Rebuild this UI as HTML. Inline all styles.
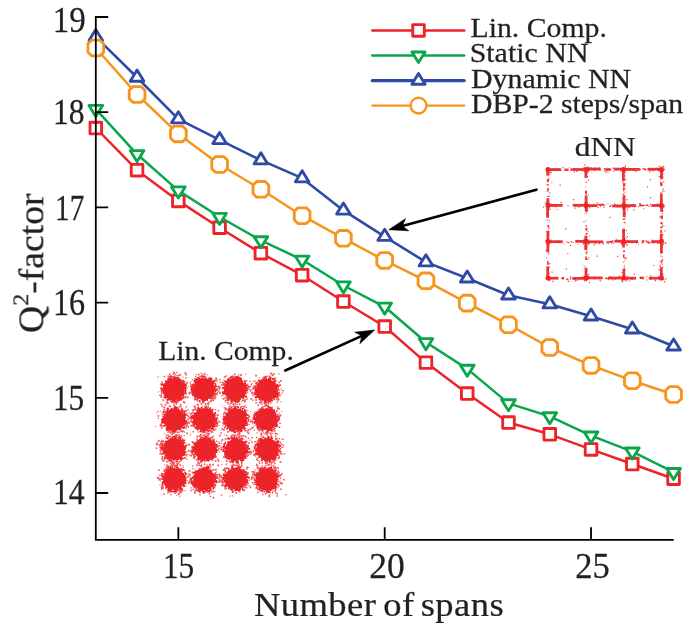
<!DOCTYPE html>
<html><head><meta charset="utf-8"><style>
html,body{margin:0;padding:0;background:#fff;}
svg{display:block;}
</style></head><body>
<svg width="685" height="627" viewBox="0 0 685 627">

<rect width="685" height="627" fill="#fff"/>
<g fill="#ec2328"><circle cx="173.8" cy="389.1" r="10.8"/><circle cx="204.1" cy="389.2" r="10.8"/><circle cx="235.1" cy="389.3" r="10.8"/><circle cx="266.7" cy="390.1" r="10.8"/><circle cx="174.5" cy="419.5" r="10.8"/><circle cx="204.4" cy="419.1" r="10.8"/><circle cx="236.1" cy="419.5" r="10.8"/><circle cx="266.6" cy="419.3" r="10.8"/><circle cx="174.1" cy="449.1" r="10.8"/><circle cx="204.8" cy="449.0" r="10.8"/><circle cx="236.1" cy="449.7" r="10.8"/><circle cx="267.5" cy="449.2" r="10.8"/><circle cx="174.0" cy="478.9" r="10.8"/><circle cx="204.1" cy="479.5" r="10.8"/><circle cx="235.5" cy="478.8" r="10.8"/><circle cx="266.5" cy="479.5" r="10.8"/><path d="M165.0,397.8h1.1v1.1h-1.1zM163.6,393.0h1.7v1.7h-1.7zM174.6,398.1h1.7v1.7h-1.7zM185.3,392.4h1.1v1.1h-1.1zM179.9,380.0h1.4v1.4h-1.4zM161.1,383.5h1.7v1.7h-1.7zM163.9,383.2h1.7v1.7h-1.7zM161.1,383.2h1.7v1.7h-1.7zM168.1,377.6h1.4v1.4h-1.4zM169.2,376.2h1.1v1.1h-1.1zM167.3,397.1h1.4v1.4h-1.4zM185.5,387.0h1.1v1.1h-1.1zM182.9,384.0h1.4v1.4h-1.4zM167.3,378.2h1.7v1.7h-1.7zM169.2,377.8h1.7v1.7h-1.7zM176.5,377.9h1.1v1.1h-1.1zM169.1,398.0h1.7v1.7h-1.7zM163.6,396.4h1.7v1.7h-1.7zM183.7,384.2h1.4v1.4h-1.4zM174.4,378.4h1.1v1.1h-1.1zM165.0,394.4h1.4v1.4h-1.4zM182.5,379.9h1.4v1.4h-1.4zM170.9,400.8h1.4v1.4h-1.4zM174.8,401.0h1.1v1.1h-1.1zM174.6,400.3h1.1v1.1h-1.1zM171.2,398.6h1.1v1.1h-1.1zM165.5,396.2h1.7v1.7h-1.7zM177.3,398.9h1.1v1.1h-1.1zM182.7,395.6h1.7v1.7h-1.7zM182.5,395.4h1.4v1.4h-1.4zM165.0,396.0h1.7v1.7h-1.7zM167.2,396.8h1.4v1.4h-1.4zM184.7,386.7h1.4v1.4h-1.4zM183.1,394.4h1.1v1.1h-1.1zM169.5,379.2h1.7v1.7h-1.7zM184.8,384.5h1.7v1.7h-1.7zM173.7,376.8h1.4v1.4h-1.4zM174.9,378.4h1.4v1.4h-1.4zM173.9,375.6h1.1v1.1h-1.1zM171.8,376.2h1.1v1.1h-1.1zM184.4,383.7h1.4v1.4h-1.4zM165.2,397.7h1.1v1.1h-1.1zM161.2,389.5h1.7v1.7h-1.7zM161.4,389.7h1.7v1.7h-1.7zM182.3,397.0h1.4v1.4h-1.4zM164.3,394.9h1.1v1.1h-1.1zM179.0,396.6h1.4v1.4h-1.4zM180.7,398.4h1.7v1.7h-1.7zM176.5,377.3h1.7v1.7h-1.7zM176.1,400.6h1.4v1.4h-1.4zM179.4,395.2h1.7v1.7h-1.7zM183.7,381.1h1.4v1.4h-1.4zM182.2,380.0h1.1v1.1h-1.1zM163.9,392.2h1.1v1.1h-1.1zM174.8,379.1h1.1v1.1h-1.1zM163.1,386.4h1.4v1.4h-1.4zM182.5,395.0h1.4v1.4h-1.4zM163.7,391.7h1.7v1.7h-1.7zM160.8,390.3h1.1v1.1h-1.1zM180.5,381.1h1.4v1.4h-1.4zM163.3,392.3h1.1v1.1h-1.1zM169.6,399.0h1.1v1.1h-1.1zM179.8,398.3h1.7v1.7h-1.7zM180.1,396.6h1.4v1.4h-1.4zM183.6,385.2h1.4v1.4h-1.4zM160.4,387.1h1.4v1.4h-1.4zM166.3,396.0h1.4v1.4h-1.4zM163.6,392.3h1.1v1.1h-1.1zM184.5,385.7h1.1v1.1h-1.1zM176.0,377.5h1.1v1.1h-1.1zM177.5,397.9h1.1v1.1h-1.1zM182.7,382.8h1.7v1.7h-1.7zM168.0,398.1h1.4v1.4h-1.4zM182.7,393.2h1.1v1.1h-1.1zM177.1,377.1h1.1v1.1h-1.1zM180.3,395.4h1.1v1.1h-1.1zM162.2,384.6h1.4v1.4h-1.4zM177.5,398.0h1.4v1.4h-1.4zM162.4,392.0h1.7v1.7h-1.7zM167.6,396.6h1.1v1.1h-1.1zM161.5,388.1h1.1v1.1h-1.1zM173.3,398.0h1.4v1.4h-1.4zM162.4,388.7h1.4v1.4h-1.4zM181.6,393.4h1.4v1.4h-1.4zM173.7,400.9h1.4v1.4h-1.4zM177.6,398.8h1.4v1.4h-1.4zM182.8,386.5h1.7v1.7h-1.7zM182.1,393.6h1.4v1.4h-1.4zM176.5,399.3h1.7v1.7h-1.7zM185.1,390.1h1.4v1.4h-1.4zM170.2,375.7h1.7v1.7h-1.7zM180.6,398.7h1.7v1.7h-1.7zM161.3,383.7h1.7v1.7h-1.7zM172.1,399.7h1.4v1.4h-1.4zM172.8,376.6h1.7v1.7h-1.7zM183.1,393.4h1.4v1.4h-1.4zM167.5,380.6h1.4v1.4h-1.4zM164.7,396.0h1.4v1.4h-1.4zM165.7,380.2h1.1v1.1h-1.1zM179.3,396.6h1.4v1.4h-1.4zM180.3,396.4h1.4v1.4h-1.4zM171.4,401.0h1.7v1.7h-1.7zM170.5,378.6h1.4v1.4h-1.4zM161.1,391.1h1.1v1.1h-1.1zM163.1,390.8h1.7v1.7h-1.7zM181.5,393.7h1.7v1.7h-1.7zM177.6,378.4h1.7v1.7h-1.7zM180.6,394.8h1.4v1.4h-1.4zM185.0,390.4h1.1v1.1h-1.1zM168.6,398.5h1.4v1.4h-1.4zM173.1,377.0h1.4v1.4h-1.4zM183.5,392.9h1.4v1.4h-1.4zM174.0,376.5h1.4v1.4h-1.4zM183.6,384.1h1.7v1.7h-1.7zM179.0,399.2h1.4v1.4h-1.4zM169.6,399.0h1.7v1.7h-1.7zM173.9,399.4h1.4v1.4h-1.4zM164.0,395.7h1.1v1.1h-1.1zM177.6,376.9h1.7v1.7h-1.7zM182.1,382.3h1.4v1.4h-1.4zM178.1,398.3h1.7v1.7h-1.7zM173.8,398.4h1.4v1.4h-1.4zM180.8,380.2h1.4v1.4h-1.4zM163.2,386.9h1.4v1.4h-1.4zM164.6,384.1h1.4v1.4h-1.4zM160.4,388.0h1.7v1.7h-1.7zM182.7,381.1h1.4v1.4h-1.4zM163.3,391.9h1.4v1.4h-1.4zM184.3,390.6h1.7v1.7h-1.7zM176.8,377.3h1.7v1.7h-1.7zM184.4,386.5h1.1v1.1h-1.1zM175.3,376.4h1.1v1.1h-1.1zM174.6,400.5h1.1v1.1h-1.1zM172.8,398.2h1.7v1.7h-1.7zM174.2,377.8h1.1v1.1h-1.1zM163.4,396.9h1.1v1.1h-1.1zM184.7,388.3h1.7v1.7h-1.7zM174.3,399.6h1.1v1.1h-1.1zM185.2,392.9h1.1v1.1h-1.1zM167.8,378.2h1.4v1.4h-1.4zM166.3,395.6h1.4v1.4h-1.4zM166.7,398.8h1.4v1.4h-1.4zM170.4,397.6h1.7v1.7h-1.7zM163.6,388.8h1.1v1.1h-1.1zM174.9,398.5h1.4v1.4h-1.4zM164.9,380.4h1.7v1.7h-1.7zM167.9,379.7h1.7v1.7h-1.7zM163.7,396.1h1.1v1.1h-1.1zM170.3,377.2h1.1v1.1h-1.1zM181.9,381.8h1.4v1.4h-1.4zM163.6,386.9h1.4v1.4h-1.4zM165.5,396.1h1.4v1.4h-1.4zM182.3,395.9h1.1v1.1h-1.1zM161.1,390.4h1.4v1.4h-1.4zM163.8,391.6h1.4v1.4h-1.4zM164.5,393.6h1.7v1.7h-1.7zM184.5,391.5h1.1v1.1h-1.1zM176.6,397.8h1.1v1.1h-1.1zM166.5,398.8h1.4v1.4h-1.4zM172.7,378.0h1.7v1.7h-1.7zM171.7,398.1h1.1v1.1h-1.1zM174.3,400.5h1.4v1.4h-1.4zM181.5,397.6h1.4v1.4h-1.4zM178.0,378.8h1.1v1.1h-1.1zM162.9,387.6h1.4v1.4h-1.4zM179.9,399.2h1.4v1.4h-1.4zM184.6,387.5h1.4v1.4h-1.4zM183.3,387.6h1.4v1.4h-1.4zM181.2,397.4h1.4v1.4h-1.4zM179.5,378.8h1.7v1.7h-1.7zM172.4,376.8h1.1v1.1h-1.1zM177.4,398.2h1.1v1.1h-1.1zM167.5,399.1h1.4v1.4h-1.4zM173.2,400.0h1.7v1.7h-1.7zM184.1,387.9h1.1v1.1h-1.1zM170.0,400.1h1.1v1.1h-1.1zM165.0,382.4h1.7v1.7h-1.7zM178.3,399.3h1.7v1.7h-1.7zM175.1,377.8h1.1v1.1h-1.1zM175.6,400.6h1.4v1.4h-1.4zM184.2,391.5h1.4v1.4h-1.4zM177.1,379.1h1.4v1.4h-1.4zM162.9,385.3h1.1v1.1h-1.1zM178.2,397.0h1.7v1.7h-1.7zM183.3,387.5h1.7v1.7h-1.7zM162.4,383.7h1.4v1.4h-1.4zM183.2,389.5h1.4v1.4h-1.4zM183.9,384.3h1.4v1.4h-1.4zM179.3,398.5h1.1v1.1h-1.1zM180.2,397.3h1.4v1.4h-1.4zM161.9,388.2h1.1v1.1h-1.1zM179.2,398.1h1.1v1.1h-1.1zM179.2,378.8h1.1v1.1h-1.1zM184.1,382.9h1.4v1.4h-1.4zM170.7,378.9h1.7v1.7h-1.7zM212.2,397.0h1.1v1.1h-1.1zM208.2,378.1h1.1v1.1h-1.1zM194.2,381.8h1.7v1.7h-1.7zM199.3,399.8h1.1v1.1h-1.1zM213.0,387.6h1.4v1.4h-1.4zM204.2,378.8h1.4v1.4h-1.4zM214.8,393.6h1.4v1.4h-1.4zM213.4,395.0h1.4v1.4h-1.4zM210.0,395.5h1.7v1.7h-1.7zM201.7,378.7h1.1v1.1h-1.1zM215.0,385.0h1.1v1.1h-1.1zM212.0,392.2h1.7v1.7h-1.7zM213.5,387.3h1.4v1.4h-1.4zM207.7,378.3h1.1v1.1h-1.1zM208.2,379.8h1.7v1.7h-1.7zM193.3,388.3h1.4v1.4h-1.4zM202.4,399.1h1.7v1.7h-1.7zM194.5,394.4h1.7v1.7h-1.7zM197.9,376.8h1.4v1.4h-1.4zM193.7,386.4h1.7v1.7h-1.7zM216.1,385.7h1.4v1.4h-1.4zM193.9,395.9h1.4v1.4h-1.4zM195.3,398.5h1.1v1.1h-1.1zM207.6,397.0h1.7v1.7h-1.7zM198.7,399.8h1.7v1.7h-1.7zM195.3,381.2h1.4v1.4h-1.4zM197.1,396.0h1.1v1.1h-1.1zM213.5,390.0h1.1v1.1h-1.1zM195.0,383.3h1.1v1.1h-1.1zM209.7,377.3h1.1v1.1h-1.1zM210.2,397.7h1.1v1.1h-1.1zM209.6,396.4h1.7v1.7h-1.7zM213.3,380.3h1.7v1.7h-1.7zM215.2,388.6h1.1v1.1h-1.1zM213.9,392.6h1.1v1.1h-1.1zM193.5,385.3h1.1v1.1h-1.1zM192.7,387.8h1.7v1.7h-1.7zM193.5,379.9h1.7v1.7h-1.7zM210.9,382.2h1.4v1.4h-1.4zM213.7,388.9h1.4v1.4h-1.4zM202.4,400.7h1.7v1.7h-1.7zM199.5,377.4h1.4v1.4h-1.4zM215.0,386.4h1.4v1.4h-1.4zM212.4,382.1h1.7v1.7h-1.7zM208.6,396.5h1.4v1.4h-1.4zM194.4,396.7h1.7v1.7h-1.7zM210.7,379.4h1.4v1.4h-1.4zM215.1,390.6h1.1v1.1h-1.1zM209.8,380.4h1.4v1.4h-1.4zM212.7,385.5h1.7v1.7h-1.7zM206.8,399.8h1.1v1.1h-1.1zM195.8,378.4h1.4v1.4h-1.4zM192.1,394.6h1.1v1.1h-1.1zM204.1,378.2h1.4v1.4h-1.4zM194.2,381.6h1.4v1.4h-1.4zM193.4,394.6h1.4v1.4h-1.4zM211.5,394.2h1.4v1.4h-1.4zM210.9,380.0h1.1v1.1h-1.1zM201.1,398.1h1.4v1.4h-1.4zM214.3,387.1h1.1v1.1h-1.1zM195.9,398.9h1.7v1.7h-1.7zM214.9,384.2h1.4v1.4h-1.4zM191.2,389.0h1.7v1.7h-1.7zM212.8,394.8h1.4v1.4h-1.4zM196.2,395.0h1.7v1.7h-1.7zM203.6,375.7h1.7v1.7h-1.7zM197.5,396.8h1.4v1.4h-1.4zM192.6,384.7h1.4v1.4h-1.4zM192.7,392.8h1.4v1.4h-1.4zM212.2,381.0h1.1v1.1h-1.1zM202.0,399.8h1.7v1.7h-1.7zM191.4,386.9h1.1v1.1h-1.1zM214.5,385.4h1.1v1.1h-1.1zM198.1,380.2h1.1v1.1h-1.1zM211.3,394.9h1.1v1.1h-1.1zM215.1,389.4h1.4v1.4h-1.4zM191.9,388.3h1.7v1.7h-1.7zM202.7,377.2h1.1v1.1h-1.1zM211.6,383.1h1.4v1.4h-1.4zM210.5,377.9h1.7v1.7h-1.7zM211.6,380.5h1.7v1.7h-1.7zM196.0,379.3h1.4v1.4h-1.4zM202.5,400.9h1.7v1.7h-1.7zM210.3,379.0h1.4v1.4h-1.4zM198.4,378.4h1.1v1.1h-1.1zM201.5,378.9h1.1v1.1h-1.1zM191.4,385.2h1.7v1.7h-1.7zM214.9,389.6h1.4v1.4h-1.4zM190.7,387.5h1.1v1.1h-1.1zM203.2,400.8h1.4v1.4h-1.4zM215.3,389.5h1.4v1.4h-1.4zM202.6,376.0h1.7v1.7h-1.7zM204.9,378.7h1.7v1.7h-1.7zM208.4,377.5h1.1v1.1h-1.1zM195.2,378.7h1.4v1.4h-1.4zM210.8,395.8h1.4v1.4h-1.4zM210.9,378.3h1.4v1.4h-1.4zM198.1,377.3h1.4v1.4h-1.4zM192.5,389.3h1.7v1.7h-1.7zM197.3,378.9h1.4v1.4h-1.4zM212.2,393.6h1.7v1.7h-1.7zM197.3,379.1h1.1v1.1h-1.1zM210.3,398.2h1.4v1.4h-1.4zM190.5,385.8h1.7v1.7h-1.7zM209.6,395.9h1.4v1.4h-1.4zM192.2,389.7h1.1v1.1h-1.1zM195.5,382.7h1.7v1.7h-1.7zM209.4,379.2h1.4v1.4h-1.4zM192.0,391.0h1.4v1.4h-1.4zM212.8,386.3h1.1v1.1h-1.1zM215.4,390.1h1.1v1.1h-1.1zM214.7,383.3h1.4v1.4h-1.4zM201.1,377.4h1.7v1.7h-1.7zM196.4,398.9h1.7v1.7h-1.7zM213.3,382.4h1.4v1.4h-1.4zM209.2,377.5h1.4v1.4h-1.4zM192.4,388.9h1.4v1.4h-1.4zM213.1,386.8h1.7v1.7h-1.7zM212.8,397.1h1.1v1.1h-1.1zM196.6,380.7h1.1v1.1h-1.1zM191.4,384.2h1.4v1.4h-1.4zM215.2,389.1h1.1v1.1h-1.1zM191.4,390.2h1.7v1.7h-1.7zM194.5,397.6h1.1v1.1h-1.1zM200.1,379.3h1.7v1.7h-1.7zM195.3,379.4h1.7v1.7h-1.7zM212.9,395.5h1.1v1.1h-1.1zM215.0,383.3h1.1v1.1h-1.1zM207.9,379.4h1.4v1.4h-1.4zM194.9,393.0h1.4v1.4h-1.4zM192.6,383.6h1.7v1.7h-1.7zM192.1,394.4h1.7v1.7h-1.7zM194.4,395.9h1.7v1.7h-1.7zM197.5,379.2h1.1v1.1h-1.1zM197.1,380.3h1.1v1.1h-1.1zM195.1,379.9h1.4v1.4h-1.4zM213.4,386.5h1.1v1.1h-1.1zM211.2,395.9h1.4v1.4h-1.4zM202.6,378.8h1.1v1.1h-1.1zM213.7,394.4h1.7v1.7h-1.7zM190.5,388.5h1.7v1.7h-1.7zM201.3,377.6h1.1v1.1h-1.1zM209.7,377.4h1.7v1.7h-1.7zM192.3,392.7h1.7v1.7h-1.7zM215.3,386.1h1.1v1.1h-1.1zM193.2,394.3h1.4v1.4h-1.4zM208.3,379.3h1.4v1.4h-1.4zM209.9,397.5h1.4v1.4h-1.4zM213.4,387.1h1.1v1.1h-1.1zM212.1,381.8h1.4v1.4h-1.4zM216.2,388.6h1.4v1.4h-1.4zM204.6,375.9h1.1v1.1h-1.1zM212.1,393.5h1.7v1.7h-1.7zM201.3,375.9h1.1v1.1h-1.1zM215.2,392.9h1.4v1.4h-1.4zM203.5,378.4h1.4v1.4h-1.4zM213.1,394.4h1.4v1.4h-1.4zM212.5,381.3h1.7v1.7h-1.7zM190.7,388.1h1.1v1.1h-1.1zM200.4,378.9h1.4v1.4h-1.4zM196.3,396.9h1.7v1.7h-1.7zM192.4,389.1h1.1v1.1h-1.1zM192.2,387.2h1.1v1.1h-1.1zM206.3,398.7h1.7v1.7h-1.7zM205.5,377.3h1.4v1.4h-1.4zM193.5,391.7h1.7v1.7h-1.7zM195.1,396.7h1.1v1.1h-1.1zM204.8,400.0h1.1v1.1h-1.1zM197.2,377.2h1.4v1.4h-1.4zM204.3,399.2h1.7v1.7h-1.7zM214.6,391.2h1.4v1.4h-1.4zM192.6,387.4h1.7v1.7h-1.7zM209.9,396.8h1.1v1.1h-1.1zM198.5,378.5h1.4v1.4h-1.4zM211.1,396.1h1.4v1.4h-1.4zM213.1,382.8h1.1v1.1h-1.1zM196.1,381.7h1.4v1.4h-1.4zM211.3,398.0h1.4v1.4h-1.4zM197.9,397.6h1.1v1.1h-1.1zM205.4,398.9h1.1v1.1h-1.1zM193.5,391.8h1.1v1.1h-1.1zM203.8,399.7h1.1v1.1h-1.1zM209.7,378.6h1.4v1.4h-1.4zM192.7,391.5h1.4v1.4h-1.4zM214.2,387.2h1.1v1.1h-1.1zM193.3,384.5h1.4v1.4h-1.4zM204.1,398.1h1.4v1.4h-1.4zM212.6,381.7h1.1v1.1h-1.1zM197.5,398.1h1.1v1.1h-1.1zM200.9,399.2h1.4v1.4h-1.4zM192.1,387.0h1.1v1.1h-1.1zM194.0,380.4h1.7v1.7h-1.7zM213.5,389.0h1.7v1.7h-1.7zM193.6,394.6h1.7v1.7h-1.7zM192.2,389.1h1.1v1.1h-1.1zM198.7,380.3h1.1v1.1h-1.1zM208.8,379.0h1.4v1.4h-1.4zM210.0,380.3h1.4v1.4h-1.4zM191.3,392.6h1.7v1.7h-1.7zM236.6,376.6h1.4v1.4h-1.4zM242.7,398.0h1.1v1.1h-1.1zM243.5,395.5h1.4v1.4h-1.4zM245.2,385.7h1.1v1.1h-1.1zM244.2,389.6h1.7v1.7h-1.7zM223.7,391.3h1.1v1.1h-1.1zM221.9,391.3h1.7v1.7h-1.7zM226.5,394.2h1.1v1.1h-1.1zM236.1,399.5h1.1v1.1h-1.1zM244.4,386.9h1.1v1.1h-1.1zM228.4,398.7h1.1v1.1h-1.1zM222.8,383.6h1.4v1.4h-1.4zM227.2,398.1h1.4v1.4h-1.4zM247.1,389.7h1.1v1.1h-1.1zM222.5,388.4h1.1v1.1h-1.1zM225.0,393.7h1.4v1.4h-1.4zM227.5,380.1h1.4v1.4h-1.4zM234.2,400.5h1.7v1.7h-1.7zM241.6,394.9h1.4v1.4h-1.4zM241.7,395.5h1.7v1.7h-1.7zM241.8,398.5h1.1v1.1h-1.1zM231.8,378.3h1.4v1.4h-1.4zM239.8,377.4h1.1v1.1h-1.1zM236.4,400.6h1.7v1.7h-1.7zM245.3,383.2h1.1v1.1h-1.1zM235.1,400.2h1.7v1.7h-1.7zM236.7,398.7h1.1v1.1h-1.1zM222.8,387.4h1.4v1.4h-1.4zM235.3,375.9h1.7v1.7h-1.7zM241.3,396.9h1.1v1.1h-1.1zM222.0,387.1h1.7v1.7h-1.7zM230.9,377.1h1.4v1.4h-1.4zM232.2,399.4h1.7v1.7h-1.7zM223.1,391.5h1.7v1.7h-1.7zM227.3,397.6h1.7v1.7h-1.7zM237.0,377.7h1.4v1.4h-1.4zM230.8,399.0h1.7v1.7h-1.7zM224.4,383.1h1.1v1.1h-1.1zM234.0,398.6h1.4v1.4h-1.4zM225.9,380.6h1.4v1.4h-1.4zM224.3,387.4h1.7v1.7h-1.7zM229.8,379.5h1.4v1.4h-1.4zM229.2,378.4h1.7v1.7h-1.7zM227.0,378.8h1.7v1.7h-1.7zM238.6,398.9h1.4v1.4h-1.4zM247.3,388.3h1.4v1.4h-1.4zM234.3,377.9h1.1v1.1h-1.1zM240.0,377.4h1.7v1.7h-1.7zM244.2,380.3h1.4v1.4h-1.4zM245.0,392.8h1.7v1.7h-1.7zM227.5,397.4h1.7v1.7h-1.7zM237.2,376.9h1.4v1.4h-1.4zM224.7,385.3h1.4v1.4h-1.4zM244.2,390.6h1.1v1.1h-1.1zM225.2,385.4h1.4v1.4h-1.4zM242.8,396.7h1.1v1.1h-1.1zM243.2,393.1h1.7v1.7h-1.7zM225.0,390.6h1.4v1.4h-1.4zM235.9,377.1h1.4v1.4h-1.4zM235.1,398.3h1.4v1.4h-1.4zM242.2,383.0h1.7v1.7h-1.7zM238.1,398.5h1.7v1.7h-1.7zM226.3,381.0h1.1v1.1h-1.1zM239.8,398.9h1.1v1.1h-1.1zM244.0,387.6h1.1v1.1h-1.1zM231.7,377.4h1.1v1.1h-1.1zM241.6,382.1h1.4v1.4h-1.4zM241.5,394.9h1.7v1.7h-1.7zM223.5,393.3h1.4v1.4h-1.4zM229.1,397.2h1.1v1.1h-1.1zM224.3,385.8h1.1v1.1h-1.1zM224.0,391.0h1.1v1.1h-1.1zM225.6,396.9h1.7v1.7h-1.7zM246.5,384.6h1.7v1.7h-1.7zM245.6,384.4h1.4v1.4h-1.4zM222.7,393.2h1.4v1.4h-1.4zM243.0,397.3h1.1v1.1h-1.1zM243.8,394.7h1.4v1.4h-1.4zM232.6,379.4h1.1v1.1h-1.1zM226.7,395.2h1.1v1.1h-1.1zM238.2,397.9h1.1v1.1h-1.1zM244.0,382.6h1.7v1.7h-1.7zM226.5,380.5h1.7v1.7h-1.7zM229.8,376.9h1.4v1.4h-1.4zM230.7,376.2h1.4v1.4h-1.4zM227.0,380.9h1.1v1.1h-1.1zM232.7,399.9h1.7v1.7h-1.7zM243.9,391.2h1.1v1.1h-1.1zM235.0,378.6h1.1v1.1h-1.1zM227.0,379.9h1.1v1.1h-1.1zM235.8,398.6h1.4v1.4h-1.4zM230.5,379.9h1.4v1.4h-1.4zM228.5,396.8h1.4v1.4h-1.4zM227.4,399.1h1.7v1.7h-1.7zM223.8,392.1h1.1v1.1h-1.1zM237.7,400.7h1.7v1.7h-1.7zM235.3,378.1h1.1v1.1h-1.1zM239.7,377.9h1.7v1.7h-1.7zM245.7,386.2h1.1v1.1h-1.1zM230.5,399.0h1.1v1.1h-1.1zM224.0,389.5h1.4v1.4h-1.4zM225.1,391.7h1.7v1.7h-1.7zM230.4,400.5h1.7v1.7h-1.7zM238.9,377.8h1.7v1.7h-1.7zM243.9,384.7h1.7v1.7h-1.7zM235.7,377.0h1.1v1.1h-1.1zM231.7,399.5h1.4v1.4h-1.4zM224.1,392.3h1.1v1.1h-1.1zM231.1,400.8h1.7v1.7h-1.7zM245.0,389.4h1.4v1.4h-1.4zM224.4,384.5h1.1v1.1h-1.1zM242.8,383.7h1.7v1.7h-1.7zM227.0,382.2h1.7v1.7h-1.7zM240.7,396.1h1.1v1.1h-1.1zM225.5,395.8h1.1v1.1h-1.1zM240.4,379.4h1.7v1.7h-1.7zM237.2,376.0h1.4v1.4h-1.4zM239.1,379.5h1.4v1.4h-1.4zM241.6,396.9h1.4v1.4h-1.4zM242.9,395.4h1.7v1.7h-1.7zM246.8,388.6h1.4v1.4h-1.4zM224.2,380.9h1.7v1.7h-1.7zM224.9,392.2h1.4v1.4h-1.4zM245.0,391.3h1.4v1.4h-1.4zM244.0,390.5h1.7v1.7h-1.7zM231.9,378.7h1.4v1.4h-1.4zM244.4,389.3h1.1v1.1h-1.1zM222.3,392.9h1.7v1.7h-1.7zM224.0,383.9h1.4v1.4h-1.4zM244.9,386.5h1.7v1.7h-1.7zM229.8,379.7h1.7v1.7h-1.7zM224.9,384.5h1.4v1.4h-1.4zM227.9,381.4h1.1v1.1h-1.1zM240.1,396.3h1.7v1.7h-1.7zM233.9,398.4h1.1v1.1h-1.1zM243.7,380.6h1.7v1.7h-1.7zM228.4,380.4h1.1v1.1h-1.1zM230.1,376.5h1.7v1.7h-1.7zM225.7,383.3h1.1v1.1h-1.1zM222.1,391.6h1.7v1.7h-1.7zM239.4,397.8h1.1v1.1h-1.1zM236.1,379.2h1.1v1.1h-1.1zM245.0,392.0h1.1v1.1h-1.1zM230.8,398.9h1.7v1.7h-1.7zM243.4,383.1h1.1v1.1h-1.1zM244.7,382.8h1.4v1.4h-1.4zM234.0,376.7h1.4v1.4h-1.4zM234.1,399.8h1.1v1.1h-1.1zM233.6,378.8h1.4v1.4h-1.4zM244.7,396.0h1.7v1.7h-1.7zM226.2,382.5h1.1v1.1h-1.1zM238.7,400.2h1.4v1.4h-1.4zM245.6,387.8h1.4v1.4h-1.4zM237.9,378.6h1.1v1.1h-1.1zM243.0,384.4h1.7v1.7h-1.7zM234.2,399.8h1.7v1.7h-1.7zM224.2,388.7h1.1v1.1h-1.1zM247.1,391.6h1.1v1.1h-1.1zM241.0,379.0h1.1v1.1h-1.1zM222.9,392.7h1.1v1.1h-1.1zM228.7,399.5h1.1v1.1h-1.1zM241.1,395.9h1.7v1.7h-1.7zM223.8,390.6h1.7v1.7h-1.7zM245.2,384.2h1.4v1.4h-1.4zM245.8,390.1h1.4v1.4h-1.4zM224.4,380.5h1.7v1.7h-1.7zM232.7,398.9h1.7v1.7h-1.7zM233.5,377.5h1.7v1.7h-1.7zM228.9,378.4h1.4v1.4h-1.4zM243.9,380.4h1.7v1.7h-1.7zM223.9,392.1h1.7v1.7h-1.7zM232.6,377.6h1.7v1.7h-1.7zM238.4,398.5h1.1v1.1h-1.1zM231.1,397.8h1.4v1.4h-1.4zM239.3,396.8h1.4v1.4h-1.4zM244.5,390.0h1.1v1.1h-1.1zM241.2,380.5h1.7v1.7h-1.7zM235.2,401.6h1.1v1.1h-1.1zM238.7,377.0h1.7v1.7h-1.7zM241.2,396.4h1.1v1.1h-1.1zM230.2,397.6h1.1v1.1h-1.1zM229.7,397.2h1.7v1.7h-1.7zM226.1,393.8h1.1v1.1h-1.1zM247.3,387.6h1.4v1.4h-1.4zM222.4,391.6h1.1v1.1h-1.1zM230.1,398.8h1.4v1.4h-1.4zM232.3,375.8h1.4v1.4h-1.4zM223.5,386.7h1.1v1.1h-1.1zM228.1,396.0h1.4v1.4h-1.4zM227.5,378.2h1.7v1.7h-1.7zM235.6,399.6h1.7v1.7h-1.7zM236.1,378.2h1.4v1.4h-1.4zM243.9,385.1h1.1v1.1h-1.1zM222.8,384.3h1.1v1.1h-1.1zM244.4,388.1h1.1v1.1h-1.1zM246.4,387.2h1.1v1.1h-1.1zM237.8,400.1h1.1v1.1h-1.1zM225.0,381.2h1.7v1.7h-1.7zM244.6,383.4h1.1v1.1h-1.1zM269.4,378.9h1.4v1.4h-1.4zM268.9,378.6h1.1v1.1h-1.1zM260.1,381.8h1.4v1.4h-1.4zM260.0,398.0h1.1v1.1h-1.1zM269.2,400.1h1.4v1.4h-1.4zM262.9,399.2h1.4v1.4h-1.4zM273.1,381.1h1.4v1.4h-1.4zM273.8,398.4h1.4v1.4h-1.4zM274.6,382.6h1.1v1.1h-1.1zM256.7,381.6h1.4v1.4h-1.4zM268.0,378.6h1.4v1.4h-1.4zM259.9,398.0h1.1v1.1h-1.1zM256.1,396.8h1.4v1.4h-1.4zM269.3,400.2h1.7v1.7h-1.7zM267.4,401.8h1.4v1.4h-1.4zM264.8,379.4h1.1v1.1h-1.1zM265.1,379.2h1.7v1.7h-1.7zM264.3,402.1h1.1v1.1h-1.1zM269.5,399.3h1.1v1.1h-1.1zM256.6,392.2h1.4v1.4h-1.4zM262.1,379.8h1.7v1.7h-1.7zM256.2,395.0h1.1v1.1h-1.1zM257.8,396.5h1.4v1.4h-1.4zM268.3,378.1h1.7v1.7h-1.7zM259.6,381.0h1.7v1.7h-1.7zM254.6,392.4h1.7v1.7h-1.7zM256.2,388.6h1.7v1.7h-1.7zM259.9,379.9h1.4v1.4h-1.4zM275.4,384.5h1.4v1.4h-1.4zM278.5,389.5h1.1v1.1h-1.1zM261.2,380.0h1.1v1.1h-1.1zM272.1,378.5h1.4v1.4h-1.4zM274.5,395.8h1.4v1.4h-1.4zM255.0,387.8h1.4v1.4h-1.4zM277.6,389.0h1.7v1.7h-1.7zM258.6,381.1h1.7v1.7h-1.7zM261.3,379.3h1.4v1.4h-1.4zM260.0,379.9h1.7v1.7h-1.7zM276.9,390.7h1.1v1.1h-1.1zM265.1,400.9h1.7v1.7h-1.7zM261.7,398.4h1.1v1.1h-1.1zM255.2,393.6h1.7v1.7h-1.7zM256.6,394.3h1.4v1.4h-1.4zM258.6,397.4h1.1v1.1h-1.1zM266.2,379.3h1.4v1.4h-1.4zM258.2,383.1h1.4v1.4h-1.4zM276.9,384.0h1.1v1.1h-1.1zM275.6,394.0h1.4v1.4h-1.4zM254.6,387.5h1.4v1.4h-1.4zM266.3,379.1h1.1v1.1h-1.1zM275.2,391.7h1.7v1.7h-1.7zM260.1,400.0h1.4v1.4h-1.4zM275.3,395.2h1.1v1.1h-1.1zM253.3,387.9h1.1v1.1h-1.1zM265.6,401.9h1.4v1.4h-1.4zM277.6,393.2h1.4v1.4h-1.4zM258.9,396.0h1.4v1.4h-1.4zM276.4,392.8h1.7v1.7h-1.7zM276.1,384.6h1.7v1.7h-1.7zM269.8,378.5h1.1v1.1h-1.1zM263.0,378.9h1.7v1.7h-1.7zM256.8,395.1h1.7v1.7h-1.7zM269.9,377.3h1.7v1.7h-1.7zM256.6,393.3h1.7v1.7h-1.7zM272.7,397.2h1.1v1.1h-1.1zM263.7,377.7h1.7v1.7h-1.7zM254.8,389.4h1.7v1.7h-1.7zM256.8,387.5h1.1v1.1h-1.1zM275.5,395.6h1.1v1.1h-1.1zM260.6,381.1h1.4v1.4h-1.4zM274.0,380.3h1.7v1.7h-1.7zM271.6,398.2h1.4v1.4h-1.4zM261.7,398.2h1.7v1.7h-1.7zM261.3,401.4h1.4v1.4h-1.4zM269.3,379.7h1.1v1.1h-1.1zM276.5,391.6h1.4v1.4h-1.4zM262.5,379.7h1.1v1.1h-1.1zM259.8,397.3h1.7v1.7h-1.7zM277.5,388.9h1.7v1.7h-1.7zM266.0,379.3h1.4v1.4h-1.4zM254.7,386.5h1.1v1.1h-1.1zM254.2,391.8h1.1v1.1h-1.1zM274.7,395.8h1.1v1.1h-1.1zM277.8,384.9h1.7v1.7h-1.7zM255.4,390.6h1.4v1.4h-1.4zM271.0,399.9h1.4v1.4h-1.4zM265.9,377.8h1.1v1.1h-1.1zM254.9,395.9h1.7v1.7h-1.7zM256.9,384.5h1.4v1.4h-1.4zM259.4,397.0h1.7v1.7h-1.7zM256.2,389.5h1.7v1.7h-1.7zM256.7,385.2h1.1v1.1h-1.1zM258.6,397.9h1.1v1.1h-1.1zM269.0,377.3h1.7v1.7h-1.7zM265.7,379.0h1.1v1.1h-1.1zM278.5,391.8h1.4v1.4h-1.4zM274.5,396.3h1.7v1.7h-1.7zM262.2,379.5h1.4v1.4h-1.4zM275.4,384.5h1.1v1.1h-1.1zM277.1,384.3h1.4v1.4h-1.4zM256.3,388.8h1.1v1.1h-1.1zM260.0,398.6h1.1v1.1h-1.1zM276.5,394.2h1.7v1.7h-1.7zM268.9,398.6h1.7v1.7h-1.7zM259.4,380.2h1.4v1.4h-1.4zM269.8,378.5h1.4v1.4h-1.4zM270.5,381.0h1.4v1.4h-1.4zM276.9,386.5h1.7v1.7h-1.7zM268.1,379.4h1.4v1.4h-1.4zM273.1,379.6h1.1v1.1h-1.1zM254.5,389.8h1.7v1.7h-1.7zM277.0,392.9h1.7v1.7h-1.7zM277.8,384.9h1.4v1.4h-1.4zM274.6,383.4h1.4v1.4h-1.4zM255.3,392.3h1.4v1.4h-1.4zM254.7,392.0h1.1v1.1h-1.1zM275.2,395.0h1.4v1.4h-1.4zM254.9,386.8h1.1v1.1h-1.1zM261.6,379.3h1.1v1.1h-1.1zM260.4,399.6h1.1v1.1h-1.1zM267.6,400.1h1.7v1.7h-1.7zM256.9,382.2h1.1v1.1h-1.1zM269.6,380.3h1.4v1.4h-1.4zM264.6,376.4h1.7v1.7h-1.7zM254.0,393.8h1.4v1.4h-1.4zM259.9,379.8h1.7v1.7h-1.7zM258.7,398.1h1.1v1.1h-1.1zM255.2,385.3h1.4v1.4h-1.4zM253.3,388.5h1.1v1.1h-1.1zM261.8,398.0h1.1v1.1h-1.1zM275.4,385.4h1.4v1.4h-1.4zM277.9,393.0h1.4v1.4h-1.4zM256.4,383.4h1.4v1.4h-1.4zM275.4,390.8h1.7v1.7h-1.7zM270.9,380.9h1.4v1.4h-1.4zM273.5,398.5h1.7v1.7h-1.7zM276.0,392.9h1.4v1.4h-1.4zM277.7,385.3h1.1v1.1h-1.1zM276.4,384.3h1.4v1.4h-1.4zM258.7,395.7h1.4v1.4h-1.4zM269.3,400.8h1.7v1.7h-1.7zM268.0,378.1h1.4v1.4h-1.4zM263.6,401.7h1.7v1.7h-1.7zM263.8,378.7h1.4v1.4h-1.4zM265.5,399.9h1.1v1.1h-1.1zM277.5,388.1h1.1v1.1h-1.1zM271.2,399.9h1.7v1.7h-1.7zM257.1,396.1h1.7v1.7h-1.7zM274.5,380.2h1.7v1.7h-1.7zM256.7,395.0h1.4v1.4h-1.4zM257.3,394.4h1.7v1.7h-1.7zM256.9,384.9h1.1v1.1h-1.1zM264.0,401.4h1.7v1.7h-1.7zM273.5,396.9h1.4v1.4h-1.4zM273.4,382.1h1.4v1.4h-1.4zM258.6,398.0h1.7v1.7h-1.7zM262.3,377.9h1.1v1.1h-1.1zM277.5,386.2h1.1v1.1h-1.1zM264.5,399.9h1.1v1.1h-1.1zM255.2,382.5h1.7v1.7h-1.7zM275.8,385.2h1.4v1.4h-1.4zM270.2,380.4h1.4v1.4h-1.4zM269.6,380.3h1.4v1.4h-1.4zM276.1,393.5h1.7v1.7h-1.7zM257.7,396.0h1.7v1.7h-1.7zM261.1,380.7h1.1v1.1h-1.1zM257.0,384.8h1.4v1.4h-1.4zM255.3,392.5h1.4v1.4h-1.4zM255.1,388.3h1.4v1.4h-1.4zM263.0,380.0h1.4v1.4h-1.4zM278.0,385.1h1.7v1.7h-1.7zM268.8,398.8h1.1v1.1h-1.1zM258.0,379.6h1.7v1.7h-1.7zM270.9,397.5h1.7v1.7h-1.7zM258.9,399.0h1.1v1.1h-1.1zM274.4,382.9h1.7v1.7h-1.7zM275.5,396.5h1.1v1.1h-1.1zM268.6,399.3h1.4v1.4h-1.4zM263.9,400.1h1.7v1.7h-1.7zM264.9,379.3h1.4v1.4h-1.4zM273.7,398.5h1.1v1.1h-1.1zM256.4,383.7h1.4v1.4h-1.4zM276.6,395.8h1.1v1.1h-1.1zM177.1,428.9h1.4v1.4h-1.4zM182.6,413.7h1.7v1.7h-1.7zM172.3,408.6h1.1v1.1h-1.1zM179.3,428.7h1.7v1.7h-1.7zM167.8,410.6h1.7v1.7h-1.7zM174.8,431.0h1.1v1.1h-1.1zM164.4,414.6h1.7v1.7h-1.7zM184.2,414.1h1.1v1.1h-1.1zM185.1,421.9h1.7v1.7h-1.7zM180.4,428.2h1.1v1.1h-1.1zM183.7,415.8h1.7v1.7h-1.7zM165.2,411.1h1.4v1.4h-1.4zM176.5,407.1h1.4v1.4h-1.4zM166.7,412.1h1.7v1.7h-1.7zM165.6,425.2h1.1v1.1h-1.1zM163.9,418.3h1.4v1.4h-1.4zM170.7,407.9h1.7v1.7h-1.7zM184.2,417.0h1.7v1.7h-1.7zM169.5,409.9h1.1v1.1h-1.1zM183.8,426.2h1.4v1.4h-1.4zM162.2,422.1h1.4v1.4h-1.4zM184.0,412.8h1.1v1.1h-1.1zM184.3,420.7h1.4v1.4h-1.4zM173.8,428.9h1.4v1.4h-1.4zM166.8,427.6h1.4v1.4h-1.4zM175.5,406.8h1.1v1.1h-1.1zM183.6,426.3h1.4v1.4h-1.4zM167.4,429.7h1.1v1.1h-1.1zM162.8,416.5h1.7v1.7h-1.7zM174.1,428.6h1.4v1.4h-1.4zM171.6,428.7h1.1v1.1h-1.1zM183.7,415.2h1.7v1.7h-1.7zM169.8,409.3h1.7v1.7h-1.7zM167.5,428.8h1.1v1.1h-1.1zM181.7,409.6h1.7v1.7h-1.7zM183.2,423.0h1.4v1.4h-1.4zM184.1,419.7h1.4v1.4h-1.4zM164.4,415.1h1.7v1.7h-1.7zM182.1,424.8h1.4v1.4h-1.4zM183.9,418.2h1.1v1.1h-1.1zM167.8,407.8h1.4v1.4h-1.4zM182.2,424.0h1.7v1.7h-1.7zM169.9,428.3h1.4v1.4h-1.4zM184.0,417.6h1.4v1.4h-1.4zM182.5,424.1h1.7v1.7h-1.7zM179.9,411.0h1.1v1.1h-1.1zM166.7,427.5h1.7v1.7h-1.7zM173.7,431.2h1.4v1.4h-1.4zM167.2,407.8h1.1v1.1h-1.1zM183.8,410.8h1.4v1.4h-1.4zM163.0,420.6h1.4v1.4h-1.4zM162.9,421.4h1.7v1.7h-1.7zM184.5,413.3h1.1v1.1h-1.1zM184.3,423.1h1.1v1.1h-1.1zM184.1,414.2h1.7v1.7h-1.7zM162.1,418.1h1.4v1.4h-1.4zM184.4,414.6h1.7v1.7h-1.7zM168.8,430.4h1.1v1.1h-1.1zM172.8,428.6h1.4v1.4h-1.4zM167.0,407.7h1.4v1.4h-1.4zM173.2,428.9h1.7v1.7h-1.7zM166.6,408.5h1.7v1.7h-1.7zM161.0,418.7h1.7v1.7h-1.7zM182.3,411.5h1.4v1.4h-1.4zM180.9,409.8h1.4v1.4h-1.4zM185.6,419.9h1.4v1.4h-1.4zM183.1,415.8h1.1v1.1h-1.1zM166.7,425.6h1.7v1.7h-1.7zM183.5,418.7h1.4v1.4h-1.4zM169.0,410.0h1.1v1.1h-1.1zM179.0,410.6h1.1v1.1h-1.1zM173.2,430.1h1.4v1.4h-1.4zM172.8,430.5h1.7v1.7h-1.7zM183.9,416.4h1.1v1.1h-1.1zM165.5,423.3h1.1v1.1h-1.1zM182.8,410.8h1.7v1.7h-1.7zM179.6,427.0h1.7v1.7h-1.7zM185.3,422.7h1.1v1.1h-1.1zM184.2,411.8h1.1v1.1h-1.1zM170.3,428.7h1.7v1.7h-1.7zM174.1,429.4h1.7v1.7h-1.7zM169.7,410.1h1.4v1.4h-1.4zM177.8,427.6h1.7v1.7h-1.7zM184.0,423.8h1.7v1.7h-1.7zM169.1,427.9h1.1v1.1h-1.1zM167.7,428.0h1.7v1.7h-1.7zM173.6,408.1h1.4v1.4h-1.4zM167.1,426.6h1.7v1.7h-1.7zM163.0,422.0h1.4v1.4h-1.4zM166.3,427.9h1.7v1.7h-1.7zM163.5,415.5h1.1v1.1h-1.1zM170.8,408.3h1.1v1.1h-1.1zM180.0,428.9h1.1v1.1h-1.1zM181.0,408.4h1.7v1.7h-1.7zM163.2,425.0h1.7v1.7h-1.7zM184.4,423.9h1.1v1.1h-1.1zM171.4,408.7h1.1v1.1h-1.1zM173.3,431.0h1.1v1.1h-1.1zM172.6,430.9h1.7v1.7h-1.7zM161.6,418.8h1.1v1.1h-1.1zM185.8,422.9h1.1v1.1h-1.1zM177.2,409.3h1.1v1.1h-1.1zM164.3,423.0h1.1v1.1h-1.1zM166.9,411.0h1.1v1.1h-1.1zM161.7,418.5h1.7v1.7h-1.7zM172.4,409.4h1.1v1.1h-1.1zM176.1,428.5h1.7v1.7h-1.7zM178.4,409.6h1.7v1.7h-1.7zM175.6,407.2h1.4v1.4h-1.4zM183.0,421.6h1.7v1.7h-1.7zM174.3,430.1h1.1v1.1h-1.1zM183.0,427.3h1.7v1.7h-1.7zM161.7,420.6h1.4v1.4h-1.4zM177.1,408.8h1.7v1.7h-1.7zM169.7,427.7h1.4v1.4h-1.4zM161.3,421.3h1.7v1.7h-1.7zM167.2,408.4h1.4v1.4h-1.4zM183.8,420.7h1.7v1.7h-1.7zM164.8,425.0h1.1v1.1h-1.1zM175.0,406.1h1.4v1.4h-1.4zM175.7,430.5h1.1v1.1h-1.1zM170.9,430.4h1.4v1.4h-1.4zM173.7,407.9h1.4v1.4h-1.4zM179.9,410.8h1.4v1.4h-1.4zM169.5,409.4h1.7v1.7h-1.7zM168.5,428.9h1.4v1.4h-1.4zM165.8,426.8h1.4v1.4h-1.4zM171.4,430.6h1.1v1.1h-1.1zM175.1,407.2h1.7v1.7h-1.7zM168.4,410.7h1.4v1.4h-1.4zM171.3,408.7h1.7v1.7h-1.7zM185.3,413.8h1.7v1.7h-1.7zM161.9,415.6h1.1v1.1h-1.1zM181.4,425.8h1.1v1.1h-1.1zM185.7,420.7h1.4v1.4h-1.4zM169.6,429.2h1.4v1.4h-1.4zM166.5,429.4h1.4v1.4h-1.4zM163.1,411.0h1.7v1.7h-1.7zM165.8,428.2h1.4v1.4h-1.4zM162.9,413.8h1.1v1.1h-1.1zM164.3,423.5h1.1v1.1h-1.1zM173.6,408.6h1.1v1.1h-1.1zM173.5,406.4h1.1v1.1h-1.1zM172.8,408.7h1.1v1.1h-1.1zM174.1,407.2h1.1v1.1h-1.1zM183.9,422.3h1.7v1.7h-1.7zM182.4,414.7h1.7v1.7h-1.7zM184.8,421.0h1.1v1.1h-1.1zM173.1,430.5h1.4v1.4h-1.4zM183.6,422.3h1.1v1.1h-1.1zM164.3,417.9h1.1v1.1h-1.1zM179.2,429.1h1.1v1.1h-1.1zM162.6,421.3h1.7v1.7h-1.7zM172.3,429.4h1.4v1.4h-1.4zM166.4,410.0h1.7v1.7h-1.7zM175.2,407.2h1.1v1.1h-1.1zM166.3,428.3h1.4v1.4h-1.4zM182.1,427.0h1.4v1.4h-1.4zM161.7,420.3h1.4v1.4h-1.4zM164.6,412.8h1.1v1.1h-1.1zM166.7,425.4h1.1v1.1h-1.1zM166.5,428.2h1.4v1.4h-1.4zM167.1,410.1h1.4v1.4h-1.4zM163.5,418.0h1.7v1.7h-1.7zM173.7,407.3h1.1v1.1h-1.1zM163.7,414.0h1.1v1.1h-1.1zM183.9,414.9h1.7v1.7h-1.7zM181.0,427.0h1.1v1.1h-1.1zM177.7,408.2h1.4v1.4h-1.4zM165.0,414.9h1.4v1.4h-1.4zM171.8,430.9h1.4v1.4h-1.4zM162.5,419.0h1.7v1.7h-1.7zM200.2,427.5h1.1v1.1h-1.1zM202.6,429.1h1.7v1.7h-1.7zM211.3,428.1h1.7v1.7h-1.7zM214.0,425.0h1.1v1.1h-1.1zM210.6,409.8h1.4v1.4h-1.4zM209.2,427.4h1.1v1.1h-1.1zM197.3,426.7h1.1v1.1h-1.1zM194.2,426.1h1.4v1.4h-1.4zM194.0,419.6h1.1v1.1h-1.1zM208.8,429.1h1.1v1.1h-1.1zM211.5,411.7h1.1v1.1h-1.1zM197.4,428.7h1.4v1.4h-1.4zM210.9,428.0h1.1v1.1h-1.1zM197.4,410.3h1.7v1.7h-1.7zM215.7,418.8h1.4v1.4h-1.4zM197.4,407.3h1.7v1.7h-1.7zM192.9,419.6h1.7v1.7h-1.7zM202.6,429.5h1.7v1.7h-1.7zM212.8,423.7h1.1v1.1h-1.1zM200.9,408.6h1.1v1.1h-1.1zM205.9,406.2h1.1v1.1h-1.1zM192.4,423.0h1.7v1.7h-1.7zM201.7,406.7h1.1v1.1h-1.1zM203.1,429.6h1.4v1.4h-1.4zM191.1,416.1h1.7v1.7h-1.7zM197.9,410.7h1.4v1.4h-1.4zM214.3,414.9h1.4v1.4h-1.4zM211.8,408.8h1.7v1.7h-1.7zM212.3,427.7h1.7v1.7h-1.7zM190.7,417.9h1.4v1.4h-1.4zM213.3,424.3h1.1v1.1h-1.1zM215.3,413.4h1.1v1.1h-1.1zM210.5,429.7h1.1v1.1h-1.1zM212.3,413.4h1.1v1.1h-1.1zM215.1,418.2h1.4v1.4h-1.4zM192.2,416.0h1.4v1.4h-1.4zM213.9,425.7h1.4v1.4h-1.4zM212.6,426.1h1.1v1.1h-1.1zM201.4,429.1h1.4v1.4h-1.4zM215.3,420.6h1.1v1.1h-1.1zM213.4,415.7h1.4v1.4h-1.4zM214.6,413.4h1.1v1.1h-1.1zM195.8,427.5h1.7v1.7h-1.7zM200.2,430.2h1.7v1.7h-1.7zM213.9,418.9h1.7v1.7h-1.7zM193.9,417.3h1.7v1.7h-1.7zM199.2,408.0h1.1v1.1h-1.1zM212.4,423.7h1.4v1.4h-1.4zM192.1,416.1h1.1v1.1h-1.1zM207.6,430.8h1.1v1.1h-1.1zM211.8,426.2h1.7v1.7h-1.7zM215.1,420.5h1.1v1.1h-1.1zM211.8,427.4h1.4v1.4h-1.4zM209.7,426.7h1.7v1.7h-1.7zM212.7,427.4h1.4v1.4h-1.4zM192.9,424.7h1.7v1.7h-1.7zM204.2,428.2h1.4v1.4h-1.4zM215.3,421.4h1.7v1.7h-1.7zM215.8,422.2h1.7v1.7h-1.7zM198.5,428.0h1.1v1.1h-1.1zM210.2,427.9h1.4v1.4h-1.4zM193.2,417.6h1.1v1.1h-1.1zM193.5,418.4h1.7v1.7h-1.7zM214.3,422.4h1.7v1.7h-1.7zM215.5,421.9h1.7v1.7h-1.7zM208.5,427.1h1.7v1.7h-1.7zM202.9,430.9h1.4v1.4h-1.4zM205.3,427.9h1.4v1.4h-1.4zM195.4,423.5h1.7v1.7h-1.7zM202.3,430.0h1.7v1.7h-1.7zM213.0,420.7h1.4v1.4h-1.4zM213.3,422.9h1.7v1.7h-1.7zM202.7,428.3h1.7v1.7h-1.7zM207.8,430.0h1.7v1.7h-1.7zM193.4,414.1h1.4v1.4h-1.4zM193.0,422.6h1.7v1.7h-1.7zM214.3,417.0h1.1v1.1h-1.1zM194.9,413.3h1.7v1.7h-1.7zM208.6,427.4h1.4v1.4h-1.4zM194.4,422.4h1.1v1.1h-1.1zM212.6,424.1h1.7v1.7h-1.7zM198.2,410.0h1.4v1.4h-1.4zM210.7,411.6h1.1v1.1h-1.1zM213.8,414.0h1.4v1.4h-1.4zM202.4,408.5h1.1v1.1h-1.1zM192.4,417.5h1.7v1.7h-1.7zM197.6,408.2h1.1v1.1h-1.1zM196.8,411.3h1.4v1.4h-1.4zM190.9,417.1h1.1v1.1h-1.1zM192.3,415.2h1.4v1.4h-1.4zM200.6,406.9h1.4v1.4h-1.4zM194.4,421.3h1.4v1.4h-1.4zM193.0,421.7h1.1v1.1h-1.1zM204.8,429.6h1.4v1.4h-1.4zM198.5,408.2h1.7v1.7h-1.7zM196.7,429.1h1.4v1.4h-1.4zM213.1,415.9h1.7v1.7h-1.7zM212.1,425.3h1.7v1.7h-1.7zM202.2,430.3h1.4v1.4h-1.4zM210.2,425.5h1.4v1.4h-1.4zM196.2,409.3h1.7v1.7h-1.7zM210.1,409.9h1.4v1.4h-1.4zM196.0,426.4h1.1v1.1h-1.1zM214.7,419.8h1.4v1.4h-1.4zM205.6,407.8h1.7v1.7h-1.7zM199.4,409.5h1.7v1.7h-1.7zM206.7,429.6h1.7v1.7h-1.7zM207.2,429.2h1.1v1.1h-1.1zM194.2,412.6h1.7v1.7h-1.7zM192.3,421.5h1.1v1.1h-1.1zM196.9,426.5h1.1v1.1h-1.1zM215.8,417.5h1.1v1.1h-1.1zM204.2,429.8h1.7v1.7h-1.7zM206.7,408.2h1.4v1.4h-1.4zM213.8,417.7h1.1v1.1h-1.1zM191.4,421.2h1.7v1.7h-1.7zM193.8,415.3h1.4v1.4h-1.4zM211.7,410.7h1.4v1.4h-1.4zM214.5,418.7h1.4v1.4h-1.4zM201.0,428.4h1.7v1.7h-1.7zM213.4,425.5h1.7v1.7h-1.7zM194.8,427.3h1.7v1.7h-1.7zM197.7,427.9h1.7v1.7h-1.7zM202.1,429.6h1.1v1.1h-1.1zM196.5,426.1h1.7v1.7h-1.7zM215.3,418.5h1.7v1.7h-1.7zM203.2,430.4h1.1v1.1h-1.1zM192.3,421.5h1.4v1.4h-1.4zM199.0,409.1h1.4v1.4h-1.4zM213.4,422.9h1.1v1.1h-1.1zM202.8,430.8h1.7v1.7h-1.7zM197.8,409.3h1.4v1.4h-1.4zM199.7,428.1h1.7v1.7h-1.7zM213.8,416.5h1.7v1.7h-1.7zM213.0,414.6h1.1v1.1h-1.1zM213.6,420.4h1.7v1.7h-1.7zM210.3,409.1h1.1v1.1h-1.1zM209.1,408.0h1.7v1.7h-1.7zM204.6,429.8h1.1v1.1h-1.1zM214.9,420.2h1.4v1.4h-1.4zM213.0,412.7h1.1v1.1h-1.1zM200.8,428.6h1.4v1.4h-1.4zM202.8,408.0h1.1v1.1h-1.1zM213.5,418.9h1.1v1.1h-1.1zM212.1,413.9h1.7v1.7h-1.7zM195.2,412.3h1.1v1.1h-1.1zM207.9,407.3h1.1v1.1h-1.1zM205.9,430.2h1.4v1.4h-1.4zM200.1,408.5h1.4v1.4h-1.4zM212.9,424.7h1.4v1.4h-1.4zM204.7,406.5h1.7v1.7h-1.7zM202.4,408.2h1.7v1.7h-1.7zM206.9,430.4h1.1v1.1h-1.1zM194.9,412.6h1.1v1.1h-1.1zM200.1,429.3h1.1v1.1h-1.1zM198.3,408.2h1.1v1.1h-1.1zM208.5,430.1h1.1v1.1h-1.1zM201.9,429.6h1.1v1.1h-1.1zM193.5,413.1h1.1v1.1h-1.1zM197.0,409.7h1.4v1.4h-1.4zM216.1,419.8h1.1v1.1h-1.1zM213.6,425.8h1.4v1.4h-1.4zM206.0,406.7h1.4v1.4h-1.4zM191.0,420.2h1.1v1.1h-1.1zM203.3,431.1h1.7v1.7h-1.7zM202.8,430.4h1.1v1.1h-1.1zM196.3,425.7h1.7v1.7h-1.7zM204.1,406.3h1.1v1.1h-1.1zM194.3,419.1h1.1v1.1h-1.1zM191.7,416.0h1.1v1.1h-1.1zM214.2,423.5h1.7v1.7h-1.7zM192.8,416.3h1.4v1.4h-1.4zM209.6,407.3h1.4v1.4h-1.4zM214.5,415.3h1.1v1.1h-1.1zM192.0,417.9h1.1v1.1h-1.1zM212.7,414.6h1.1v1.1h-1.1zM215.1,420.0h1.4v1.4h-1.4zM191.2,417.0h1.1v1.1h-1.1zM200.9,430.2h1.4v1.4h-1.4zM192.0,415.0h1.1v1.1h-1.1zM212.7,414.8h1.1v1.1h-1.1zM214.3,412.0h1.7v1.7h-1.7zM193.5,424.6h1.1v1.1h-1.1zM192.6,420.9h1.4v1.4h-1.4zM196.8,409.4h1.4v1.4h-1.4zM211.2,424.6h1.1v1.1h-1.1zM202.9,430.1h1.1v1.1h-1.1zM195.6,427.6h1.7v1.7h-1.7zM193.1,423.7h1.4v1.4h-1.4zM194.0,424.3h1.1v1.1h-1.1zM197.0,407.4h1.4v1.4h-1.4zM247.6,420.3h1.4v1.4h-1.4zM244.9,420.3h1.7v1.7h-1.7zM244.8,424.2h1.1v1.1h-1.1zM232.9,428.8h1.4v1.4h-1.4zM226.7,413.6h1.4v1.4h-1.4zM226.8,412.8h1.1v1.1h-1.1zM225.6,413.0h1.4v1.4h-1.4zM228.6,410.8h1.7v1.7h-1.7zM236.9,429.3h1.1v1.1h-1.1zM241.5,408.1h1.4v1.4h-1.4zM244.3,411.7h1.4v1.4h-1.4zM226.2,412.4h1.1v1.1h-1.1zM243.2,427.7h1.7v1.7h-1.7zM244.6,423.8h1.7v1.7h-1.7zM234.5,431.2h1.7v1.7h-1.7zM227.8,408.3h1.4v1.4h-1.4zM243.7,425.2h1.4v1.4h-1.4zM245.1,411.4h1.4v1.4h-1.4zM226.5,423.4h1.4v1.4h-1.4zM223.4,417.8h1.1v1.1h-1.1zM229.2,428.5h1.7v1.7h-1.7zM241.9,408.9h1.1v1.1h-1.1zM241.2,429.8h1.4v1.4h-1.4zM238.7,409.0h1.1v1.1h-1.1zM223.7,420.6h1.1v1.1h-1.1zM242.4,427.7h1.7v1.7h-1.7zM241.7,410.0h1.4v1.4h-1.4zM238.7,429.9h1.1v1.1h-1.1zM224.2,423.0h1.7v1.7h-1.7zM247.9,419.0h1.1v1.1h-1.1zM226.0,421.1h1.4v1.4h-1.4zM222.6,418.6h1.1v1.1h-1.1zM226.9,414.6h1.1v1.1h-1.1zM244.0,427.4h1.7v1.7h-1.7zM231.7,408.6h1.7v1.7h-1.7zM244.0,424.2h1.7v1.7h-1.7zM228.7,407.7h1.4v1.4h-1.4zM223.5,418.6h1.7v1.7h-1.7zM245.7,413.9h1.7v1.7h-1.7zM230.8,407.4h1.1v1.1h-1.1zM244.2,412.1h1.1v1.1h-1.1zM241.2,429.8h1.1v1.1h-1.1zM247.4,420.2h1.4v1.4h-1.4zM224.7,418.7h1.1v1.1h-1.1zM225.1,412.7h1.1v1.1h-1.1zM230.2,428.9h1.7v1.7h-1.7zM245.4,422.5h1.4v1.4h-1.4zM224.3,419.5h1.4v1.4h-1.4zM226.5,427.6h1.4v1.4h-1.4zM229.5,409.8h1.4v1.4h-1.4zM243.2,425.7h1.7v1.7h-1.7zM236.7,406.1h1.4v1.4h-1.4zM233.5,431.1h1.1v1.1h-1.1zM227.9,410.9h1.7v1.7h-1.7zM230.5,427.2h1.7v1.7h-1.7zM243.4,411.7h1.7v1.7h-1.7zM223.8,421.6h1.7v1.7h-1.7zM234.3,408.1h1.4v1.4h-1.4zM225.3,416.6h1.7v1.7h-1.7zM232.7,408.8h1.7v1.7h-1.7zM238.2,408.5h1.1v1.1h-1.1zM234.2,406.5h1.1v1.1h-1.1zM233.0,407.7h1.7v1.7h-1.7zM239.9,407.1h1.1v1.1h-1.1zM225.0,417.8h1.4v1.4h-1.4zM242.4,408.0h1.1v1.1h-1.1zM225.8,415.7h1.7v1.7h-1.7zM242.2,426.4h1.4v1.4h-1.4zM246.0,421.7h1.1v1.1h-1.1zM245.2,414.9h1.4v1.4h-1.4zM240.0,428.9h1.4v1.4h-1.4zM224.1,422.6h1.4v1.4h-1.4zM240.4,430.2h1.7v1.7h-1.7zM239.3,431.1h1.4v1.4h-1.4zM232.9,430.1h1.7v1.7h-1.7zM239.8,409.3h1.1v1.1h-1.1zM240.5,429.6h1.1v1.1h-1.1zM235.7,408.0h1.1v1.1h-1.1zM223.4,422.6h1.1v1.1h-1.1zM225.1,425.4h1.4v1.4h-1.4zM226.1,413.1h1.4v1.4h-1.4zM237.5,408.4h1.7v1.7h-1.7zM246.9,424.0h1.4v1.4h-1.4zM243.3,411.0h1.4v1.4h-1.4zM228.3,412.0h1.1v1.1h-1.1zM227.2,425.4h1.1v1.1h-1.1zM226.7,423.0h1.1v1.1h-1.1zM227.3,426.2h1.4v1.4h-1.4zM234.7,406.7h1.4v1.4h-1.4zM231.0,430.0h1.7v1.7h-1.7zM232.5,430.1h1.7v1.7h-1.7zM244.8,419.6h1.7v1.7h-1.7zM224.5,425.9h1.1v1.1h-1.1zM229.0,411.4h1.1v1.1h-1.1zM238.5,428.9h1.4v1.4h-1.4zM247.3,417.5h1.4v1.4h-1.4zM225.4,414.0h1.7v1.7h-1.7zM223.1,415.5h1.4v1.4h-1.4zM227.3,425.9h1.4v1.4h-1.4zM222.8,417.8h1.7v1.7h-1.7zM240.9,427.4h1.4v1.4h-1.4zM224.3,418.9h1.4v1.4h-1.4zM225.2,416.3h1.7v1.7h-1.7zM238.1,428.3h1.1v1.1h-1.1zM244.9,413.3h1.7v1.7h-1.7zM228.5,408.7h1.1v1.1h-1.1zM244.9,424.0h1.4v1.4h-1.4zM233.6,428.5h1.4v1.4h-1.4zM233.1,408.4h1.4v1.4h-1.4zM239.8,430.1h1.4v1.4h-1.4zM223.9,416.3h1.7v1.7h-1.7zM225.6,422.4h1.4v1.4h-1.4zM236.5,430.3h1.7v1.7h-1.7zM238.3,429.9h1.7v1.7h-1.7zM239.3,409.9h1.4v1.4h-1.4zM243.8,409.0h1.7v1.7h-1.7zM237.9,428.4h1.7v1.7h-1.7zM244.9,421.2h1.1v1.1h-1.1zM237.4,406.4h1.7v1.7h-1.7zM227.7,410.0h1.4v1.4h-1.4zM244.7,412.7h1.4v1.4h-1.4zM244.9,420.2h1.4v1.4h-1.4zM239.9,427.5h1.7v1.7h-1.7zM226.2,427.9h1.7v1.7h-1.7zM224.3,417.8h1.4v1.4h-1.4zM225.2,421.8h1.4v1.4h-1.4zM238.4,409.2h1.4v1.4h-1.4zM228.9,411.2h1.4v1.4h-1.4zM226.3,413.9h1.4v1.4h-1.4zM227.7,427.1h1.7v1.7h-1.7zM245.5,413.1h1.4v1.4h-1.4zM223.7,420.6h1.4v1.4h-1.4zM231.4,408.7h1.1v1.1h-1.1zM230.8,409.0h1.4v1.4h-1.4zM225.5,418.8h1.7v1.7h-1.7zM225.0,417.7h1.4v1.4h-1.4zM232.8,408.2h1.1v1.1h-1.1zM224.3,418.1h1.1v1.1h-1.1zM237.5,429.0h1.4v1.4h-1.4zM245.0,414.5h1.4v1.4h-1.4zM248.1,420.4h1.4v1.4h-1.4zM236.3,408.7h1.4v1.4h-1.4zM246.3,424.7h1.1v1.1h-1.1zM239.6,408.5h1.4v1.4h-1.4zM240.9,430.0h1.1v1.1h-1.1zM230.6,410.3h1.7v1.7h-1.7zM233.8,408.3h1.7v1.7h-1.7zM246.9,414.2h1.7v1.7h-1.7zM233.7,430.6h1.1v1.1h-1.1zM233.8,431.1h1.4v1.4h-1.4zM234.7,406.0h1.1v1.1h-1.1zM226.9,424.2h1.1v1.1h-1.1zM245.9,417.9h1.4v1.4h-1.4zM237.2,406.3h1.1v1.1h-1.1zM225.3,418.2h1.1v1.1h-1.1zM245.4,424.8h1.1v1.1h-1.1zM229.0,410.4h1.7v1.7h-1.7zM239.9,429.1h1.7v1.7h-1.7zM247.4,420.1h1.4v1.4h-1.4zM239.6,427.7h1.1v1.1h-1.1zM223.1,419.9h1.7v1.7h-1.7zM232.0,428.2h1.7v1.7h-1.7zM230.1,427.1h1.1v1.1h-1.1zM235.2,408.1h1.4v1.4h-1.4zM237.1,408.9h1.7v1.7h-1.7zM246.7,422.3h1.4v1.4h-1.4zM222.7,419.3h1.4v1.4h-1.4zM225.4,424.2h1.4v1.4h-1.4zM223.8,417.3h1.7v1.7h-1.7zM247.1,416.9h1.1v1.1h-1.1zM230.8,428.5h1.1v1.1h-1.1zM227.0,428.5h1.1v1.1h-1.1zM241.7,427.6h1.1v1.1h-1.1zM230.2,429.7h1.1v1.1h-1.1zM238.2,409.6h1.4v1.4h-1.4zM229.4,408.6h1.4v1.4h-1.4zM225.7,424.3h1.1v1.1h-1.1zM225.6,412.8h1.4v1.4h-1.4zM247.5,414.6h1.1v1.1h-1.1zM226.4,424.3h1.7v1.7h-1.7zM225.3,419.0h1.1v1.1h-1.1zM242.0,410.9h1.7v1.7h-1.7zM244.2,412.2h1.7v1.7h-1.7zM223.1,422.9h1.7v1.7h-1.7zM234.5,430.4h1.4v1.4h-1.4zM224.1,423.2h1.1v1.1h-1.1zM240.8,429.2h1.4v1.4h-1.4zM237.4,407.0h1.1v1.1h-1.1zM244.1,414.1h1.4v1.4h-1.4zM238.5,429.9h1.4v1.4h-1.4zM244.2,428.1h1.4v1.4h-1.4zM228.9,429.2h1.7v1.7h-1.7zM235.4,407.4h1.1v1.1h-1.1zM226.9,412.8h1.4v1.4h-1.4zM244.6,410.4h1.7v1.7h-1.7zM256.1,423.5h1.1v1.1h-1.1zM253.8,415.1h1.4v1.4h-1.4zM276.8,418.2h1.1v1.1h-1.1zM267.8,407.3h1.7v1.7h-1.7zM269.5,408.2h1.7v1.7h-1.7zM261.5,409.0h1.4v1.4h-1.4zM268.0,408.0h1.1v1.1h-1.1zM259.8,427.4h1.1v1.1h-1.1zM258.3,410.9h1.7v1.7h-1.7zM270.8,428.0h1.1v1.1h-1.1zM255.7,417.8h1.1v1.1h-1.1zM256.0,420.8h1.1v1.1h-1.1zM268.4,407.3h1.1v1.1h-1.1zM270.9,407.4h1.7v1.7h-1.7zM260.7,410.6h1.4v1.4h-1.4zM271.1,429.6h1.4v1.4h-1.4zM255.9,415.2h1.7v1.7h-1.7zM253.3,416.1h1.7v1.7h-1.7zM257.9,412.1h1.1v1.1h-1.1zM253.6,415.7h1.1v1.1h-1.1zM276.9,414.0h1.4v1.4h-1.4zM258.3,426.6h1.4v1.4h-1.4zM259.1,408.9h1.1v1.1h-1.1zM261.1,428.2h1.7v1.7h-1.7zM263.4,408.9h1.7v1.7h-1.7zM272.4,410.6h1.7v1.7h-1.7zM274.0,411.4h1.4v1.4h-1.4zM261.9,408.1h1.7v1.7h-1.7zM271.1,430.0h1.7v1.7h-1.7zM261.1,408.7h1.7v1.7h-1.7zM257.9,410.8h1.7v1.7h-1.7zM264.4,409.3h1.1v1.1h-1.1zM274.3,411.0h1.1v1.1h-1.1zM270.6,407.1h1.1v1.1h-1.1zM261.7,430.0h1.7v1.7h-1.7zM253.9,422.2h1.7v1.7h-1.7zM259.4,408.3h1.4v1.4h-1.4zM256.8,415.7h1.1v1.1h-1.1zM258.7,426.3h1.1v1.1h-1.1zM267.0,430.1h1.7v1.7h-1.7zM275.3,423.6h1.7v1.7h-1.7zM255.3,419.4h1.7v1.7h-1.7zM253.8,417.7h1.7v1.7h-1.7zM256.4,423.4h1.7v1.7h-1.7zM263.8,428.5h1.1v1.1h-1.1zM255.8,414.4h1.7v1.7h-1.7zM256.0,420.9h1.4v1.4h-1.4zM275.9,425.6h1.7v1.7h-1.7zM277.1,420.4h1.7v1.7h-1.7zM256.3,411.5h1.4v1.4h-1.4zM258.6,428.3h1.4v1.4h-1.4zM273.0,412.2h1.4v1.4h-1.4zM271.6,410.9h1.1v1.1h-1.1zM275.9,417.5h1.4v1.4h-1.4zM257.0,427.7h1.4v1.4h-1.4zM275.5,415.9h1.4v1.4h-1.4zM261.7,406.8h1.7v1.7h-1.7zM256.1,413.3h1.7v1.7h-1.7zM276.7,420.3h1.4v1.4h-1.4zM266.7,430.2h1.7v1.7h-1.7zM254.1,421.6h1.7v1.7h-1.7zM263.8,409.2h1.4v1.4h-1.4zM258.5,411.7h1.7v1.7h-1.7zM268.9,409.0h1.4v1.4h-1.4zM257.2,424.0h1.7v1.7h-1.7zM270.6,408.7h1.7v1.7h-1.7zM278.9,419.2h1.1v1.1h-1.1zM259.1,426.7h1.1v1.1h-1.1zM273.5,424.6h1.4v1.4h-1.4zM275.9,423.7h1.7v1.7h-1.7zM257.7,413.9h1.1v1.1h-1.1zM261.6,428.4h1.4v1.4h-1.4zM272.6,428.9h1.4v1.4h-1.4zM253.8,419.2h1.1v1.1h-1.1zM260.4,408.6h1.4v1.4h-1.4zM273.4,427.3h1.4v1.4h-1.4zM275.2,424.9h1.7v1.7h-1.7zM254.3,414.3h1.4v1.4h-1.4zM278.1,418.5h1.4v1.4h-1.4zM269.1,406.4h1.1v1.1h-1.1zM260.5,426.5h1.4v1.4h-1.4zM265.4,407.9h1.7v1.7h-1.7zM256.8,423.0h1.1v1.1h-1.1zM276.7,414.5h1.1v1.1h-1.1zM276.7,415.8h1.4v1.4h-1.4zM270.0,429.5h1.4v1.4h-1.4zM256.8,425.8h1.7v1.7h-1.7zM271.9,409.3h1.1v1.1h-1.1zM271.2,409.1h1.7v1.7h-1.7zM261.9,428.1h1.4v1.4h-1.4zM267.6,407.2h1.1v1.1h-1.1zM256.4,424.3h1.1v1.1h-1.1zM254.8,420.2h1.1v1.1h-1.1zM275.3,424.8h1.7v1.7h-1.7zM254.7,417.6h1.1v1.1h-1.1zM257.8,412.1h1.7v1.7h-1.7zM266.1,408.9h1.1v1.1h-1.1zM273.6,409.3h1.4v1.4h-1.4zM272.5,425.5h1.4v1.4h-1.4zM268.7,427.8h1.4v1.4h-1.4zM256.7,421.8h1.1v1.1h-1.1zM255.2,413.3h1.4v1.4h-1.4zM275.3,421.5h1.7v1.7h-1.7zM262.3,408.7h1.1v1.1h-1.1zM258.5,411.7h1.1v1.1h-1.1zM257.6,409.5h1.1v1.1h-1.1zM255.3,419.7h1.7v1.7h-1.7zM254.7,412.4h1.7v1.7h-1.7zM275.3,418.0h1.7v1.7h-1.7zM256.2,419.1h1.1v1.1h-1.1zM259.5,426.1h1.1v1.1h-1.1zM272.9,410.1h1.1v1.1h-1.1zM256.0,411.9h1.7v1.7h-1.7zM266.9,428.1h1.4v1.4h-1.4zM274.5,411.9h1.1v1.1h-1.1zM269.7,428.5h1.7v1.7h-1.7zM257.1,427.4h1.1v1.1h-1.1zM271.9,409.8h1.4v1.4h-1.4zM267.6,406.2h1.1v1.1h-1.1zM277.7,416.3h1.4v1.4h-1.4zM269.7,429.7h1.4v1.4h-1.4zM258.4,425.8h1.1v1.1h-1.1zM255.1,416.6h1.1v1.1h-1.1zM259.1,410.8h1.7v1.7h-1.7zM270.4,428.9h1.4v1.4h-1.4zM260.0,426.7h1.4v1.4h-1.4zM256.5,412.4h1.7v1.7h-1.7zM260.9,409.2h1.7v1.7h-1.7zM267.5,408.5h1.1v1.1h-1.1zM255.4,424.3h1.4v1.4h-1.4zM256.5,414.8h1.7v1.7h-1.7zM254.1,420.7h1.7v1.7h-1.7zM254.9,419.3h1.4v1.4h-1.4zM275.5,416.7h1.4v1.4h-1.4zM254.4,418.6h1.7v1.7h-1.7zM255.7,420.4h1.7v1.7h-1.7zM277.1,424.4h1.1v1.1h-1.1zM278.1,416.3h1.4v1.4h-1.4zM274.1,427.7h1.1v1.1h-1.1zM274.5,423.7h1.4v1.4h-1.4zM265.4,407.8h1.4v1.4h-1.4zM270.9,408.5h1.1v1.1h-1.1zM257.7,424.6h1.4v1.4h-1.4zM254.8,413.8h1.7v1.7h-1.7zM276.1,421.1h1.1v1.1h-1.1zM265.6,408.3h1.4v1.4h-1.4zM255.9,419.2h1.4v1.4h-1.4zM270.6,428.4h1.7v1.7h-1.7zM252.9,418.0h1.7v1.7h-1.7zM273.5,412.3h1.4v1.4h-1.4zM267.8,429.4h1.1v1.1h-1.1zM270.5,409.9h1.7v1.7h-1.7zM277.7,419.1h1.4v1.4h-1.4zM274.9,425.7h1.4v1.4h-1.4zM257.4,411.0h1.7v1.7h-1.7zM268.6,429.5h1.7v1.7h-1.7zM263.9,428.3h1.1v1.1h-1.1zM256.3,426.7h1.4v1.4h-1.4zM267.8,409.3h1.1v1.1h-1.1zM262.1,427.6h1.4v1.4h-1.4zM264.1,428.3h1.4v1.4h-1.4zM257.5,411.6h1.1v1.1h-1.1zM277.5,415.8h1.7v1.7h-1.7zM260.4,428.9h1.4v1.4h-1.4zM275.7,422.0h1.4v1.4h-1.4zM256.3,415.2h1.1v1.1h-1.1zM269.1,406.7h1.4v1.4h-1.4zM266.4,431.1h1.4v1.4h-1.4zM258.2,412.2h1.7v1.7h-1.7zM268.8,429.4h1.1v1.1h-1.1zM259.6,429.5h1.1v1.1h-1.1zM258.1,412.4h1.7v1.7h-1.7zM256.4,418.3h1.1v1.1h-1.1zM275.0,423.6h1.1v1.1h-1.1zM278.3,417.4h1.7v1.7h-1.7zM276.2,422.1h1.4v1.4h-1.4zM273.4,410.6h1.4v1.4h-1.4zM258.1,413.0h1.4v1.4h-1.4zM274.7,428.0h1.1v1.1h-1.1zM267.6,428.7h1.4v1.4h-1.4zM262.5,428.1h1.7v1.7h-1.7zM266.2,431.7h1.1v1.1h-1.1zM273.3,412.0h1.4v1.4h-1.4zM256.5,422.0h1.7v1.7h-1.7zM275.1,424.4h1.4v1.4h-1.4zM274.7,425.3h1.1v1.1h-1.1zM259.3,409.9h1.4v1.4h-1.4zM254.6,421.2h1.4v1.4h-1.4zM261.8,427.5h1.1v1.1h-1.1zM258.1,428.7h1.1v1.1h-1.1zM276.0,424.8h1.1v1.1h-1.1zM258.5,411.6h1.1v1.1h-1.1zM256.2,421.8h1.1v1.1h-1.1zM274.7,412.4h1.7v1.7h-1.7zM269.8,429.3h1.7v1.7h-1.7zM271.8,426.2h1.7v1.7h-1.7zM256.0,414.8h1.7v1.7h-1.7zM274.6,415.0h1.7v1.7h-1.7zM184.0,451.5h1.7v1.7h-1.7zM183.6,454.1h1.7v1.7h-1.7zM172.0,435.9h1.1v1.1h-1.1zM182.2,443.5h1.4v1.4h-1.4zM175.3,461.2h1.1v1.1h-1.1zM174.3,437.3h1.4v1.4h-1.4zM181.6,439.6h1.4v1.4h-1.4zM170.1,437.7h1.7v1.7h-1.7zM164.8,443.5h1.1v1.1h-1.1zM181.1,456.5h1.4v1.4h-1.4zM163.8,456.7h1.7v1.7h-1.7zM172.8,458.9h1.7v1.7h-1.7zM180.8,454.9h1.1v1.1h-1.1zM172.7,436.1h1.4v1.4h-1.4zM180.0,439.2h1.1v1.1h-1.1zM172.4,458.2h1.4v1.4h-1.4zM182.9,439.7h1.1v1.1h-1.1zM183.3,452.4h1.7v1.7h-1.7zM175.0,458.3h1.7v1.7h-1.7zM163.6,447.7h1.1v1.1h-1.1zM180.8,455.6h1.4v1.4h-1.4zM185.2,444.5h1.7v1.7h-1.7zM165.4,457.0h1.4v1.4h-1.4zM168.3,458.6h1.1v1.1h-1.1zM182.2,441.9h1.4v1.4h-1.4zM164.7,444.0h1.1v1.1h-1.1zM164.4,444.7h1.7v1.7h-1.7zM163.7,449.4h1.7v1.7h-1.7zM183.8,452.7h1.4v1.4h-1.4zM184.3,447.9h1.4v1.4h-1.4zM161.3,445.8h1.7v1.7h-1.7zM162.7,450.0h1.1v1.1h-1.1zM164.7,454.4h1.1v1.1h-1.1zM182.4,444.7h1.1v1.1h-1.1zM161.7,446.9h1.4v1.4h-1.4zM162.5,447.3h1.7v1.7h-1.7zM171.4,437.0h1.1v1.1h-1.1zM178.3,439.5h1.1v1.1h-1.1zM168.2,459.5h1.7v1.7h-1.7zM183.0,441.0h1.4v1.4h-1.4zM163.6,451.0h1.7v1.7h-1.7zM164.7,440.7h1.4v1.4h-1.4zM167.2,456.7h1.7v1.7h-1.7zM166.9,437.9h1.4v1.4h-1.4zM179.5,438.0h1.4v1.4h-1.4zM160.9,448.8h1.7v1.7h-1.7zM161.9,445.1h1.7v1.7h-1.7zM180.9,440.0h1.1v1.1h-1.1zM179.6,438.7h1.1v1.1h-1.1zM170.6,460.5h1.4v1.4h-1.4zM162.5,453.0h1.4v1.4h-1.4zM176.6,458.9h1.4v1.4h-1.4zM183.7,453.5h1.7v1.7h-1.7zM174.8,438.5h1.1v1.1h-1.1zM178.8,437.1h1.1v1.1h-1.1zM163.8,447.8h1.1v1.1h-1.1zM184.9,450.9h1.1v1.1h-1.1zM169.5,438.4h1.7v1.7h-1.7zM166.5,458.3h1.4v1.4h-1.4zM181.5,457.5h1.1v1.1h-1.1zM166.0,442.0h1.7v1.7h-1.7zM183.0,445.8h1.4v1.4h-1.4zM184.6,447.3h1.1v1.1h-1.1zM164.0,450.8h1.1v1.1h-1.1zM164.9,440.6h1.7v1.7h-1.7zM172.6,461.3h1.1v1.1h-1.1zM165.9,441.2h1.7v1.7h-1.7zM176.1,460.6h1.1v1.1h-1.1zM181.9,457.2h1.1v1.1h-1.1zM176.0,438.9h1.1v1.1h-1.1zM177.7,458.3h1.7v1.7h-1.7zM169.6,438.6h1.7v1.7h-1.7zM173.5,438.1h1.7v1.7h-1.7zM162.0,448.7h1.1v1.1h-1.1zM170.7,438.8h1.4v1.4h-1.4zM170.6,460.4h1.1v1.1h-1.1zM179.8,456.5h1.7v1.7h-1.7zM163.6,447.9h1.1v1.1h-1.1zM168.8,459.7h1.7v1.7h-1.7zM173.1,438.1h1.1v1.1h-1.1zM164.7,453.4h1.4v1.4h-1.4zM182.6,441.6h1.1v1.1h-1.1zM170.7,437.8h1.1v1.1h-1.1zM179.1,439.6h1.1v1.1h-1.1zM166.6,440.8h1.7v1.7h-1.7zM176.8,457.6h1.4v1.4h-1.4zM180.8,455.7h1.4v1.4h-1.4zM163.3,452.3h1.1v1.1h-1.1zM182.9,446.5h1.1v1.1h-1.1zM176.1,460.5h1.1v1.1h-1.1zM168.6,458.0h1.4v1.4h-1.4zM179.6,437.2h1.1v1.1h-1.1zM183.2,447.3h1.7v1.7h-1.7zM178.5,439.6h1.1v1.1h-1.1zM161.8,444.0h1.1v1.1h-1.1zM179.5,457.5h1.7v1.7h-1.7zM162.5,450.6h1.7v1.7h-1.7zM180.3,441.7h1.7v1.7h-1.7zM184.7,446.1h1.7v1.7h-1.7zM182.7,453.0h1.4v1.4h-1.4zM164.6,455.3h1.4v1.4h-1.4zM172.3,438.4h1.7v1.7h-1.7zM179.7,458.2h1.4v1.4h-1.4zM163.7,443.5h1.7v1.7h-1.7zM184.1,442.3h1.4v1.4h-1.4zM184.2,454.1h1.4v1.4h-1.4zM180.6,458.4h1.4v1.4h-1.4zM171.7,437.9h1.4v1.4h-1.4zM177.8,440.0h1.1v1.1h-1.1zM173.5,435.9h1.7v1.7h-1.7zM173.8,459.0h1.4v1.4h-1.4zM179.7,440.9h1.7v1.7h-1.7zM182.2,443.5h1.1v1.1h-1.1zM183.5,451.3h1.4v1.4h-1.4zM167.7,456.5h1.7v1.7h-1.7zM160.7,447.3h1.7v1.7h-1.7zM183.5,445.5h1.4v1.4h-1.4zM175.4,435.6h1.7v1.7h-1.7zM181.9,457.7h1.7v1.7h-1.7zM182.5,441.5h1.7v1.7h-1.7zM179.5,440.3h1.1v1.1h-1.1zM169.9,438.1h1.7v1.7h-1.7zM176.9,439.0h1.1v1.1h-1.1zM183.1,453.9h1.1v1.1h-1.1zM182.4,454.4h1.7v1.7h-1.7zM173.4,436.2h1.4v1.4h-1.4zM175.6,457.8h1.7v1.7h-1.7zM178.7,437.3h1.1v1.1h-1.1zM160.4,447.1h1.7v1.7h-1.7zM172.6,435.8h1.7v1.7h-1.7zM175.8,458.4h1.1v1.1h-1.1zM166.8,437.5h1.7v1.7h-1.7zM163.0,447.7h1.7v1.7h-1.7zM182.9,451.1h1.4v1.4h-1.4zM172.8,457.9h1.4v1.4h-1.4zM162.9,451.0h1.1v1.1h-1.1zM170.4,459.3h1.4v1.4h-1.4zM161.4,453.3h1.4v1.4h-1.4zM172.0,438.4h1.4v1.4h-1.4zM165.9,456.8h1.1v1.1h-1.1zM169.0,458.7h1.1v1.1h-1.1zM169.6,439.5h1.4v1.4h-1.4zM171.2,438.3h1.4v1.4h-1.4zM180.1,440.6h1.7v1.7h-1.7zM177.9,437.0h1.7v1.7h-1.7zM178.8,440.6h1.7v1.7h-1.7zM177.5,458.3h1.1v1.1h-1.1zM179.6,457.3h1.1v1.1h-1.1zM179.5,455.8h1.4v1.4h-1.4zM184.5,448.5h1.4v1.4h-1.4zM172.6,437.8h1.1v1.1h-1.1zM169.5,439.1h1.7v1.7h-1.7zM184.9,451.3h1.4v1.4h-1.4zM180.3,459.1h1.7v1.7h-1.7zM183.1,451.0h1.7v1.7h-1.7zM162.9,451.8h1.1v1.1h-1.1zM184.1,446.9h1.7v1.7h-1.7zM182.9,450.3h1.7v1.7h-1.7zM176.7,460.5h1.4v1.4h-1.4zM175.9,460.4h1.7v1.7h-1.7zM181.3,442.7h1.4v1.4h-1.4zM183.6,445.7h1.7v1.7h-1.7zM182.7,440.5h1.7v1.7h-1.7zM163.1,441.3h1.1v1.1h-1.1zM164.9,442.5h1.1v1.1h-1.1zM174.7,436.7h1.7v1.7h-1.7zM175.2,438.2h1.1v1.1h-1.1zM168.7,459.5h1.1v1.1h-1.1zM177.2,439.5h1.7v1.7h-1.7zM182.1,442.5h1.7v1.7h-1.7zM180.8,441.1h1.1v1.1h-1.1zM185.4,444.8h1.4v1.4h-1.4zM175.8,438.0h1.1v1.1h-1.1zM177.5,438.4h1.1v1.1h-1.1zM163.3,443.3h1.4v1.4h-1.4zM168.6,438.8h1.4v1.4h-1.4zM164.7,443.6h1.7v1.7h-1.7zM177.9,457.9h1.1v1.1h-1.1zM164.5,445.5h1.1v1.1h-1.1zM214.2,454.7h1.4v1.4h-1.4zM213.3,455.5h1.7v1.7h-1.7zM214.2,449.2h1.1v1.1h-1.1zM207.7,459.7h1.7v1.7h-1.7zM213.1,440.0h1.1v1.1h-1.1zM206.0,438.4h1.1v1.1h-1.1zM195.1,444.3h1.1v1.1h-1.1zM208.7,438.2h1.7v1.7h-1.7zM202.1,459.9h1.1v1.1h-1.1zM213.3,441.1h1.7v1.7h-1.7zM213.3,441.5h1.1v1.1h-1.1zM214.6,451.1h1.7v1.7h-1.7zM210.9,457.4h1.7v1.7h-1.7zM206.8,437.6h1.4v1.4h-1.4zM204.4,438.2h1.4v1.4h-1.4zM211.3,456.1h1.4v1.4h-1.4zM214.7,455.1h1.4v1.4h-1.4zM208.8,438.4h1.4v1.4h-1.4zM206.3,459.4h1.7v1.7h-1.7zM207.5,438.6h1.1v1.1h-1.1zM193.2,454.5h1.1v1.1h-1.1zM208.4,459.6h1.4v1.4h-1.4zM209.0,458.6h1.1v1.1h-1.1zM208.2,439.5h1.7v1.7h-1.7zM214.2,453.2h1.7v1.7h-1.7zM202.7,457.9h1.4v1.4h-1.4zM199.0,458.2h1.1v1.1h-1.1zM207.5,458.1h1.7v1.7h-1.7zM195.1,443.8h1.1v1.1h-1.1zM215.9,444.9h1.4v1.4h-1.4zM211.4,458.6h1.4v1.4h-1.4zM197.4,441.3h1.7v1.7h-1.7zM214.8,445.0h1.1v1.1h-1.1zM194.6,441.8h1.4v1.4h-1.4zM194.4,445.9h1.7v1.7h-1.7zM205.9,457.9h1.1v1.1h-1.1zM200.9,460.9h1.4v1.4h-1.4zM203.3,459.7h1.4v1.4h-1.4zM203.9,437.9h1.7v1.7h-1.7zM196.7,458.0h1.1v1.1h-1.1zM200.3,459.9h1.7v1.7h-1.7zM202.7,458.3h1.1v1.1h-1.1zM215.0,447.8h1.7v1.7h-1.7zM215.6,445.0h1.4v1.4h-1.4zM194.0,447.2h1.1v1.1h-1.1zM196.7,440.3h1.7v1.7h-1.7zM216.4,449.6h1.7v1.7h-1.7zM191.5,450.4h1.4v1.4h-1.4zM205.4,459.8h1.7v1.7h-1.7zM211.7,457.9h1.4v1.4h-1.4zM213.2,443.2h1.7v1.7h-1.7zM202.7,437.6h1.1v1.1h-1.1zM197.9,457.6h1.7v1.7h-1.7zM200.4,438.8h1.1v1.1h-1.1zM192.8,446.5h1.4v1.4h-1.4zM196.1,454.4h1.7v1.7h-1.7zM213.8,450.0h1.4v1.4h-1.4zM209.2,437.3h1.4v1.4h-1.4zM214.6,444.6h1.1v1.1h-1.1zM193.4,443.6h1.7v1.7h-1.7zM210.3,455.8h1.4v1.4h-1.4zM191.4,449.6h1.4v1.4h-1.4zM208.5,439.7h1.4v1.4h-1.4zM202.4,438.8h1.4v1.4h-1.4zM198.6,458.2h1.4v1.4h-1.4zM213.2,444.2h1.4v1.4h-1.4zM195.6,443.1h1.1v1.1h-1.1zM212.2,456.8h1.1v1.1h-1.1zM214.3,453.3h1.1v1.1h-1.1zM212.0,458.0h1.1v1.1h-1.1zM202.5,437.6h1.7v1.7h-1.7zM215.3,449.8h1.4v1.4h-1.4zM200.3,436.8h1.1v1.1h-1.1zM214.1,448.4h1.7v1.7h-1.7zM200.6,437.2h1.4v1.4h-1.4zM215.7,446.0h1.4v1.4h-1.4zM202.3,436.9h1.4v1.4h-1.4zM212.6,454.1h1.4v1.4h-1.4zM204.4,436.5h1.7v1.7h-1.7zM194.5,446.7h1.4v1.4h-1.4zM210.6,457.9h1.1v1.1h-1.1zM198.0,456.1h1.1v1.1h-1.1zM199.6,439.8h1.4v1.4h-1.4zM193.2,454.0h1.4v1.4h-1.4zM206.4,457.8h1.7v1.7h-1.7zM212.8,441.0h1.7v1.7h-1.7zM214.9,451.4h1.4v1.4h-1.4zM212.5,456.0h1.7v1.7h-1.7zM192.5,448.2h1.7v1.7h-1.7zM202.1,437.3h1.1v1.1h-1.1zM213.3,450.7h1.7v1.7h-1.7zM209.9,438.8h1.4v1.4h-1.4zM205.3,457.8h1.4v1.4h-1.4zM191.3,446.2h1.7v1.7h-1.7zM194.3,449.1h1.4v1.4h-1.4zM197.7,458.1h1.4v1.4h-1.4zM198.9,439.2h1.1v1.1h-1.1zM196.4,438.8h1.4v1.4h-1.4zM212.9,457.1h1.7v1.7h-1.7zM194.4,445.7h1.4v1.4h-1.4zM193.9,453.4h1.7v1.7h-1.7zM215.2,448.9h1.7v1.7h-1.7zM200.0,458.7h1.4v1.4h-1.4zM199.9,457.4h1.7v1.7h-1.7zM201.3,459.6h1.4v1.4h-1.4zM193.0,445.9h1.4v1.4h-1.4zM198.6,457.6h1.4v1.4h-1.4zM211.7,440.5h1.1v1.1h-1.1zM214.0,444.2h1.4v1.4h-1.4zM198.0,458.5h1.4v1.4h-1.4zM214.2,454.1h1.7v1.7h-1.7zM194.1,443.0h1.1v1.1h-1.1zM194.5,449.3h1.1v1.1h-1.1zM191.2,449.5h1.7v1.7h-1.7zM193.3,451.1h1.4v1.4h-1.4zM196.4,454.6h1.1v1.1h-1.1zM193.2,442.5h1.1v1.1h-1.1zM191.5,447.1h1.7v1.7h-1.7zM201.4,459.8h1.7v1.7h-1.7zM214.5,443.8h1.7v1.7h-1.7zM215.3,447.3h1.1v1.1h-1.1zM205.8,460.3h1.1v1.1h-1.1zM197.0,441.4h1.7v1.7h-1.7zM214.6,456.0h1.1v1.1h-1.1zM204.0,461.2h1.1v1.1h-1.1zM215.5,448.7h1.4v1.4h-1.4zM199.3,458.4h1.1v1.1h-1.1zM212.0,442.2h1.1v1.1h-1.1zM198.9,457.7h1.4v1.4h-1.4zM194.4,449.1h1.1v1.1h-1.1zM207.0,457.6h1.1v1.1h-1.1zM210.1,459.0h1.1v1.1h-1.1zM202.2,458.4h1.1v1.1h-1.1zM215.2,451.7h1.4v1.4h-1.4zM206.3,438.6h1.7v1.7h-1.7zM213.3,456.7h1.4v1.4h-1.4zM216.2,443.9h1.4v1.4h-1.4zM213.8,442.0h1.7v1.7h-1.7zM209.4,458.7h1.1v1.1h-1.1zM199.7,458.6h1.4v1.4h-1.4zM213.6,440.7h1.4v1.4h-1.4zM215.3,451.0h1.7v1.7h-1.7zM208.4,437.4h1.7v1.7h-1.7zM200.7,437.2h1.1v1.1h-1.1zM212.5,438.9h1.1v1.1h-1.1zM192.6,449.2h1.7v1.7h-1.7zM213.7,451.6h1.7v1.7h-1.7zM207.3,459.0h1.7v1.7h-1.7zM214.6,451.4h1.1v1.1h-1.1zM214.9,446.5h1.1v1.1h-1.1zM208.5,439.1h1.7v1.7h-1.7zM199.6,438.3h1.7v1.7h-1.7zM194.1,444.1h1.1v1.1h-1.1zM204.4,438.3h1.4v1.4h-1.4zM210.0,458.4h1.7v1.7h-1.7zM200.4,437.4h1.1v1.1h-1.1zM213.4,453.1h1.7v1.7h-1.7zM210.6,456.3h1.4v1.4h-1.4zM194.9,452.0h1.7v1.7h-1.7zM197.1,440.7h1.7v1.7h-1.7zM196.7,454.7h1.1v1.1h-1.1zM193.9,455.8h1.7v1.7h-1.7zM210.7,440.2h1.7v1.7h-1.7zM192.3,447.3h1.4v1.4h-1.4zM193.8,451.8h1.1v1.1h-1.1zM199.1,458.7h1.4v1.4h-1.4zM203.5,459.5h1.4v1.4h-1.4zM209.5,440.4h1.7v1.7h-1.7zM216.4,451.9h1.1v1.1h-1.1zM204.3,436.1h1.7v1.7h-1.7zM213.8,448.1h1.4v1.4h-1.4zM216.0,449.5h1.1v1.1h-1.1zM203.4,438.8h1.4v1.4h-1.4zM213.5,443.1h1.1v1.1h-1.1zM215.9,446.0h1.7v1.7h-1.7zM193.9,446.6h1.1v1.1h-1.1zM210.9,457.9h1.7v1.7h-1.7zM210.5,458.4h1.7v1.7h-1.7zM208.0,437.8h1.4v1.4h-1.4zM191.5,451.5h1.7v1.7h-1.7zM208.5,458.1h1.4v1.4h-1.4zM210.6,456.6h1.1v1.1h-1.1zM206.9,438.7h1.7v1.7h-1.7zM215.0,444.3h1.1v1.1h-1.1zM196.9,457.5h1.1v1.1h-1.1zM212.8,439.6h1.1v1.1h-1.1zM205.7,436.3h1.7v1.7h-1.7zM200.6,457.4h1.4v1.4h-1.4zM225.6,455.3h1.7v1.7h-1.7zM244.1,455.2h1.7v1.7h-1.7zM237.1,459.3h1.1v1.1h-1.1zM241.7,457.8h1.7v1.7h-1.7zM239.9,458.9h1.7v1.7h-1.7zM223.0,448.9h1.1v1.1h-1.1zM240.2,459.7h1.1v1.1h-1.1zM244.0,457.1h1.7v1.7h-1.7zM245.8,453.6h1.1v1.1h-1.1zM224.6,455.6h1.7v1.7h-1.7zM235.2,438.6h1.1v1.1h-1.1zM227.4,454.6h1.7v1.7h-1.7zM245.1,442.5h1.4v1.4h-1.4zM232.3,459.6h1.1v1.1h-1.1zM223.4,450.5h1.4v1.4h-1.4zM244.6,453.1h1.1v1.1h-1.1zM226.0,452.6h1.1v1.1h-1.1zM222.5,446.1h1.7v1.7h-1.7zM224.9,456.3h1.7v1.7h-1.7zM244.1,455.7h1.4v1.4h-1.4zM235.2,439.1h1.4v1.4h-1.4zM226.6,444.5h1.7v1.7h-1.7zM226.4,457.6h1.7v1.7h-1.7zM224.2,450.6h1.1v1.1h-1.1zM235.4,438.9h1.7v1.7h-1.7zM246.4,451.8h1.7v1.7h-1.7zM230.5,440.4h1.4v1.4h-1.4zM224.3,446.9h1.4v1.4h-1.4zM236.3,460.4h1.7v1.7h-1.7zM246.2,448.9h1.4v1.4h-1.4zM233.6,436.3h1.7v1.7h-1.7zM239.5,457.4h1.7v1.7h-1.7zM230.0,457.0h1.7v1.7h-1.7zM237.1,459.1h1.4v1.4h-1.4zM242.3,457.5h1.7v1.7h-1.7zM236.1,438.1h1.7v1.7h-1.7zM227.5,457.1h1.7v1.7h-1.7zM247.3,452.6h1.1v1.1h-1.1zM224.7,441.8h1.4v1.4h-1.4zM246.7,447.3h1.4v1.4h-1.4zM228.1,458.1h1.7v1.7h-1.7zM242.1,455.9h1.4v1.4h-1.4zM224.4,451.2h1.4v1.4h-1.4zM232.2,438.3h1.1v1.1h-1.1zM228.9,441.2h1.4v1.4h-1.4zM230.8,440.1h1.4v1.4h-1.4zM223.8,447.9h1.1v1.1h-1.1zM243.8,443.5h1.1v1.1h-1.1zM226.0,455.4h1.4v1.4h-1.4zM225.4,448.5h1.7v1.7h-1.7zM227.1,442.8h1.7v1.7h-1.7zM246.7,451.6h1.4v1.4h-1.4zM236.7,459.0h1.4v1.4h-1.4zM243.7,455.7h1.1v1.1h-1.1zM237.5,461.0h1.4v1.4h-1.4zM224.9,442.3h1.1v1.1h-1.1zM230.9,437.0h1.7v1.7h-1.7zM237.7,461.0h1.1v1.1h-1.1zM235.7,436.7h1.7v1.7h-1.7zM243.6,455.8h1.4v1.4h-1.4zM247.2,445.1h1.7v1.7h-1.7zM247.9,447.9h1.4v1.4h-1.4zM238.3,439.0h1.4v1.4h-1.4zM246.1,447.2h1.1v1.1h-1.1zM230.8,460.9h1.4v1.4h-1.4zM228.4,457.9h1.1v1.1h-1.1zM232.6,459.1h1.4v1.4h-1.4zM224.2,453.2h1.7v1.7h-1.7zM235.7,461.8h1.4v1.4h-1.4zM236.2,461.4h1.4v1.4h-1.4zM248.3,448.5h1.4v1.4h-1.4zM225.6,448.6h1.7v1.7h-1.7zM243.3,441.4h1.4v1.4h-1.4zM222.8,447.4h1.1v1.1h-1.1zM230.3,457.2h1.7v1.7h-1.7zM226.7,456.7h1.7v1.7h-1.7zM232.6,438.7h1.4v1.4h-1.4zM223.6,443.6h1.7v1.7h-1.7zM242.0,441.6h1.7v1.7h-1.7zM226.3,453.7h1.7v1.7h-1.7zM236.7,438.1h1.4v1.4h-1.4zM228.8,456.6h1.4v1.4h-1.4zM225.7,449.2h1.7v1.7h-1.7zM244.2,455.7h1.7v1.7h-1.7zM236.5,461.5h1.7v1.7h-1.7zM232.7,461.1h1.7v1.7h-1.7zM235.6,458.4h1.7v1.7h-1.7zM231.7,458.3h1.7v1.7h-1.7zM240.7,459.7h1.7v1.7h-1.7zM243.5,454.1h1.4v1.4h-1.4zM242.4,458.2h1.7v1.7h-1.7zM231.4,460.3h1.7v1.7h-1.7zM242.2,459.6h1.7v1.7h-1.7zM237.4,458.4h1.7v1.7h-1.7zM242.3,441.4h1.7v1.7h-1.7zM237.4,459.2h1.4v1.4h-1.4zM245.0,450.0h1.7v1.7h-1.7zM246.6,450.1h1.4v1.4h-1.4zM232.6,458.4h1.4v1.4h-1.4zM226.0,454.6h1.7v1.7h-1.7zM240.3,438.6h1.1v1.1h-1.1zM234.9,439.0h1.7v1.7h-1.7zM232.7,437.4h1.1v1.1h-1.1zM228.8,441.3h1.1v1.1h-1.1zM238.3,439.6h1.7v1.7h-1.7zM242.4,457.4h1.7v1.7h-1.7zM245.4,451.0h1.1v1.1h-1.1zM236.1,439.4h1.4v1.4h-1.4zM246.4,451.3h1.1v1.1h-1.1zM226.1,451.1h1.1v1.1h-1.1zM243.1,440.9h1.4v1.4h-1.4zM229.7,437.4h1.4v1.4h-1.4zM236.0,438.2h1.4v1.4h-1.4zM223.5,445.2h1.1v1.1h-1.1zM238.4,439.6h1.4v1.4h-1.4zM226.2,454.3h1.1v1.1h-1.1zM234.1,459.4h1.1v1.1h-1.1zM224.5,455.6h1.1v1.1h-1.1zM224.4,451.3h1.7v1.7h-1.7zM231.1,439.7h1.1v1.1h-1.1zM226.3,454.7h1.1v1.1h-1.1zM225.4,449.1h1.7v1.7h-1.7zM225.8,455.3h1.1v1.1h-1.1zM237.1,439.4h1.7v1.7h-1.7zM232.7,437.6h1.4v1.4h-1.4zM227.8,442.1h1.4v1.4h-1.4zM233.6,438.2h1.1v1.1h-1.1zM239.5,458.2h1.4v1.4h-1.4zM241.2,457.0h1.7v1.7h-1.7zM238.2,436.4h1.7v1.7h-1.7zM225.0,446.5h1.4v1.4h-1.4zM223.7,443.7h1.4v1.4h-1.4zM232.0,439.9h1.4v1.4h-1.4zM234.2,437.1h1.1v1.1h-1.1zM246.8,449.3h1.1v1.1h-1.1zM232.8,439.1h1.7v1.7h-1.7zM241.6,438.1h1.4v1.4h-1.4zM225.2,452.3h1.7v1.7h-1.7zM234.0,459.6h1.4v1.4h-1.4zM244.2,442.5h1.1v1.1h-1.1zM232.0,459.5h1.1v1.1h-1.1zM232.7,460.6h1.1v1.1h-1.1zM245.7,444.7h1.4v1.4h-1.4zM235.7,438.5h1.4v1.4h-1.4zM244.5,456.3h1.1v1.1h-1.1zM226.3,455.7h1.1v1.1h-1.1zM247.8,451.2h1.7v1.7h-1.7zM238.8,458.1h1.4v1.4h-1.4zM241.5,439.6h1.1v1.1h-1.1zM246.0,444.2h1.4v1.4h-1.4zM238.3,437.4h1.1v1.1h-1.1zM231.0,458.2h1.7v1.7h-1.7zM246.1,446.8h1.7v1.7h-1.7zM224.0,447.5h1.7v1.7h-1.7zM227.2,457.2h1.1v1.1h-1.1zM224.3,454.7h1.1v1.1h-1.1zM232.9,437.5h1.4v1.4h-1.4zM245.5,451.6h1.4v1.4h-1.4zM232.5,458.2h1.4v1.4h-1.4zM245.1,447.6h1.7v1.7h-1.7zM223.3,445.2h1.7v1.7h-1.7zM240.2,460.1h1.1v1.1h-1.1zM244.3,453.2h1.1v1.1h-1.1zM244.6,457.1h1.7v1.7h-1.7zM227.4,441.1h1.4v1.4h-1.4zM245.0,440.4h1.4v1.4h-1.4zM225.7,457.5h1.1v1.1h-1.1zM235.5,437.9h1.7v1.7h-1.7zM235.4,460.2h1.4v1.4h-1.4zM234.1,458.9h1.7v1.7h-1.7zM233.4,438.0h1.7v1.7h-1.7zM238.8,439.5h1.7v1.7h-1.7zM236.4,439.5h1.4v1.4h-1.4zM224.2,451.7h1.7v1.7h-1.7zM224.4,442.4h1.7v1.7h-1.7zM231.6,459.5h1.4v1.4h-1.4zM245.0,445.4h1.4v1.4h-1.4zM225.7,454.6h1.4v1.4h-1.4zM223.7,444.4h1.1v1.1h-1.1zM228.3,438.1h1.7v1.7h-1.7zM240.9,458.9h1.1v1.1h-1.1zM226.4,454.3h1.7v1.7h-1.7zM238.9,438.7h1.7v1.7h-1.7zM232.2,437.7h1.4v1.4h-1.4zM231.2,438.4h1.7v1.7h-1.7zM245.9,455.2h1.4v1.4h-1.4zM236.0,458.7h1.4v1.4h-1.4zM245.0,450.6h1.1v1.1h-1.1zM226.1,455.5h1.4v1.4h-1.4zM229.1,458.8h1.1v1.1h-1.1zM240.8,440.7h1.7v1.7h-1.7zM230.8,459.7h1.7v1.7h-1.7zM227.8,442.0h1.4v1.4h-1.4zM231.7,460.5h1.4v1.4h-1.4zM247.7,446.7h1.1v1.1h-1.1zM238.5,439.4h1.4v1.4h-1.4zM244.8,441.4h1.7v1.7h-1.7zM222.9,449.7h1.7v1.7h-1.7zM233.7,458.7h1.4v1.4h-1.4zM245.3,444.6h1.1v1.1h-1.1zM229.7,441.2h1.4v1.4h-1.4zM240.6,437.6h1.7v1.7h-1.7zM222.5,449.3h1.7v1.7h-1.7zM241.1,458.5h1.4v1.4h-1.4zM241.8,438.3h1.1v1.1h-1.1zM223.0,450.2h1.7v1.7h-1.7zM226.5,444.7h1.7v1.7h-1.7zM255.6,447.4h1.1v1.1h-1.1zM262.4,436.8h1.1v1.1h-1.1zM275.6,454.7h1.7v1.7h-1.7zM267.4,459.5h1.4v1.4h-1.4zM271.0,437.3h1.7v1.7h-1.7zM267.8,436.7h1.7v1.7h-1.7zM255.0,452.8h1.7v1.7h-1.7zM274.7,457.7h1.7v1.7h-1.7zM259.0,440.1h1.1v1.1h-1.1zM261.5,458.2h1.1v1.1h-1.1zM276.7,441.1h1.4v1.4h-1.4zM262.6,458.0h1.7v1.7h-1.7zM273.9,441.2h1.7v1.7h-1.7zM254.0,447.2h1.4v1.4h-1.4zM274.3,455.6h1.4v1.4h-1.4zM270.6,457.9h1.4v1.4h-1.4zM259.3,454.4h1.4v1.4h-1.4zM272.0,459.1h1.1v1.1h-1.1zM259.3,455.0h1.4v1.4h-1.4zM260.1,438.1h1.4v1.4h-1.4zM255.6,451.4h1.4v1.4h-1.4zM268.7,459.0h1.7v1.7h-1.7zM255.0,450.4h1.1v1.1h-1.1zM276.5,454.3h1.7v1.7h-1.7zM259.9,455.0h1.1v1.1h-1.1zM258.7,439.8h1.7v1.7h-1.7zM277.6,442.0h1.4v1.4h-1.4zM261.2,438.5h1.7v1.7h-1.7zM257.4,440.6h1.4v1.4h-1.4zM263.7,459.8h1.1v1.1h-1.1zM261.0,438.3h1.7v1.7h-1.7zM264.8,439.0h1.7v1.7h-1.7zM267.3,460.0h1.1v1.1h-1.1zM257.1,446.1h1.7v1.7h-1.7zM276.4,447.9h1.4v1.4h-1.4zM271.0,438.3h1.1v1.1h-1.1zM254.6,444.2h1.4v1.4h-1.4zM273.8,440.5h1.7v1.7h-1.7zM266.3,438.5h1.7v1.7h-1.7zM256.9,450.8h1.4v1.4h-1.4zM258.3,456.2h1.7v1.7h-1.7zM273.1,457.6h1.7v1.7h-1.7zM255.0,445.2h1.1v1.1h-1.1zM255.4,453.1h1.1v1.1h-1.1zM254.5,446.4h1.1v1.1h-1.1zM273.4,456.2h1.4v1.4h-1.4zM275.8,452.4h1.4v1.4h-1.4zM258.3,453.7h1.1v1.1h-1.1zM272.1,457.9h1.1v1.1h-1.1zM264.1,459.3h1.7v1.7h-1.7zM262.2,458.2h1.1v1.1h-1.1zM256.8,443.8h1.1v1.1h-1.1zM256.5,445.2h1.4v1.4h-1.4zM277.3,444.0h1.7v1.7h-1.7zM261.7,458.4h1.7v1.7h-1.7zM276.6,447.2h1.1v1.1h-1.1zM277.5,448.9h1.1v1.1h-1.1zM275.9,444.4h1.1v1.1h-1.1zM257.3,453.4h1.1v1.1h-1.1zM253.8,447.8h1.7v1.7h-1.7zM264.6,438.4h1.1v1.1h-1.1zM254.1,447.9h1.1v1.1h-1.1zM278.5,444.7h1.7v1.7h-1.7zM276.0,442.9h1.7v1.7h-1.7zM264.7,437.6h1.4v1.4h-1.4zM268.3,458.7h1.4v1.4h-1.4zM260.0,438.4h1.4v1.4h-1.4zM266.8,458.9h1.7v1.7h-1.7zM256.2,453.5h1.7v1.7h-1.7zM269.2,459.4h1.7v1.7h-1.7zM266.7,459.1h1.4v1.4h-1.4zM265.3,438.9h1.1v1.1h-1.1zM277.8,448.2h1.1v1.1h-1.1zM278.3,454.3h1.1v1.1h-1.1zM278.7,447.0h1.1v1.1h-1.1zM267.3,436.6h1.7v1.7h-1.7zM259.1,442.9h1.1v1.1h-1.1zM270.4,438.6h1.1v1.1h-1.1zM268.8,458.4h1.1v1.1h-1.1zM277.1,453.2h1.1v1.1h-1.1zM256.9,446.9h1.4v1.4h-1.4zM263.1,458.3h1.4v1.4h-1.4zM256.2,448.4h1.4v1.4h-1.4zM273.2,455.2h1.7v1.7h-1.7zM264.7,460.8h1.1v1.1h-1.1zM273.0,458.7h1.4v1.4h-1.4zM277.2,453.1h1.1v1.1h-1.1zM263.6,437.5h1.1v1.1h-1.1zM261.2,459.6h1.7v1.7h-1.7zM261.5,459.2h1.1v1.1h-1.1zM279.1,444.3h1.4v1.4h-1.4zM258.7,438.9h1.1v1.1h-1.1zM258.0,443.5h1.7v1.7h-1.7zM267.5,435.9h1.7v1.7h-1.7zM275.5,457.3h1.1v1.1h-1.1zM277.2,441.3h1.7v1.7h-1.7zM276.5,449.8h1.7v1.7h-1.7zM276.1,444.5h1.1v1.1h-1.1zM259.8,439.6h1.4v1.4h-1.4zM258.8,453.6h1.1v1.1h-1.1zM256.4,442.9h1.7v1.7h-1.7zM255.7,443.4h1.7v1.7h-1.7zM267.2,436.8h1.4v1.4h-1.4zM257.1,448.3h1.4v1.4h-1.4zM260.9,438.7h1.4v1.4h-1.4zM262.6,436.3h1.7v1.7h-1.7zM260.8,459.6h1.4v1.4h-1.4zM256.1,449.9h1.4v1.4h-1.4zM267.4,437.3h1.1v1.1h-1.1zM275.6,442.7h1.4v1.4h-1.4zM257.8,444.6h1.4v1.4h-1.4zM271.0,458.3h1.7v1.7h-1.7zM277.6,446.2h1.1v1.1h-1.1zM265.6,459.5h1.4v1.4h-1.4zM259.9,439.8h1.7v1.7h-1.7zM276.2,450.7h1.7v1.7h-1.7zM269.3,438.6h1.4v1.4h-1.4zM276.2,450.3h1.4v1.4h-1.4zM277.4,445.1h1.7v1.7h-1.7zM258.4,443.7h1.1v1.1h-1.1zM269.6,438.5h1.1v1.1h-1.1zM265.0,437.7h1.4v1.4h-1.4zM269.6,460.5h1.7v1.7h-1.7zM264.7,438.1h1.1v1.1h-1.1zM260.8,456.1h1.7v1.7h-1.7zM261.7,438.7h1.4v1.4h-1.4zM270.5,438.3h1.1v1.1h-1.1zM267.4,438.2h1.1v1.1h-1.1zM268.5,438.1h1.7v1.7h-1.7zM267.9,459.6h1.1v1.1h-1.1zM257.6,444.6h1.7v1.7h-1.7zM271.2,437.7h1.7v1.7h-1.7zM276.6,450.1h1.4v1.4h-1.4zM278.8,450.4h1.1v1.1h-1.1zM260.9,456.8h1.7v1.7h-1.7zM262.9,457.7h1.7v1.7h-1.7zM276.2,445.2h1.1v1.1h-1.1zM255.1,449.1h1.7v1.7h-1.7zM261.3,440.1h1.7v1.7h-1.7zM256.9,445.9h1.7v1.7h-1.7zM277.2,451.5h1.4v1.4h-1.4zM262.8,457.1h1.7v1.7h-1.7zM275.9,444.6h1.7v1.7h-1.7zM270.6,436.3h1.4v1.4h-1.4zM272.1,458.7h1.7v1.7h-1.7zM257.1,453.3h1.7v1.7h-1.7zM263.2,458.2h1.4v1.4h-1.4zM256.7,441.7h1.1v1.1h-1.1zM268.9,438.9h1.1v1.1h-1.1zM258.7,441.8h1.1v1.1h-1.1zM276.1,441.3h1.7v1.7h-1.7zM271.6,457.1h1.1v1.1h-1.1zM272.3,457.7h1.7v1.7h-1.7zM266.8,459.5h1.1v1.1h-1.1zM275.0,456.4h1.4v1.4h-1.4zM278.0,449.3h1.7v1.7h-1.7zM264.0,458.7h1.1v1.1h-1.1zM258.6,442.1h1.4v1.4h-1.4zM268.6,459.8h1.1v1.1h-1.1zM278.9,444.5h1.1v1.1h-1.1zM256.1,447.7h1.1v1.1h-1.1zM279.7,448.1h1.4v1.4h-1.4zM255.3,444.1h1.4v1.4h-1.4zM278.8,450.7h1.7v1.7h-1.7zM275.0,453.9h1.1v1.1h-1.1zM258.5,454.9h1.1v1.1h-1.1zM276.5,446.5h1.4v1.4h-1.4zM258.5,453.7h1.1v1.1h-1.1zM258.5,453.2h1.7v1.7h-1.7zM255.8,451.5h1.1v1.1h-1.1zM255.6,452.6h1.7v1.7h-1.7zM259.5,437.9h1.4v1.4h-1.4zM257.6,443.7h1.4v1.4h-1.4zM257.4,451.2h1.7v1.7h-1.7zM256.4,444.7h1.7v1.7h-1.7zM275.8,451.7h1.7v1.7h-1.7zM257.6,453.8h1.4v1.4h-1.4zM277.8,449.7h1.1v1.1h-1.1zM275.0,454.1h1.1v1.1h-1.1zM278.9,444.7h1.7v1.7h-1.7zM274.3,442.2h1.7v1.7h-1.7zM263.8,458.9h1.1v1.1h-1.1zM266.7,460.7h1.7v1.7h-1.7zM279.3,445.4h1.7v1.7h-1.7zM267.8,459.7h1.1v1.1h-1.1zM267.5,458.7h1.4v1.4h-1.4zM256.0,449.9h1.4v1.4h-1.4zM271.8,457.4h1.1v1.1h-1.1zM266.3,459.7h1.4v1.4h-1.4zM274.1,442.0h1.7v1.7h-1.7zM257.9,442.6h1.7v1.7h-1.7zM273.9,459.1h1.1v1.1h-1.1zM182.6,484.2h1.4v1.4h-1.4zM163.6,478.2h1.7v1.7h-1.7zM172.2,488.1h1.1v1.1h-1.1zM165.4,486.9h1.4v1.4h-1.4zM173.4,489.0h1.1v1.1h-1.1zM184.8,480.7h1.4v1.4h-1.4zM176.2,488.9h1.7v1.7h-1.7zM178.0,469.5h1.4v1.4h-1.4zM182.2,474.1h1.7v1.7h-1.7zM171.7,465.5h1.7v1.7h-1.7zM176.7,466.2h1.4v1.4h-1.4zM169.0,467.7h1.7v1.7h-1.7zM165.7,486.3h1.7v1.7h-1.7zM177.0,466.9h1.7v1.7h-1.7zM177.4,469.3h1.4v1.4h-1.4zM163.6,481.8h1.4v1.4h-1.4zM171.9,468.1h1.7v1.7h-1.7zM174.7,488.4h1.4v1.4h-1.4zM183.8,485.8h1.1v1.1h-1.1zM183.9,474.7h1.4v1.4h-1.4zM180.2,486.9h1.4v1.4h-1.4zM176.1,467.1h1.1v1.1h-1.1zM185.1,478.2h1.4v1.4h-1.4zM167.5,466.8h1.4v1.4h-1.4zM182.0,469.0h1.7v1.7h-1.7zM176.3,489.0h1.1v1.1h-1.1zM184.7,476.7h1.7v1.7h-1.7zM167.6,487.6h1.4v1.4h-1.4zM163.6,480.8h1.7v1.7h-1.7zM183.2,485.1h1.4v1.4h-1.4zM177.8,468.2h1.1v1.1h-1.1zM173.3,488.0h1.7v1.7h-1.7zM179.6,469.5h1.1v1.1h-1.1zM163.2,477.2h1.4v1.4h-1.4zM180.8,467.9h1.1v1.1h-1.1zM180.3,471.3h1.4v1.4h-1.4zM183.7,476.0h1.7v1.7h-1.7zM183.8,484.9h1.1v1.1h-1.1zM182.9,485.9h1.1v1.1h-1.1zM184.4,479.0h1.7v1.7h-1.7zM178.7,487.6h1.7v1.7h-1.7zM184.8,474.1h1.4v1.4h-1.4zM184.2,475.9h1.4v1.4h-1.4zM182.5,485.0h1.1v1.1h-1.1zM174.0,490.3h1.4v1.4h-1.4zM161.6,483.6h1.7v1.7h-1.7zM170.1,490.4h1.7v1.7h-1.7zM161.9,482.6h1.4v1.4h-1.4zM180.6,470.8h1.7v1.7h-1.7zM160.9,475.4h1.4v1.4h-1.4zM164.4,473.5h1.4v1.4h-1.4zM164.0,481.1h1.1v1.1h-1.1zM161.9,473.3h1.7v1.7h-1.7zM162.9,481.1h1.1v1.1h-1.1zM166.8,468.6h1.1v1.1h-1.1zM177.6,489.9h1.4v1.4h-1.4zM183.8,479.1h1.4v1.4h-1.4zM178.4,467.9h1.1v1.1h-1.1zM175.1,489.2h1.4v1.4h-1.4zM163.5,475.4h1.7v1.7h-1.7zM182.9,480.3h1.7v1.7h-1.7zM165.0,482.6h1.1v1.1h-1.1zM173.4,490.5h1.7v1.7h-1.7zM183.6,477.6h1.4v1.4h-1.4zM162.3,481.1h1.7v1.7h-1.7zM161.6,478.4h1.4v1.4h-1.4zM169.6,489.0h1.7v1.7h-1.7zM182.8,479.2h1.4v1.4h-1.4zM183.1,484.4h1.1v1.1h-1.1zM165.0,485.1h1.4v1.4h-1.4zM169.3,468.6h1.4v1.4h-1.4zM167.3,489.2h1.4v1.4h-1.4zM174.1,491.0h1.4v1.4h-1.4zM170.6,490.6h1.4v1.4h-1.4zM164.5,472.1h1.7v1.7h-1.7zM175.1,465.9h1.4v1.4h-1.4zM180.4,468.4h1.7v1.7h-1.7zM171.9,468.3h1.7v1.7h-1.7zM177.4,489.4h1.4v1.4h-1.4zM177.1,489.5h1.1v1.1h-1.1zM163.5,477.1h1.4v1.4h-1.4zM174.1,488.1h1.7v1.7h-1.7zM162.3,476.3h1.7v1.7h-1.7zM179.0,488.9h1.7v1.7h-1.7zM162.8,476.4h1.1v1.1h-1.1zM183.6,473.0h1.1v1.1h-1.1zM184.2,477.1h1.7v1.7h-1.7zM170.0,467.2h1.4v1.4h-1.4zM165.8,484.7h1.7v1.7h-1.7zM179.6,487.0h1.1v1.1h-1.1zM166.7,469.2h1.7v1.7h-1.7zM167.4,471.0h1.1v1.1h-1.1zM161.6,475.3h1.1v1.1h-1.1zM182.6,475.6h1.4v1.4h-1.4zM184.7,477.6h1.7v1.7h-1.7zM185.3,482.8h1.1v1.1h-1.1zM168.1,489.7h1.7v1.7h-1.7zM183.3,482.8h1.7v1.7h-1.7zM163.8,476.3h1.1v1.1h-1.1zM174.6,490.1h1.4v1.4h-1.4zM169.5,466.6h1.7v1.7h-1.7zM160.4,478.4h1.4v1.4h-1.4zM163.5,470.7h1.4v1.4h-1.4zM162.5,476.2h1.1v1.1h-1.1zM169.0,488.8h1.1v1.1h-1.1zM181.5,471.0h1.1v1.1h-1.1zM183.2,478.3h1.1v1.1h-1.1zM182.9,476.3h1.7v1.7h-1.7zM183.7,479.1h1.4v1.4h-1.4zM182.2,473.1h1.7v1.7h-1.7zM165.6,468.7h1.7v1.7h-1.7zM174.5,488.1h1.7v1.7h-1.7zM181.7,483.7h1.1v1.1h-1.1zM180.3,469.5h1.1v1.1h-1.1zM179.4,469.8h1.4v1.4h-1.4zM162.6,475.5h1.4v1.4h-1.4zM167.6,486.0h1.4v1.4h-1.4zM163.1,482.0h1.1v1.1h-1.1zM168.1,470.1h1.4v1.4h-1.4zM171.9,491.1h1.4v1.4h-1.4zM174.0,466.6h1.1v1.1h-1.1zM165.3,471.3h1.7v1.7h-1.7zM162.3,481.8h1.4v1.4h-1.4zM169.5,467.4h1.1v1.1h-1.1zM165.5,472.3h1.4v1.4h-1.4zM170.2,489.5h1.7v1.7h-1.7zM181.3,471.5h1.1v1.1h-1.1zM167.7,469.4h1.7v1.7h-1.7zM161.9,481.4h1.7v1.7h-1.7zM162.0,477.7h1.1v1.1h-1.1zM170.5,488.5h1.4v1.4h-1.4zM165.4,488.1h1.1v1.1h-1.1zM165.3,486.6h1.7v1.7h-1.7zM183.0,477.3h1.4v1.4h-1.4zM175.4,490.6h1.4v1.4h-1.4zM169.9,466.1h1.1v1.1h-1.1zM172.5,490.5h1.1v1.1h-1.1zM178.1,469.0h1.7v1.7h-1.7zM163.6,477.9h1.7v1.7h-1.7zM182.7,469.3h1.4v1.4h-1.4zM161.5,473.1h1.7v1.7h-1.7zM162.9,480.4h1.1v1.1h-1.1zM168.2,488.4h1.1v1.1h-1.1zM165.6,469.7h1.4v1.4h-1.4zM162.3,481.1h1.1v1.1h-1.1zM168.3,468.1h1.1v1.1h-1.1zM185.1,473.1h1.7v1.7h-1.7zM176.4,487.9h1.1v1.1h-1.1zM168.2,469.9h1.1v1.1h-1.1zM181.1,488.2h1.7v1.7h-1.7zM179.2,488.1h1.1v1.1h-1.1zM183.3,472.8h1.1v1.1h-1.1zM180.3,468.4h1.7v1.7h-1.7zM180.2,469.8h1.4v1.4h-1.4zM164.8,469.4h1.1v1.1h-1.1zM184.4,471.7h1.4v1.4h-1.4zM167.4,489.0h1.4v1.4h-1.4zM161.0,475.1h1.7v1.7h-1.7zM162.9,476.3h1.7v1.7h-1.7zM184.2,481.5h1.7v1.7h-1.7zM171.7,466.0h1.1v1.1h-1.1zM167.2,488.9h1.1v1.1h-1.1zM185.0,482.7h1.4v1.4h-1.4zM163.8,482.7h1.7v1.7h-1.7zM164.8,482.2h1.1v1.1h-1.1zM180.0,487.9h1.1v1.1h-1.1zM164.8,485.0h1.1v1.1h-1.1zM169.0,487.5h1.4v1.4h-1.4zM180.6,487.5h1.7v1.7h-1.7zM169.2,488.5h1.4v1.4h-1.4zM179.2,468.7h1.1v1.1h-1.1zM171.3,468.8h1.4v1.4h-1.4zM162.6,475.4h1.1v1.1h-1.1zM180.6,484.0h1.7v1.7h-1.7zM182.5,473.2h1.1v1.1h-1.1zM162.6,478.5h1.4v1.4h-1.4zM185.0,472.5h1.1v1.1h-1.1zM177.3,468.8h1.4v1.4h-1.4zM171.3,467.3h1.4v1.4h-1.4zM182.7,485.3h1.1v1.1h-1.1zM181.8,484.5h1.1v1.1h-1.1zM171.1,468.4h1.4v1.4h-1.4zM168.0,488.5h1.7v1.7h-1.7zM208.1,469.7h1.1v1.1h-1.1zM213.5,480.1h1.7v1.7h-1.7zM199.1,490.9h1.7v1.7h-1.7zM212.9,476.1h1.1v1.1h-1.1zM203.0,490.8h1.7v1.7h-1.7zM213.1,486.9h1.4v1.4h-1.4zM192.2,476.6h1.7v1.7h-1.7zM190.8,481.3h1.4v1.4h-1.4zM194.3,483.9h1.1v1.1h-1.1zM202.8,490.5h1.7v1.7h-1.7zM202.0,491.0h1.4v1.4h-1.4zM194.0,485.6h1.4v1.4h-1.4zM215.6,481.6h1.4v1.4h-1.4zM192.1,483.9h1.7v1.7h-1.7zM193.4,474.9h1.7v1.7h-1.7zM203.3,488.9h1.1v1.1h-1.1zM206.6,491.4h1.4v1.4h-1.4zM203.5,468.9h1.1v1.1h-1.1zM206.4,469.5h1.1v1.1h-1.1zM210.7,470.9h1.7v1.7h-1.7zM207.7,469.7h1.7v1.7h-1.7zM215.3,483.4h1.1v1.1h-1.1zM200.8,469.9h1.1v1.1h-1.1zM213.4,483.8h1.7v1.7h-1.7zM211.5,485.3h1.7v1.7h-1.7zM202.3,469.1h1.1v1.1h-1.1zM209.2,486.7h1.1v1.1h-1.1zM195.8,470.4h1.1v1.1h-1.1zM192.8,482.0h1.7v1.7h-1.7zM205.2,469.1h1.7v1.7h-1.7zM210.0,469.7h1.4v1.4h-1.4zM205.9,466.3h1.1v1.1h-1.1zM209.3,489.3h1.7v1.7h-1.7zM215.3,483.6h1.1v1.1h-1.1zM204.5,468.6h1.7v1.7h-1.7zM194.7,484.0h1.7v1.7h-1.7zM212.9,486.5h1.1v1.1h-1.1zM205.9,489.8h1.1v1.1h-1.1zM200.3,488.0h1.1v1.1h-1.1zM196.5,470.0h1.4v1.4h-1.4zM215.3,483.5h1.1v1.1h-1.1zM197.1,489.5h1.4v1.4h-1.4zM209.6,489.1h1.7v1.7h-1.7zM196.3,489.5h1.7v1.7h-1.7zM203.4,490.7h1.4v1.4h-1.4zM205.0,490.3h1.7v1.7h-1.7zM205.3,467.7h1.1v1.1h-1.1zM214.1,481.2h1.4v1.4h-1.4zM208.8,469.2h1.7v1.7h-1.7zM192.6,484.2h1.1v1.1h-1.1zM208.2,491.0h1.1v1.1h-1.1zM214.3,481.6h1.1v1.1h-1.1zM206.4,467.1h1.4v1.4h-1.4zM203.8,466.8h1.4v1.4h-1.4zM197.6,488.1h1.4v1.4h-1.4zM198.6,470.3h1.1v1.1h-1.1zM191.8,482.1h1.7v1.7h-1.7zM196.0,487.6h1.1v1.1h-1.1zM195.5,484.3h1.7v1.7h-1.7zM211.7,485.1h1.4v1.4h-1.4zM209.5,470.0h1.1v1.1h-1.1zM193.3,482.3h1.1v1.1h-1.1zM193.4,484.7h1.1v1.1h-1.1zM210.9,485.5h1.4v1.4h-1.4zM210.1,471.8h1.4v1.4h-1.4zM208.9,489.3h1.4v1.4h-1.4zM206.7,466.8h1.7v1.7h-1.7zM214.7,475.0h1.1v1.1h-1.1zM205.9,466.4h1.4v1.4h-1.4zM215.5,477.0h1.7v1.7h-1.7zM207.2,466.5h1.7v1.7h-1.7zM195.8,470.9h1.1v1.1h-1.1zM200.8,489.2h1.4v1.4h-1.4zM198.6,490.5h1.1v1.1h-1.1zM207.6,490.0h1.1v1.1h-1.1zM214.2,474.2h1.7v1.7h-1.7zM199.3,468.4h1.4v1.4h-1.4zM192.8,484.3h1.7v1.7h-1.7zM198.1,489.2h1.1v1.1h-1.1zM212.1,469.4h1.4v1.4h-1.4zM212.5,484.6h1.7v1.7h-1.7zM195.7,487.9h1.1v1.1h-1.1zM194.1,472.3h1.7v1.7h-1.7zM211.9,472.9h1.7v1.7h-1.7zM209.0,487.6h1.4v1.4h-1.4zM214.5,477.4h1.4v1.4h-1.4zM196.1,471.5h1.1v1.1h-1.1zM210.2,469.5h1.4v1.4h-1.4zM215.5,479.9h1.7v1.7h-1.7zM210.7,488.0h1.1v1.1h-1.1zM214.6,475.9h1.7v1.7h-1.7zM198.7,488.7h1.7v1.7h-1.7zM206.8,468.3h1.4v1.4h-1.4zM210.2,471.1h1.7v1.7h-1.7zM194.7,470.6h1.7v1.7h-1.7zM203.1,468.1h1.1v1.1h-1.1zM200.2,488.5h1.4v1.4h-1.4zM214.8,477.8h1.1v1.1h-1.1zM203.1,491.7h1.7v1.7h-1.7zM190.6,477.7h1.4v1.4h-1.4zM214.6,476.4h1.1v1.1h-1.1zM214.3,480.1h1.1v1.1h-1.1zM198.6,468.3h1.7v1.7h-1.7zM201.3,489.3h1.7v1.7h-1.7zM203.0,467.7h1.1v1.1h-1.1zM199.0,468.3h1.4v1.4h-1.4zM193.7,472.3h1.7v1.7h-1.7zM191.2,482.5h1.1v1.1h-1.1zM214.7,485.1h1.4v1.4h-1.4zM194.8,483.0h1.4v1.4h-1.4zM193.6,479.4h1.1v1.1h-1.1zM198.8,489.1h1.4v1.4h-1.4zM212.5,486.1h1.7v1.7h-1.7zM195.0,484.0h1.4v1.4h-1.4zM192.7,480.0h1.1v1.1h-1.1zM205.7,467.8h1.7v1.7h-1.7zM209.4,470.7h1.4v1.4h-1.4zM193.8,476.6h1.7v1.7h-1.7zM208.2,469.5h1.4v1.4h-1.4zM200.2,468.4h1.4v1.4h-1.4zM194.5,473.1h1.4v1.4h-1.4zM206.7,469.8h1.1v1.1h-1.1zM216.4,480.5h1.1v1.1h-1.1zM198.0,470.0h1.7v1.7h-1.7zM207.5,467.2h1.7v1.7h-1.7zM196.5,486.2h1.1v1.1h-1.1zM201.2,467.9h1.1v1.1h-1.1zM212.9,487.8h1.1v1.1h-1.1zM209.9,471.1h1.1v1.1h-1.1zM211.9,485.1h1.1v1.1h-1.1zM195.7,470.7h1.1v1.1h-1.1zM191.7,480.8h1.1v1.1h-1.1zM195.4,471.6h1.7v1.7h-1.7zM201.0,469.4h1.4v1.4h-1.4zM190.5,479.0h1.7v1.7h-1.7zM193.8,471.9h1.1v1.1h-1.1zM195.4,488.7h1.1v1.1h-1.1zM196.4,486.8h1.1v1.1h-1.1zM201.4,488.6h1.7v1.7h-1.7zM203.3,467.4h1.1v1.1h-1.1zM205.5,466.5h1.1v1.1h-1.1zM194.0,481.1h1.1v1.1h-1.1zM213.9,473.4h1.7v1.7h-1.7zM213.3,474.9h1.1v1.1h-1.1zM215.1,481.1h1.4v1.4h-1.4zM198.7,469.5h1.1v1.1h-1.1zM214.8,475.3h1.1v1.1h-1.1zM206.4,467.4h1.4v1.4h-1.4zM213.8,475.5h1.4v1.4h-1.4zM203.6,491.3h1.1v1.1h-1.1zM193.8,477.3h1.1v1.1h-1.1zM209.1,486.3h1.7v1.7h-1.7zM208.6,489.6h1.7v1.7h-1.7zM201.7,467.5h1.4v1.4h-1.4zM193.1,471.7h1.7v1.7h-1.7zM192.2,484.7h1.1v1.1h-1.1zM193.7,472.5h1.4v1.4h-1.4zM214.4,478.3h1.7v1.7h-1.7zM200.1,489.6h1.1v1.1h-1.1zM212.5,474.7h1.7v1.7h-1.7zM201.9,467.2h1.1v1.1h-1.1zM193.6,481.0h1.4v1.4h-1.4zM191.8,481.2h1.1v1.1h-1.1zM204.1,467.8h1.7v1.7h-1.7zM197.7,487.3h1.1v1.1h-1.1zM209.3,490.1h1.4v1.4h-1.4zM213.6,473.8h1.1v1.1h-1.1zM192.0,482.6h1.4v1.4h-1.4zM192.9,472.3h1.1v1.1h-1.1zM213.0,481.8h1.1v1.1h-1.1zM206.3,487.9h1.4v1.4h-1.4zM193.5,483.1h1.7v1.7h-1.7zM194.9,486.5h1.1v1.1h-1.1zM199.0,489.5h1.7v1.7h-1.7zM194.1,486.6h1.7v1.7h-1.7zM201.6,488.2h1.7v1.7h-1.7zM196.8,489.6h1.7v1.7h-1.7zM195.2,484.4h1.4v1.4h-1.4zM213.1,478.5h1.4v1.4h-1.4zM191.5,477.2h1.7v1.7h-1.7zM194.0,484.5h1.4v1.4h-1.4zM210.6,472.2h1.4v1.4h-1.4zM205.8,488.6h1.4v1.4h-1.4zM192.9,485.5h1.7v1.7h-1.7zM206.9,489.7h1.4v1.4h-1.4zM223.5,484.2h1.1v1.1h-1.1zM231.7,487.6h1.1v1.1h-1.1zM240.4,469.9h1.1v1.1h-1.1zM224.5,476.3h1.4v1.4h-1.4zM246.6,479.1h1.1v1.1h-1.1zM243.5,472.9h1.7v1.7h-1.7zM231.9,465.8h1.1v1.1h-1.1zM241.8,488.6h1.7v1.7h-1.7zM231.0,466.4h1.7v1.7h-1.7zM244.8,473.4h1.4v1.4h-1.4zM239.5,466.9h1.1v1.1h-1.1zM225.3,475.4h1.1v1.1h-1.1zM236.4,487.7h1.1v1.1h-1.1zM244.7,478.6h1.4v1.4h-1.4zM242.5,485.9h1.4v1.4h-1.4zM239.4,488.0h1.7v1.7h-1.7zM239.8,466.9h1.4v1.4h-1.4zM243.6,481.8h1.7v1.7h-1.7zM231.8,468.8h1.4v1.4h-1.4zM232.3,466.7h1.1v1.1h-1.1zM246.7,473.4h1.7v1.7h-1.7zM224.9,474.8h1.7v1.7h-1.7zM238.8,488.5h1.7v1.7h-1.7zM243.9,482.6h1.7v1.7h-1.7zM238.8,490.6h1.1v1.1h-1.1zM239.5,466.2h1.7v1.7h-1.7zM245.2,474.8h1.7v1.7h-1.7zM246.2,476.3h1.4v1.4h-1.4zM241.6,470.4h1.7v1.7h-1.7zM237.7,467.9h1.4v1.4h-1.4zM226.5,483.3h1.4v1.4h-1.4zM232.0,468.8h1.1v1.1h-1.1zM245.2,478.5h1.4v1.4h-1.4zM223.1,474.7h1.4v1.4h-1.4zM236.5,489.7h1.1v1.1h-1.1zM232.0,490.2h1.1v1.1h-1.1zM244.6,482.5h1.1v1.1h-1.1zM245.6,484.2h1.1v1.1h-1.1zM222.6,481.2h1.4v1.4h-1.4zM244.3,470.2h1.1v1.1h-1.1zM242.4,469.6h1.7v1.7h-1.7zM245.2,476.1h1.4v1.4h-1.4zM239.5,468.5h1.1v1.1h-1.1zM223.9,476.5h1.4v1.4h-1.4zM225.7,485.7h1.4v1.4h-1.4zM235.1,489.0h1.4v1.4h-1.4zM231.0,487.4h1.4v1.4h-1.4zM246.6,480.3h1.7v1.7h-1.7zM225.3,483.6h1.7v1.7h-1.7zM246.2,473.6h1.7v1.7h-1.7zM231.2,489.1h1.1v1.1h-1.1zM239.4,489.9h1.1v1.1h-1.1zM242.9,469.3h1.7v1.7h-1.7zM245.2,482.1h1.4v1.4h-1.4zM242.2,472.1h1.1v1.1h-1.1zM246.0,478.9h1.7v1.7h-1.7zM244.7,476.4h1.7v1.7h-1.7zM233.9,487.6h1.7v1.7h-1.7zM223.8,480.3h1.7v1.7h-1.7zM227.8,470.2h1.4v1.4h-1.4zM242.9,470.7h1.7v1.7h-1.7zM225.6,473.4h1.4v1.4h-1.4zM243.6,483.1h1.7v1.7h-1.7zM224.2,474.3h1.7v1.7h-1.7zM242.0,488.4h1.1v1.1h-1.1zM245.7,480.7h1.1v1.1h-1.1zM244.9,479.3h1.4v1.4h-1.4zM245.2,484.5h1.1v1.1h-1.1zM225.8,481.8h1.4v1.4h-1.4zM223.5,481.5h1.1v1.1h-1.1zM239.7,489.0h1.1v1.1h-1.1zM238.3,490.2h1.1v1.1h-1.1zM245.2,474.6h1.1v1.1h-1.1zM224.3,479.2h1.7v1.7h-1.7zM223.5,473.6h1.7v1.7h-1.7zM235.0,490.4h1.1v1.1h-1.1zM227.9,468.0h1.7v1.7h-1.7zM232.4,487.8h1.4v1.4h-1.4zM238.6,489.9h1.4v1.4h-1.4zM236.4,489.7h1.4v1.4h-1.4zM239.3,487.4h1.1v1.1h-1.1zM222.5,478.2h1.7v1.7h-1.7zM244.7,478.4h1.7v1.7h-1.7zM245.5,474.1h1.4v1.4h-1.4zM241.5,485.1h1.7v1.7h-1.7zM241.8,487.4h1.4v1.4h-1.4zM224.9,481.1h1.7v1.7h-1.7zM231.1,469.0h1.4v1.4h-1.4zM226.3,472.4h1.7v1.7h-1.7zM246.1,478.7h1.1v1.1h-1.1zM225.2,481.6h1.1v1.1h-1.1zM227.7,485.9h1.4v1.4h-1.4zM240.8,485.9h1.7v1.7h-1.7zM245.2,481.2h1.1v1.1h-1.1zM236.7,489.3h1.4v1.4h-1.4zM224.6,475.2h1.1v1.1h-1.1zM224.0,480.1h1.4v1.4h-1.4zM233.0,490.9h1.1v1.1h-1.1zM231.2,489.5h1.4v1.4h-1.4zM244.3,473.5h1.7v1.7h-1.7zM244.4,475.4h1.4v1.4h-1.4zM224.5,471.6h1.4v1.4h-1.4zM238.0,466.5h1.7v1.7h-1.7zM237.5,465.4h1.7v1.7h-1.7zM243.9,485.4h1.1v1.1h-1.1zM242.9,484.1h1.4v1.4h-1.4zM230.7,487.0h1.7v1.7h-1.7zM223.9,475.5h1.1v1.1h-1.1zM228.1,487.6h1.1v1.1h-1.1zM231.9,469.2h1.1v1.1h-1.1zM228.9,470.0h1.7v1.7h-1.7zM227.9,488.3h1.1v1.1h-1.1zM231.1,467.7h1.7v1.7h-1.7zM239.0,469.3h1.4v1.4h-1.4zM234.4,489.8h1.1v1.1h-1.1zM225.6,473.6h1.1v1.1h-1.1zM224.5,485.7h1.1v1.1h-1.1zM236.1,468.1h1.1v1.1h-1.1zM245.0,474.6h1.7v1.7h-1.7zM244.7,479.7h1.7v1.7h-1.7zM225.4,478.3h1.1v1.1h-1.1zM223.6,474.2h1.7v1.7h-1.7zM238.3,468.6h1.1v1.1h-1.1zM222.7,474.6h1.4v1.4h-1.4zM223.1,476.6h1.7v1.7h-1.7zM223.4,474.1h1.4v1.4h-1.4zM228.9,486.7h1.1v1.1h-1.1zM224.7,470.8h1.4v1.4h-1.4zM241.9,488.9h1.4v1.4h-1.4zM244.9,484.6h1.1v1.1h-1.1zM246.4,482.6h1.1v1.1h-1.1zM225.4,484.7h1.4v1.4h-1.4zM242.4,472.3h1.1v1.1h-1.1zM233.4,487.8h1.4v1.4h-1.4zM236.1,489.7h1.4v1.4h-1.4zM238.8,489.1h1.1v1.1h-1.1zM224.7,481.3h1.7v1.7h-1.7zM245.5,471.3h1.7v1.7h-1.7zM237.5,488.7h1.4v1.4h-1.4zM237.9,490.1h1.4v1.4h-1.4zM243.9,483.3h1.4v1.4h-1.4zM246.3,473.2h1.1v1.1h-1.1zM243.6,481.4h1.7v1.7h-1.7zM235.6,466.9h1.1v1.1h-1.1zM237.4,468.6h1.7v1.7h-1.7zM246.3,473.3h1.1v1.1h-1.1zM231.3,488.8h1.4v1.4h-1.4zM241.1,469.0h1.1v1.1h-1.1zM224.0,478.0h1.1v1.1h-1.1zM227.3,471.6h1.7v1.7h-1.7zM243.0,483.3h1.4v1.4h-1.4zM236.6,487.9h1.1v1.1h-1.1zM227.8,485.9h1.7v1.7h-1.7zM246.0,481.1h1.7v1.7h-1.7zM236.6,467.2h1.4v1.4h-1.4zM236.0,468.6h1.4v1.4h-1.4zM222.0,477.0h1.4v1.4h-1.4zM246.7,482.1h1.1v1.1h-1.1zM244.5,486.5h1.4v1.4h-1.4zM245.9,478.6h1.1v1.1h-1.1zM225.5,475.8h1.1v1.1h-1.1zM226.4,472.5h1.1v1.1h-1.1zM237.4,489.1h1.4v1.4h-1.4zM236.3,488.4h1.4v1.4h-1.4zM236.3,467.6h1.1v1.1h-1.1zM230.6,488.3h1.1v1.1h-1.1zM232.1,468.3h1.7v1.7h-1.7zM235.6,487.9h1.7v1.7h-1.7zM235.8,468.5h1.1v1.1h-1.1zM231.5,469.4h1.1v1.1h-1.1zM228.6,488.0h1.1v1.1h-1.1zM246.8,475.9h1.4v1.4h-1.4zM233.5,467.4h1.1v1.1h-1.1zM244.4,471.3h1.7v1.7h-1.7zM230.4,487.9h1.4v1.4h-1.4zM224.7,484.6h1.1v1.1h-1.1zM229.9,488.5h1.4v1.4h-1.4zM247.5,477.0h1.7v1.7h-1.7zM223.1,473.9h1.7v1.7h-1.7zM245.3,479.6h1.1v1.1h-1.1zM243.2,470.4h1.4v1.4h-1.4zM233.5,468.6h1.4v1.4h-1.4zM227.1,472.5h1.1v1.1h-1.1zM238.6,467.4h1.1v1.1h-1.1zM271.2,488.2h1.1v1.1h-1.1zM270.4,489.5h1.1v1.1h-1.1zM264.9,469.0h1.1v1.1h-1.1zM262.3,488.4h1.4v1.4h-1.4zM263.5,468.1h1.4v1.4h-1.4zM258.5,486.5h1.4v1.4h-1.4zM275.8,481.9h1.7v1.7h-1.7zM275.7,483.5h1.7v1.7h-1.7zM256.1,483.3h1.4v1.4h-1.4zM260.9,489.9h1.1v1.1h-1.1zM256.3,476.2h1.1v1.1h-1.1zM261.4,470.3h1.1v1.1h-1.1zM263.7,466.5h1.4v1.4h-1.4zM270.0,490.1h1.1v1.1h-1.1zM253.8,473.9h1.4v1.4h-1.4zM265.9,469.2h1.4v1.4h-1.4zM265.9,490.1h1.7v1.7h-1.7zM271.3,469.4h1.4v1.4h-1.4zM256.1,472.3h1.4v1.4h-1.4zM261.4,467.6h1.1v1.1h-1.1zM275.1,482.3h1.1v1.1h-1.1zM258.8,489.1h1.7v1.7h-1.7zM255.8,478.3h1.1v1.1h-1.1zM270.4,487.9h1.4v1.4h-1.4zM276.1,476.4h1.1v1.1h-1.1zM263.0,467.4h1.4v1.4h-1.4zM277.1,483.8h1.7v1.7h-1.7zM265.4,489.6h1.4v1.4h-1.4zM267.5,469.1h1.4v1.4h-1.4zM277.6,473.2h1.1v1.1h-1.1zM256.0,485.1h1.4v1.4h-1.4zM276.5,479.8h1.4v1.4h-1.4zM263.4,490.7h1.7v1.7h-1.7zM276.6,476.6h1.1v1.1h-1.1zM255.7,476.1h1.1v1.1h-1.1zM278.0,480.9h1.1v1.1h-1.1zM272.5,486.4h1.7v1.7h-1.7zM259.5,468.3h1.7v1.7h-1.7zM270.4,469.8h1.7v1.7h-1.7zM270.6,489.2h1.1v1.1h-1.1zM276.5,474.2h1.1v1.1h-1.1zM260.8,469.8h1.4v1.4h-1.4zM258.7,471.8h1.4v1.4h-1.4zM267.2,468.2h1.4v1.4h-1.4zM272.6,488.2h1.4v1.4h-1.4zM275.0,474.1h1.1v1.1h-1.1zM274.3,472.4h1.7v1.7h-1.7zM273.6,470.4h1.4v1.4h-1.4zM265.3,468.7h1.7v1.7h-1.7zM269.9,488.2h1.7v1.7h-1.7zM275.5,475.9h1.4v1.4h-1.4zM261.9,467.8h1.4v1.4h-1.4zM277.0,475.7h1.1v1.1h-1.1zM254.3,479.7h1.4v1.4h-1.4zM275.9,473.8h1.4v1.4h-1.4zM257.7,484.8h1.4v1.4h-1.4zM264.4,467.3h1.1v1.1h-1.1zM272.5,469.7h1.1v1.1h-1.1zM267.9,490.5h1.7v1.7h-1.7zM254.5,481.8h1.1v1.1h-1.1zM274.0,471.7h1.7v1.7h-1.7zM264.9,466.9h1.4v1.4h-1.4zM270.3,466.8h1.7v1.7h-1.7zM255.5,478.2h1.4v1.4h-1.4zM261.0,489.1h1.7v1.7h-1.7zM256.0,476.5h1.4v1.4h-1.4zM257.0,483.7h1.7v1.7h-1.7zM267.9,467.6h1.7v1.7h-1.7zM275.3,486.6h1.7v1.7h-1.7zM275.2,481.8h1.1v1.1h-1.1zM259.1,488.5h1.4v1.4h-1.4zM254.1,474.5h1.1v1.1h-1.1zM266.1,489.3h1.7v1.7h-1.7zM277.0,474.6h1.1v1.1h-1.1zM258.1,488.4h1.4v1.4h-1.4zM277.5,476.8h1.4v1.4h-1.4zM271.5,489.4h1.1v1.1h-1.1zM259.1,486.4h1.1v1.1h-1.1zM270.1,468.9h1.4v1.4h-1.4zM270.5,468.5h1.7v1.7h-1.7zM267.1,489.6h1.4v1.4h-1.4zM257.3,472.6h1.1v1.1h-1.1zM254.6,479.5h1.7v1.7h-1.7zM261.4,469.2h1.7v1.7h-1.7zM270.5,470.0h1.1v1.1h-1.1zM269.5,488.9h1.4v1.4h-1.4zM259.7,467.3h1.4v1.4h-1.4zM276.5,475.0h1.4v1.4h-1.4zM276.9,475.5h1.4v1.4h-1.4zM274.3,482.8h1.7v1.7h-1.7zM262.8,469.9h1.1v1.1h-1.1zM258.5,486.6h1.1v1.1h-1.1zM262.0,488.9h1.7v1.7h-1.7zM275.5,486.3h1.7v1.7h-1.7zM274.9,471.6h1.4v1.4h-1.4zM270.0,468.3h1.4v1.4h-1.4zM271.5,468.5h1.7v1.7h-1.7zM255.7,478.7h1.4v1.4h-1.4zM269.2,466.9h1.4v1.4h-1.4zM266.2,491.4h1.1v1.1h-1.1zM255.9,478.4h1.7v1.7h-1.7zM266.9,488.4h1.7v1.7h-1.7zM256.5,480.9h1.1v1.1h-1.1zM266.4,489.0h1.7v1.7h-1.7zM266.5,489.5h1.4v1.4h-1.4zM275.4,476.3h1.1v1.1h-1.1zM255.0,481.6h1.1v1.1h-1.1zM273.6,487.5h1.7v1.7h-1.7zM274.6,485.5h1.7v1.7h-1.7zM260.9,469.1h1.4v1.4h-1.4zM274.2,472.3h1.7v1.7h-1.7zM272.0,487.2h1.4v1.4h-1.4zM274.6,484.4h1.7v1.7h-1.7zM266.3,491.2h1.1v1.1h-1.1zM255.8,477.2h1.1v1.1h-1.1zM266.9,491.0h1.4v1.4h-1.4zM272.2,486.0h1.4v1.4h-1.4zM256.8,473.0h1.4v1.4h-1.4zM273.7,469.6h1.1v1.1h-1.1zM264.7,488.5h1.7v1.7h-1.7zM276.8,472.3h1.1v1.1h-1.1zM268.6,469.1h1.4v1.4h-1.4zM261.9,490.2h1.1v1.1h-1.1zM274.1,487.3h1.7v1.7h-1.7zM273.2,471.0h1.1v1.1h-1.1zM260.5,469.6h1.4v1.4h-1.4zM256.6,483.2h1.7v1.7h-1.7zM255.9,481.5h1.7v1.7h-1.7zM277.4,479.0h1.1v1.1h-1.1zM268.8,491.4h1.4v1.4h-1.4zM255.6,476.7h1.1v1.1h-1.1zM258.9,469.1h1.7v1.7h-1.7zM258.4,470.0h1.1v1.1h-1.1zM255.5,473.8h1.7v1.7h-1.7zM255.0,483.7h1.4v1.4h-1.4zM270.2,469.9h1.7v1.7h-1.7zM275.5,474.0h1.4v1.4h-1.4zM254.8,473.8h1.7v1.7h-1.7zM260.0,487.6h1.4v1.4h-1.4zM267.4,491.3h1.7v1.7h-1.7zM273.5,485.9h1.4v1.4h-1.4zM260.8,468.4h1.7v1.7h-1.7zM268.6,469.5h1.1v1.1h-1.1zM276.2,472.9h1.4v1.4h-1.4zM256.6,475.2h1.1v1.1h-1.1zM261.5,490.7h1.4v1.4h-1.4zM276.7,474.8h1.4v1.4h-1.4zM275.4,481.1h1.7v1.7h-1.7zM274.2,474.1h1.7v1.7h-1.7zM261.6,491.0h1.1v1.1h-1.1zM267.8,489.4h1.1v1.1h-1.1zM253.8,479.2h1.1v1.1h-1.1zM257.4,484.8h1.1v1.1h-1.1zM258.8,487.6h1.4v1.4h-1.4zM274.8,486.6h1.1v1.1h-1.1zM256.4,474.6h1.7v1.7h-1.7zM274.9,470.0h1.4v1.4h-1.4zM254.0,481.8h1.4v1.4h-1.4zM275.8,478.0h1.7v1.7h-1.7zM257.5,484.2h1.7v1.7h-1.7zM260.6,470.8h1.1v1.1h-1.1zM256.3,473.2h1.1v1.1h-1.1zM272.5,486.8h1.7v1.7h-1.7zM268.2,490.1h1.1v1.1h-1.1zM275.6,486.4h1.1v1.1h-1.1zM266.8,467.8h1.1v1.1h-1.1zM270.7,467.5h1.1v1.1h-1.1zM266.2,490.8h1.4v1.4h-1.4zM274.4,487.5h1.7v1.7h-1.7zM275.7,475.3h1.4v1.4h-1.4zM275.6,486.8h1.7v1.7h-1.7zM271.7,470.5h1.1v1.1h-1.1zM266.6,488.7h1.4v1.4h-1.4zM253.6,474.6h1.4v1.4h-1.4zM254.0,482.3h1.1v1.1h-1.1zM255.9,487.0h1.7v1.7h-1.7zM272.3,485.8h1.4v1.4h-1.4zM258.5,470.4h1.1v1.1h-1.1zM275.4,476.3h1.1v1.1h-1.1zM269.8,467.4h1.7v1.7h-1.7zM261.3,488.7h1.7v1.7h-1.7zM255.6,479.3h1.1v1.1h-1.1zM277.6,475.1h1.7v1.7h-1.7zM275.6,478.2h1.1v1.1h-1.1zM275.2,473.6h1.1v1.1h-1.1zM260.7,487.6h1.1v1.1h-1.1zM255.6,475.6h1.7v1.7h-1.7z"/><path d="M176.1,401.4h1.1v1.1h-1.1zM160.4,403.7h1.1v1.1h-1.1zM165.4,375.4h1.1v1.1h-1.1zM185.4,384.2h1.7v1.7h-1.7zM185.3,392.6h1.7v1.7h-1.7zM184.2,396.8h1.7v1.7h-1.7zM185.5,373.7h1.7v1.7h-1.7zM161.1,404.0h1.1v1.1h-1.1zM179.4,374.0h1.7v1.7h-1.7zM158.0,391.2h1.1v1.1h-1.1zM173.1,371.4h1.4v1.4h-1.4zM186.8,396.6h1.7v1.7h-1.7zM160.8,384.6h1.1v1.1h-1.1zM159.1,394.8h1.1v1.1h-1.1zM166.5,400.6h1.7v1.7h-1.7zM160.3,383.6h1.4v1.4h-1.4zM173.2,403.4h1.4v1.4h-1.4zM157.7,376.3h1.1v1.1h-1.1zM160.7,392.6h1.4v1.4h-1.4zM175.3,402.1h1.7v1.7h-1.7zM184.4,372.3h1.7v1.7h-1.7zM185.7,383.4h1.1v1.1h-1.1zM168.0,402.4h1.1v1.1h-1.1zM168.9,373.6h1.7v1.7h-1.7zM186.8,387.6h1.1v1.1h-1.1zM185.2,377.0h1.4v1.4h-1.4zM188.8,391.8h1.4v1.4h-1.4zM183.6,401.7h1.7v1.7h-1.7zM182.4,376.5h1.1v1.1h-1.1zM182.9,401.0h1.7v1.7h-1.7zM179.2,374.2h1.1v1.1h-1.1zM173.2,372.6h1.7v1.7h-1.7zM161.3,381.4h1.7v1.7h-1.7zM168.3,375.3h1.1v1.1h-1.1zM185.7,385.1h1.4v1.4h-1.4zM172.7,373.3h1.4v1.4h-1.4zM185.4,395.7h1.4v1.4h-1.4zM176.7,402.1h1.1v1.1h-1.1zM167.4,375.9h1.4v1.4h-1.4zM183.8,380.7h1.4v1.4h-1.4zM160.3,394.6h1.4v1.4h-1.4zM170.7,401.3h1.1v1.1h-1.1zM173.1,401.5h1.4v1.4h-1.4zM166.9,402.5h1.4v1.4h-1.4zM160.4,396.1h1.7v1.7h-1.7zM163.5,376.2h1.4v1.4h-1.4zM186.3,381.7h1.7v1.7h-1.7zM188.1,385.9h1.1v1.1h-1.1zM170.6,375.2h1.7v1.7h-1.7zM163.5,376.0h1.1v1.1h-1.1zM165.8,402.2h1.1v1.1h-1.1zM182.8,397.9h1.1v1.1h-1.1zM174.8,373.8h1.4v1.4h-1.4zM185.9,384.1h1.1v1.1h-1.1zM176.5,374.9h1.4v1.4h-1.4zM166.7,400.3h1.4v1.4h-1.4zM173.5,404.8h1.1v1.1h-1.1zM176.2,371.8h1.4v1.4h-1.4zM182.9,379.8h1.1v1.1h-1.1zM162.4,399.2h1.7v1.7h-1.7zM176.9,374.9h1.7v1.7h-1.7zM161.2,394.8h1.1v1.1h-1.1zM178.2,374.8h1.1v1.1h-1.1zM175.7,402.9h1.4v1.4h-1.4zM177.5,401.0h1.4v1.4h-1.4zM216.6,391.7h1.4v1.4h-1.4zM196.3,377.4h1.4v1.4h-1.4zM210.7,399.9h1.7v1.7h-1.7zM214.5,397.0h1.7v1.7h-1.7zM215.7,378.8h1.7v1.7h-1.7zM198.9,400.8h1.7v1.7h-1.7zM216.8,389.3h1.7v1.7h-1.7zM202.0,373.5h1.1v1.1h-1.1zM190.5,392.6h1.1v1.1h-1.1zM201.9,401.5h1.7v1.7h-1.7zM218.1,385.4h1.1v1.1h-1.1zM217.7,386.6h1.7v1.7h-1.7zM205.1,404.6h1.4v1.4h-1.4zM189.7,382.6h1.1v1.1h-1.1zM199.5,376.0h1.1v1.1h-1.1zM197.8,373.7h1.7v1.7h-1.7zM219.2,379.1h1.4v1.4h-1.4zM203.9,373.7h1.1v1.1h-1.1zM194.1,378.3h1.4v1.4h-1.4zM214.6,396.1h1.7v1.7h-1.7zM210.2,400.1h1.7v1.7h-1.7zM203.0,375.3h1.4v1.4h-1.4zM202.1,401.9h1.7v1.7h-1.7zM218.8,385.8h1.7v1.7h-1.7zM201.9,374.4h1.4v1.4h-1.4zM200.2,375.2h1.7v1.7h-1.7zM197.1,400.8h1.1v1.1h-1.1zM219.3,392.2h1.7v1.7h-1.7zM207.0,402.7h1.7v1.7h-1.7zM190.3,381.3h1.1v1.1h-1.1zM183.0,393.6h1.1v1.1h-1.1zM200.5,372.4h1.4v1.4h-1.4zM206.7,374.2h1.1v1.1h-1.1zM194.9,375.7h1.4v1.4h-1.4zM208.9,401.3h1.4v1.4h-1.4zM191.8,379.1h1.1v1.1h-1.1zM214.5,379.5h1.7v1.7h-1.7zM195.6,373.8h1.1v1.1h-1.1zM204.2,373.8h1.1v1.1h-1.1zM219.0,392.5h1.1v1.1h-1.1zM194.0,398.7h1.7v1.7h-1.7zM215.3,377.5h1.7v1.7h-1.7zM201.8,374.7h1.1v1.1h-1.1zM188.6,393.0h1.4v1.4h-1.4zM216.3,393.5h1.7v1.7h-1.7zM212.4,399.4h1.7v1.7h-1.7zM190.0,384.3h1.4v1.4h-1.4zM188.6,392.1h1.1v1.1h-1.1zM217.2,391.9h1.1v1.1h-1.1zM189.6,392.3h1.1v1.1h-1.1zM194.7,377.9h1.1v1.1h-1.1zM219.1,391.3h1.1v1.1h-1.1zM190.6,390.8h1.4v1.4h-1.4zM215.5,381.5h1.1v1.1h-1.1zM218.0,390.6h1.1v1.1h-1.1zM203.9,373.2h1.4v1.4h-1.4zM195.0,378.3h1.4v1.4h-1.4zM216.8,380.4h1.1v1.1h-1.1zM208.2,401.9h1.1v1.1h-1.1zM204.7,372.7h1.1v1.1h-1.1zM200.4,402.7h1.7v1.7h-1.7zM246.0,379.9h1.4v1.4h-1.4zM218.8,387.2h1.7v1.7h-1.7zM231.7,375.4h1.1v1.1h-1.1zM241.4,400.3h1.1v1.1h-1.1zM223.7,397.6h1.4v1.4h-1.4zM245.2,373.6h1.1v1.1h-1.1zM240.4,373.7h1.1v1.1h-1.1zM239.7,374.7h1.1v1.1h-1.1zM250.3,397.9h1.7v1.7h-1.7zM222.1,382.2h1.4v1.4h-1.4zM245.6,395.5h1.7v1.7h-1.7zM236.8,401.8h1.4v1.4h-1.4zM244.9,404.9h1.1v1.1h-1.1zM242.1,399.9h1.4v1.4h-1.4zM249.4,380.6h1.4v1.4h-1.4zM249.4,388.9h1.7v1.7h-1.7zM219.8,381.6h1.4v1.4h-1.4zM226.9,401.7h1.7v1.7h-1.7zM222.3,394.8h1.1v1.1h-1.1zM225.4,375.3h1.4v1.4h-1.4zM217.8,386.0h1.7v1.7h-1.7zM243.7,400.4h1.1v1.1h-1.1zM221.8,381.5h1.1v1.1h-1.1zM240.6,374.5h1.4v1.4h-1.4zM222.7,398.0h1.7v1.7h-1.7zM235.1,401.9h1.1v1.1h-1.1zM248.0,385.3h1.4v1.4h-1.4zM225.0,401.6h1.1v1.1h-1.1zM245.7,395.6h1.4v1.4h-1.4zM231.6,375.5h1.4v1.4h-1.4zM244.3,399.5h1.4v1.4h-1.4zM245.9,398.4h1.7v1.7h-1.7zM223.3,379.8h1.1v1.1h-1.1zM229.0,376.9h1.1v1.1h-1.1zM234.5,375.6h1.1v1.1h-1.1zM233.7,373.4h1.7v1.7h-1.7zM223.8,376.3h1.7v1.7h-1.7zM229.6,402.8h1.1v1.1h-1.1zM250.4,384.2h1.4v1.4h-1.4zM219.1,388.8h1.1v1.1h-1.1zM237.8,374.2h1.4v1.4h-1.4zM249.0,386.1h1.7v1.7h-1.7zM229.3,404.6h1.4v1.4h-1.4zM222.6,382.1h1.4v1.4h-1.4zM234.2,403.0h1.4v1.4h-1.4zM243.6,399.0h1.7v1.7h-1.7zM231.5,375.4h1.1v1.1h-1.1zM232.6,404.1h1.4v1.4h-1.4zM225.6,399.3h1.7v1.7h-1.7zM251.1,392.2h1.7v1.7h-1.7zM246.4,396.9h1.1v1.1h-1.1zM224.7,399.9h1.4v1.4h-1.4zM235.7,403.9h1.1v1.1h-1.1zM234.8,405.9h1.7v1.7h-1.7zM244.8,380.8h1.1v1.1h-1.1zM244.0,400.9h1.7v1.7h-1.7zM220.8,395.4h1.1v1.1h-1.1zM227.6,403.7h1.1v1.1h-1.1zM238.6,376.4h1.1v1.1h-1.1zM221.1,384.3h1.7v1.7h-1.7zM226.4,399.2h1.7v1.7h-1.7zM279.4,384.3h1.7v1.7h-1.7zM281.7,392.6h1.1v1.1h-1.1zM274.0,378.1h1.7v1.7h-1.7zM261.7,403.9h1.1v1.1h-1.1zM278.2,406.5h1.1v1.1h-1.1zM275.8,380.7h1.1v1.1h-1.1zM276.4,399.2h1.4v1.4h-1.4zM247.9,386.6h1.1v1.1h-1.1zM253.1,386.9h1.4v1.4h-1.4zM278.5,373.3h1.1v1.1h-1.1zM250.8,383.7h1.4v1.4h-1.4zM266.9,404.7h1.7v1.7h-1.7zM265.4,403.6h1.7v1.7h-1.7zM258.7,377.2h1.1v1.1h-1.1zM255.2,399.2h1.7v1.7h-1.7zM278.3,394.5h1.7v1.7h-1.7zM273.0,378.2h1.7v1.7h-1.7zM252.3,386.8h1.7v1.7h-1.7zM251.9,392.8h1.7v1.7h-1.7zM278.3,381.6h1.4v1.4h-1.4zM274.5,377.6h1.7v1.7h-1.7zM277.9,398.9h1.7v1.7h-1.7zM253.3,392.5h1.4v1.4h-1.4zM252.2,394.9h1.4v1.4h-1.4zM277.7,395.6h1.1v1.1h-1.1zM262.8,376.6h1.4v1.4h-1.4zM253.4,385.2h1.7v1.7h-1.7zM273.0,373.3h1.7v1.7h-1.7zM258.7,401.4h1.7v1.7h-1.7zM281.3,392.9h1.1v1.1h-1.1zM254.7,396.7h1.7v1.7h-1.7zM278.5,382.5h1.1v1.1h-1.1zM264.2,376.3h1.4v1.4h-1.4zM278.6,381.9h1.1v1.1h-1.1zM253.3,380.7h1.4v1.4h-1.4zM257.3,404.4h1.7v1.7h-1.7zM277.2,396.9h1.1v1.1h-1.1zM279.9,380.1h1.7v1.7h-1.7zM251.1,389.4h1.1v1.1h-1.1zM267.4,404.7h1.7v1.7h-1.7zM252.5,388.4h1.1v1.1h-1.1zM277.8,397.8h1.1v1.1h-1.1zM262.8,376.9h1.1v1.1h-1.1zM269.5,376.1h1.4v1.4h-1.4zM265.4,376.1h1.7v1.7h-1.7zM268.8,375.6h1.7v1.7h-1.7zM277.2,396.1h1.7v1.7h-1.7zM282.7,389.9h1.4v1.4h-1.4zM251.6,391.6h1.4v1.4h-1.4zM259.9,402.3h1.7v1.7h-1.7zM277.7,398.4h1.1v1.1h-1.1zM276.7,401.5h1.4v1.4h-1.4zM278.7,394.3h1.7v1.7h-1.7zM255.2,374.8h1.7v1.7h-1.7zM255.4,402.1h1.4v1.4h-1.4zM279.5,394.9h1.4v1.4h-1.4zM268.4,375.5h1.4v1.4h-1.4zM266.2,376.3h1.4v1.4h-1.4zM271.9,377.7h1.7v1.7h-1.7zM276.7,396.8h1.7v1.7h-1.7zM276.3,398.1h1.4v1.4h-1.4zM251.9,399.6h1.4v1.4h-1.4zM273.5,377.7h1.1v1.1h-1.1zM265.3,375.8h1.7v1.7h-1.7zM264.1,402.5h1.1v1.1h-1.1zM254.6,380.3h1.1v1.1h-1.1zM280.2,401.2h1.1v1.1h-1.1zM271.6,374.2h1.7v1.7h-1.7zM280.6,388.3h1.1v1.1h-1.1zM276.2,398.1h1.1v1.1h-1.1zM270.1,372.6h1.7v1.7h-1.7zM249.8,391.0h1.1v1.1h-1.1zM270.8,372.8h1.4v1.4h-1.4zM247.6,386.1h1.4v1.4h-1.4zM251.8,382.5h1.1v1.1h-1.1zM252.5,392.5h1.7v1.7h-1.7zM281.5,390.2h1.1v1.1h-1.1zM163.0,410.3h1.1v1.1h-1.1zM188.9,422.6h1.1v1.1h-1.1zM178.8,434.0h1.1v1.1h-1.1zM156.3,412.4h1.1v1.1h-1.1zM164.6,404.1h1.7v1.7h-1.7zM168.8,431.4h1.4v1.4h-1.4zM175.7,403.9h1.1v1.1h-1.1zM187.1,422.4h1.7v1.7h-1.7zM161.6,412.7h1.1v1.1h-1.1zM187.5,421.3h1.7v1.7h-1.7zM186.3,423.2h1.7v1.7h-1.7zM159.8,423.9h1.7v1.7h-1.7zM160.2,423.7h1.7v1.7h-1.7zM174.1,405.7h1.4v1.4h-1.4zM161.5,405.5h1.7v1.7h-1.7zM162.6,411.5h1.7v1.7h-1.7zM171.8,432.0h1.4v1.4h-1.4zM160.9,422.0h1.4v1.4h-1.4zM176.7,437.1h1.1v1.1h-1.1zM187.1,413.0h1.1v1.1h-1.1zM178.5,431.4h1.1v1.1h-1.1zM186.3,422.8h1.7v1.7h-1.7zM187.7,415.4h1.4v1.4h-1.4zM163.1,407.2h1.1v1.1h-1.1zM188.1,421.6h1.7v1.7h-1.7zM187.9,426.8h1.1v1.1h-1.1zM180.9,407.4h1.4v1.4h-1.4zM159.7,410.7h1.1v1.1h-1.1zM176.5,431.6h1.4v1.4h-1.4zM187.5,421.6h1.1v1.1h-1.1zM168.2,430.8h1.1v1.1h-1.1zM160.8,425.7h1.7v1.7h-1.7zM185.8,425.0h1.4v1.4h-1.4zM186.8,415.1h1.4v1.4h-1.4zM167.4,431.8h1.1v1.1h-1.1zM185.7,426.3h1.1v1.1h-1.1zM163.9,406.8h1.4v1.4h-1.4zM157.5,417.7h1.4v1.4h-1.4zM168.8,405.6h1.7v1.7h-1.7zM181.1,430.5h1.4v1.4h-1.4zM180.2,431.0h1.1v1.1h-1.1zM187.8,416.3h1.1v1.1h-1.1zM185.9,424.8h1.4v1.4h-1.4zM172.6,432.0h1.4v1.4h-1.4zM162.1,424.9h1.4v1.4h-1.4zM181.8,430.1h1.7v1.7h-1.7zM163.5,408.7h1.7v1.7h-1.7zM177.6,431.9h1.4v1.4h-1.4zM187.3,409.0h1.1v1.1h-1.1zM169.6,405.5h1.4v1.4h-1.4zM186.1,428.5h1.1v1.1h-1.1zM157.6,415.0h1.7v1.7h-1.7zM163.6,409.4h1.1v1.1h-1.1zM186.2,432.5h1.7v1.7h-1.7zM185.6,425.8h1.4v1.4h-1.4zM184.6,427.4h1.1v1.1h-1.1zM161.0,422.0h1.7v1.7h-1.7zM172.8,432.2h1.7v1.7h-1.7zM179.2,406.0h1.4v1.4h-1.4zM179.8,404.1h1.7v1.7h-1.7zM180.3,405.8h1.1v1.1h-1.1zM163.0,410.3h1.1v1.1h-1.1zM174.2,435.6h1.7v1.7h-1.7zM174.3,401.3h1.4v1.4h-1.4zM166.2,430.3h1.1v1.1h-1.1zM189.9,413.1h1.4v1.4h-1.4zM178.0,399.0h1.1v1.1h-1.1zM178.1,431.5h1.4v1.4h-1.4zM184.1,410.7h1.4v1.4h-1.4zM160.6,423.6h1.1v1.1h-1.1zM166.7,407.7h1.1v1.1h-1.1zM159.6,425.1h1.4v1.4h-1.4zM187.0,425.7h1.4v1.4h-1.4zM187.2,418.6h1.7v1.7h-1.7zM183.6,435.1h1.1v1.1h-1.1zM185.6,406.0h1.4v1.4h-1.4zM186.1,410.1h1.1v1.1h-1.1zM187.5,409.5h1.1v1.1h-1.1zM155.1,426.0h1.1v1.1h-1.1zM184.9,410.1h1.7v1.7h-1.7zM181.7,431.4h1.1v1.1h-1.1zM171.1,433.2h1.7v1.7h-1.7zM157.5,410.8h1.1v1.1h-1.1zM161.2,427.7h1.4v1.4h-1.4zM183.5,431.3h1.4v1.4h-1.4zM165.9,429.2h1.7v1.7h-1.7zM165.9,434.3h1.4v1.4h-1.4zM178.0,406.5h1.1v1.1h-1.1zM194.2,408.4h1.7v1.7h-1.7zM223.2,423.3h1.1v1.1h-1.1zM216.8,421.7h1.4v1.4h-1.4zM194.1,408.7h1.7v1.7h-1.7zM216.7,421.2h1.4v1.4h-1.4zM209.6,430.0h1.4v1.4h-1.4zM193.1,409.1h1.4v1.4h-1.4zM207.3,433.4h1.7v1.7h-1.7zM213.4,397.7h1.7v1.7h-1.7zM191.4,412.2h1.7v1.7h-1.7zM204.6,403.0h1.7v1.7h-1.7zM216.6,425.6h1.4v1.4h-1.4zM217.3,422.6h1.1v1.1h-1.1zM215.7,425.1h1.4v1.4h-1.4zM194.2,406.3h1.7v1.7h-1.7zM192.3,425.0h1.4v1.4h-1.4zM205.2,432.0h1.4v1.4h-1.4zM190.6,416.0h1.1v1.1h-1.1zM190.2,413.6h1.4v1.4h-1.4zM217.5,410.2h1.4v1.4h-1.4zM192.7,411.6h1.1v1.1h-1.1zM197.6,404.3h1.4v1.4h-1.4zM196.5,403.8h1.7v1.7h-1.7zM188.8,411.7h1.1v1.1h-1.1zM190.0,417.1h1.4v1.4h-1.4zM218.9,420.9h1.7v1.7h-1.7zM223.0,416.3h1.1v1.1h-1.1zM190.2,424.7h1.7v1.7h-1.7zM211.5,431.1h1.7v1.7h-1.7zM201.9,405.4h1.1v1.1h-1.1zM215.2,426.0h1.4v1.4h-1.4zM208.5,432.8h1.4v1.4h-1.4zM215.6,424.4h1.4v1.4h-1.4zM190.1,420.8h1.1v1.1h-1.1zM207.8,403.1h1.1v1.1h-1.1zM215.0,428.4h1.4v1.4h-1.4zM216.9,418.1h1.4v1.4h-1.4zM193.6,405.6h1.7v1.7h-1.7zM214.4,429.6h1.1v1.1h-1.1zM207.4,405.6h1.4v1.4h-1.4zM191.4,425.0h1.4v1.4h-1.4zM210.9,432.1h1.1v1.1h-1.1zM201.7,431.8h1.7v1.7h-1.7zM188.8,416.8h1.7v1.7h-1.7zM217.5,414.5h1.4v1.4h-1.4zM207.5,433.8h1.1v1.1h-1.1zM212.8,429.2h1.7v1.7h-1.7zM216.4,414.9h1.4v1.4h-1.4zM214.8,408.9h1.4v1.4h-1.4zM190.1,415.3h1.7v1.7h-1.7zM197.8,431.3h1.1v1.1h-1.1zM192.6,431.1h1.4v1.4h-1.4zM217.2,414.1h1.1v1.1h-1.1zM208.0,403.7h1.4v1.4h-1.4zM189.6,418.4h1.1v1.1h-1.1zM211.9,430.7h1.1v1.1h-1.1zM203.6,434.1h1.7v1.7h-1.7zM194.7,408.1h1.4v1.4h-1.4zM191.9,409.6h1.7v1.7h-1.7zM197.8,406.4h1.4v1.4h-1.4zM210.9,432.0h1.1v1.1h-1.1zM210.5,431.3h1.4v1.4h-1.4zM216.4,423.3h1.7v1.7h-1.7zM215.6,425.4h1.4v1.4h-1.4zM207.7,433.4h1.1v1.1h-1.1zM216.8,416.8h1.1v1.1h-1.1zM190.4,419.5h1.1v1.1h-1.1zM199.4,430.7h1.7v1.7h-1.7zM205.8,432.6h1.1v1.1h-1.1zM221.4,428.1h1.7v1.7h-1.7zM249.4,428.6h1.7v1.7h-1.7zM224.0,411.8h1.7v1.7h-1.7zM229.5,406.8h1.4v1.4h-1.4zM240.7,405.9h1.7v1.7h-1.7zM231.7,434.4h1.7v1.7h-1.7zM233.9,432.1h1.4v1.4h-1.4zM228.5,406.3h1.1v1.1h-1.1zM223.9,427.1h1.7v1.7h-1.7zM222.9,413.3h1.4v1.4h-1.4zM233.4,431.7h1.4v1.4h-1.4zM236.3,403.7h1.4v1.4h-1.4zM238.7,431.7h1.7v1.7h-1.7zM218.7,425.0h1.1v1.1h-1.1zM226.4,409.2h1.4v1.4h-1.4zM222.1,425.2h1.1v1.1h-1.1zM223.5,412.3h1.1v1.1h-1.1zM224.6,407.6h1.4v1.4h-1.4zM247.5,409.7h1.1v1.1h-1.1zM242.9,407.6h1.4v1.4h-1.4zM249.9,420.5h1.4v1.4h-1.4zM218.1,420.4h1.1v1.1h-1.1zM242.3,405.9h1.1v1.1h-1.1zM229.3,430.7h1.1v1.1h-1.1zM227.1,438.1h1.7v1.7h-1.7zM230.9,406.1h1.7v1.7h-1.7zM234.6,405.2h1.1v1.1h-1.1zM245.7,406.7h1.4v1.4h-1.4zM249.1,415.9h1.1v1.1h-1.1zM250.8,421.1h1.7v1.7h-1.7zM239.2,434.8h1.1v1.1h-1.1zM225.8,408.2h1.4v1.4h-1.4zM237.4,432.2h1.4v1.4h-1.4zM233.6,435.3h1.4v1.4h-1.4zM245.2,429.9h1.7v1.7h-1.7zM224.6,408.8h1.4v1.4h-1.4zM223.1,429.0h1.7v1.7h-1.7zM223.6,407.1h1.1v1.1h-1.1zM227.0,431.1h1.7v1.7h-1.7zM253.9,413.8h1.1v1.1h-1.1zM252.9,421.4h1.7v1.7h-1.7zM233.4,433.9h1.1v1.1h-1.1zM246.2,409.8h1.1v1.1h-1.1zM225.2,407.8h1.7v1.7h-1.7zM240.7,435.5h1.7v1.7h-1.7zM222.2,422.0h1.7v1.7h-1.7zM232.6,402.5h1.4v1.4h-1.4zM220.5,432.1h1.4v1.4h-1.4zM229.5,406.9h1.4v1.4h-1.4zM229.4,407.1h1.4v1.4h-1.4zM243.6,405.7h1.7v1.7h-1.7zM243.9,429.5h1.7v1.7h-1.7zM248.8,417.1h1.1v1.1h-1.1zM236.7,434.0h1.7v1.7h-1.7zM245.6,428.0h1.1v1.1h-1.1zM247.4,429.3h1.7v1.7h-1.7zM230.7,402.5h1.4v1.4h-1.4zM238.5,433.5h1.7v1.7h-1.7zM247.0,431.3h1.7v1.7h-1.7zM218.0,410.2h1.4v1.4h-1.4zM233.4,405.5h1.7v1.7h-1.7zM224.9,411.5h1.1v1.1h-1.1zM234.7,432.3h1.1v1.1h-1.1zM238.8,403.6h1.7v1.7h-1.7zM223.5,413.1h1.1v1.1h-1.1zM252.3,417.2h1.4v1.4h-1.4zM278.6,426.2h1.7v1.7h-1.7zM276.1,410.1h1.7v1.7h-1.7zM276.7,406.6h1.1v1.1h-1.1zM250.0,410.9h1.1v1.1h-1.1zM274.2,429.4h1.4v1.4h-1.4zM248.0,415.2h1.7v1.7h-1.7zM265.7,403.6h1.4v1.4h-1.4zM281.1,411.0h1.1v1.1h-1.1zM261.5,399.6h1.4v1.4h-1.4zM279.7,422.8h1.1v1.1h-1.1zM260.3,432.5h1.7v1.7h-1.7zM268.5,432.3h1.1v1.1h-1.1zM266.6,405.3h1.7v1.7h-1.7zM251.5,419.8h1.1v1.1h-1.1zM256.0,436.8h1.4v1.4h-1.4zM271.7,406.8h1.1v1.1h-1.1zM256.4,432.3h1.1v1.1h-1.1zM265.2,404.9h1.4v1.4h-1.4zM258.5,429.9h1.7v1.7h-1.7zM270.4,432.0h1.1v1.1h-1.1zM265.3,431.6h1.7v1.7h-1.7zM272.2,432.8h1.1v1.1h-1.1zM252.1,427.1h1.4v1.4h-1.4zM267.0,432.0h1.4v1.4h-1.4zM277.0,408.1h1.4v1.4h-1.4zM279.8,414.5h1.7v1.7h-1.7zM249.6,418.7h1.1v1.1h-1.1zM279.0,414.7h1.1v1.1h-1.1zM264.4,403.8h1.7v1.7h-1.7zM262.6,432.2h1.4v1.4h-1.4zM251.1,427.1h1.7v1.7h-1.7zM278.6,412.6h1.1v1.1h-1.1zM253.8,429.6h1.1v1.1h-1.1zM253.5,425.6h1.1v1.1h-1.1zM279.2,415.4h1.4v1.4h-1.4zM270.5,402.6h1.1v1.1h-1.1zM257.5,428.7h1.4v1.4h-1.4zM248.7,424.0h1.1v1.1h-1.1zM260.5,403.1h1.1v1.1h-1.1zM267.7,402.5h1.7v1.7h-1.7zM279.2,422.5h1.4v1.4h-1.4zM269.9,437.7h1.7v1.7h-1.7zM264.5,432.8h1.7v1.7h-1.7zM255.2,411.4h1.1v1.1h-1.1zM276.4,410.6h1.1v1.1h-1.1zM269.8,406.2h1.1v1.1h-1.1zM274.1,430.0h1.4v1.4h-1.4zM276.5,433.3h1.4v1.4h-1.4zM252.6,417.7h1.7v1.7h-1.7zM273.5,431.2h1.1v1.1h-1.1zM278.4,408.1h1.4v1.4h-1.4zM274.8,432.7h1.7v1.7h-1.7zM268.5,436.1h1.1v1.1h-1.1zM263.3,405.9h1.1v1.1h-1.1zM251.6,420.8h1.7v1.7h-1.7zM261.3,406.6h1.1v1.1h-1.1zM264.4,405.5h1.4v1.4h-1.4zM254.1,412.1h1.1v1.1h-1.1zM252.0,423.2h1.1v1.1h-1.1zM253.0,414.0h1.4v1.4h-1.4zM279.6,415.1h1.4v1.4h-1.4zM176.6,462.8h1.1v1.1h-1.1zM155.9,443.6h1.4v1.4h-1.4zM166.6,460.9h1.7v1.7h-1.7zM171.7,462.1h1.7v1.7h-1.7zM180.1,437.1h1.4v1.4h-1.4zM165.3,436.6h1.1v1.1h-1.1zM161.5,455.9h1.4v1.4h-1.4zM169.2,436.0h1.4v1.4h-1.4zM163.0,460.4h1.4v1.4h-1.4zM161.3,439.5h1.1v1.1h-1.1zM158.5,440.1h1.4v1.4h-1.4zM164.6,458.1h1.1v1.1h-1.1zM169.7,431.8h1.7v1.7h-1.7zM176.8,434.5h1.7v1.7h-1.7zM165.8,460.7h1.4v1.4h-1.4zM156.2,442.4h1.7v1.7h-1.7zM160.0,444.1h1.4v1.4h-1.4zM186.1,458.7h1.4v1.4h-1.4zM167.7,436.1h1.7v1.7h-1.7zM163.7,458.0h1.7v1.7h-1.7zM162.1,457.0h1.1v1.1h-1.1zM159.7,447.3h1.4v1.4h-1.4zM188.9,444.7h1.4v1.4h-1.4zM160.0,441.6h1.4v1.4h-1.4zM157.4,444.0h1.4v1.4h-1.4zM161.2,458.1h1.7v1.7h-1.7zM175.3,433.9h1.7v1.7h-1.7zM159.4,443.7h1.1v1.1h-1.1zM181.0,435.6h1.1v1.1h-1.1zM162.1,456.2h1.1v1.1h-1.1zM161.8,442.5h1.4v1.4h-1.4zM179.6,435.9h1.7v1.7h-1.7zM179.6,435.3h1.7v1.7h-1.7zM165.8,437.4h1.7v1.7h-1.7zM175.7,462.4h1.1v1.1h-1.1zM187.9,443.4h1.7v1.7h-1.7zM185.5,457.0h1.1v1.1h-1.1zM178.2,435.6h1.4v1.4h-1.4zM160.3,451.1h1.1v1.1h-1.1zM160.4,452.7h1.4v1.4h-1.4zM173.5,433.0h1.1v1.1h-1.1zM185.7,453.7h1.1v1.1h-1.1zM161.1,443.6h1.7v1.7h-1.7zM163.9,433.2h1.1v1.1h-1.1zM179.0,460.7h1.7v1.7h-1.7zM170.5,463.8h1.7v1.7h-1.7zM186.6,444.8h1.1v1.1h-1.1zM160.1,442.6h1.7v1.7h-1.7zM161.0,440.2h1.7v1.7h-1.7zM159.6,444.3h1.7v1.7h-1.7zM183.8,457.3h1.7v1.7h-1.7zM155.6,447.4h1.7v1.7h-1.7zM181.9,438.5h1.1v1.1h-1.1zM180.5,437.1h1.1v1.1h-1.1zM159.2,444.9h1.4v1.4h-1.4zM172.8,461.8h1.4v1.4h-1.4zM159.4,452.7h1.7v1.7h-1.7zM160.7,446.4h1.1v1.1h-1.1zM166.2,464.4h1.7v1.7h-1.7zM183.8,439.6h1.7v1.7h-1.7zM167.4,434.4h1.7v1.7h-1.7zM169.9,462.5h1.4v1.4h-1.4zM157.7,440.7h1.4v1.4h-1.4zM182.0,438.5h1.4v1.4h-1.4zM167.7,465.2h1.1v1.1h-1.1zM162.5,440.5h1.4v1.4h-1.4zM174.9,431.6h1.1v1.1h-1.1zM164.3,459.2h1.1v1.1h-1.1zM170.1,435.5h1.1v1.1h-1.1zM162.2,459.8h1.7v1.7h-1.7zM183.9,457.1h1.4v1.4h-1.4zM166.1,437.2h1.1v1.1h-1.1zM173.4,461.8h1.4v1.4h-1.4zM160.9,444.6h1.1v1.1h-1.1zM186.2,455.3h1.1v1.1h-1.1zM164.1,464.2h1.1v1.1h-1.1zM159.3,446.6h1.7v1.7h-1.7zM181.0,437.7h1.1v1.1h-1.1zM187.0,451.2h1.1v1.1h-1.1zM159.5,449.6h1.4v1.4h-1.4zM177.2,462.5h1.1v1.1h-1.1zM200.3,434.7h1.7v1.7h-1.7zM200.1,433.8h1.4v1.4h-1.4zM198.3,462.7h1.7v1.7h-1.7zM217.4,446.1h1.1v1.1h-1.1zM186.3,454.6h1.1v1.1h-1.1zM217.3,449.3h1.4v1.4h-1.4zM189.8,434.3h1.1v1.1h-1.1zM188.1,449.8h1.7v1.7h-1.7zM217.5,444.9h1.1v1.1h-1.1zM213.0,435.4h1.1v1.1h-1.1zM218.4,441.7h1.4v1.4h-1.4zM213.9,439.1h1.1v1.1h-1.1zM207.5,435.7h1.4v1.4h-1.4zM218.3,446.2h1.1v1.1h-1.1zM191.7,452.9h1.4v1.4h-1.4zM212.4,437.5h1.1v1.1h-1.1zM216.9,458.4h1.7v1.7h-1.7zM197.5,436.2h1.1v1.1h-1.1zM196.3,435.8h1.7v1.7h-1.7zM189.3,454.8h1.4v1.4h-1.4zM187.3,454.2h1.1v1.1h-1.1zM219.3,444.9h1.1v1.1h-1.1zM193.0,457.1h1.7v1.7h-1.7zM212.1,459.9h1.1v1.1h-1.1zM218.8,451.1h1.1v1.1h-1.1zM196.0,459.7h1.1v1.1h-1.1zM191.5,440.9h1.7v1.7h-1.7zM214.8,460.0h1.7v1.7h-1.7zM200.3,462.3h1.1v1.1h-1.1zM209.5,464.7h1.7v1.7h-1.7zM217.3,464.5h1.7v1.7h-1.7zM198.8,435.3h1.7v1.7h-1.7zM202.9,434.7h1.4v1.4h-1.4zM216.8,443.5h1.1v1.1h-1.1zM196.2,459.1h1.4v1.4h-1.4zM200.4,464.9h1.7v1.7h-1.7zM207.4,435.0h1.4v1.4h-1.4zM199.8,460.9h1.7v1.7h-1.7zM202.3,435.3h1.1v1.1h-1.1zM214.7,460.3h1.4v1.4h-1.4zM190.9,452.7h1.7v1.7h-1.7zM200.2,435.1h1.4v1.4h-1.4zM218.9,443.0h1.1v1.1h-1.1zM194.3,458.4h1.1v1.1h-1.1zM192.8,454.9h1.7v1.7h-1.7zM215.9,440.6h1.4v1.4h-1.4zM212.0,436.6h1.4v1.4h-1.4zM192.0,441.6h1.7v1.7h-1.7zM199.2,435.5h1.1v1.1h-1.1zM204.4,428.2h1.7v1.7h-1.7zM208.2,433.5h1.4v1.4h-1.4zM197.9,460.0h1.4v1.4h-1.4zM217.0,444.2h1.1v1.1h-1.1zM215.1,456.2h1.7v1.7h-1.7zM197.3,462.1h1.7v1.7h-1.7zM220.5,440.8h1.1v1.1h-1.1zM203.7,463.4h1.7v1.7h-1.7zM211.8,460.2h1.1v1.1h-1.1zM197.4,460.4h1.1v1.1h-1.1zM197.9,462.6h1.4v1.4h-1.4zM217.7,460.3h1.7v1.7h-1.7zM210.8,437.0h1.7v1.7h-1.7zM192.0,453.9h1.1v1.1h-1.1zM218.2,447.8h1.7v1.7h-1.7zM221.6,439.1h1.7v1.7h-1.7zM190.0,450.6h1.7v1.7h-1.7zM207.0,432.4h1.7v1.7h-1.7zM190.6,455.1h1.4v1.4h-1.4zM205.6,434.8h1.7v1.7h-1.7zM219.2,434.7h1.7v1.7h-1.7zM211.5,436.3h1.4v1.4h-1.4zM218.9,445.1h1.4v1.4h-1.4zM241.0,463.8h1.1v1.1h-1.1zM247.7,437.6h1.4v1.4h-1.4zM223.3,443.4h1.1v1.1h-1.1zM226.1,434.8h1.4v1.4h-1.4zM229.3,460.7h1.7v1.7h-1.7zM234.0,434.9h1.4v1.4h-1.4zM250.7,451.3h1.4v1.4h-1.4zM236.6,435.1h1.1v1.1h-1.1zM246.3,457.7h1.1v1.1h-1.1zM246.5,440.9h1.4v1.4h-1.4zM221.6,448.4h1.1v1.1h-1.1zM230.6,435.5h1.4v1.4h-1.4zM249.3,450.4h1.4v1.4h-1.4zM222.4,450.8h1.1v1.1h-1.1zM231.8,461.8h1.1v1.1h-1.1zM235.1,434.8h1.1v1.1h-1.1zM244.9,435.8h1.7v1.7h-1.7zM220.7,449.4h1.4v1.4h-1.4zM243.2,438.6h1.1v1.1h-1.1zM241.0,462.1h1.7v1.7h-1.7zM223.0,445.3h1.1v1.1h-1.1zM227.3,437.2h1.7v1.7h-1.7zM224.3,434.5h1.1v1.1h-1.1zM231.1,436.6h1.4v1.4h-1.4zM220.6,446.7h1.4v1.4h-1.4zM242.7,435.1h1.7v1.7h-1.7zM226.1,463.2h1.1v1.1h-1.1zM240.9,460.9h1.4v1.4h-1.4zM249.0,447.8h1.4v1.4h-1.4zM248.1,442.3h1.7v1.7h-1.7zM228.9,460.8h1.1v1.1h-1.1zM231.0,434.8h1.7v1.7h-1.7zM251.0,441.4h1.7v1.7h-1.7zM221.2,464.0h1.1v1.1h-1.1zM237.7,462.7h1.4v1.4h-1.4zM226.0,460.3h1.7v1.7h-1.7zM250.6,452.0h1.4v1.4h-1.4zM254.7,449.6h1.7v1.7h-1.7zM249.3,439.4h1.4v1.4h-1.4zM224.6,439.3h1.1v1.1h-1.1zM225.6,463.9h1.4v1.4h-1.4zM247.7,432.6h1.7v1.7h-1.7zM220.8,442.7h1.4v1.4h-1.4zM249.4,453.6h1.4v1.4h-1.4zM246.9,455.8h1.1v1.1h-1.1zM243.5,459.5h1.1v1.1h-1.1zM223.0,456.3h1.7v1.7h-1.7zM239.6,435.2h1.1v1.1h-1.1zM249.0,451.6h1.7v1.7h-1.7zM220.3,448.3h1.4v1.4h-1.4zM236.0,462.3h1.4v1.4h-1.4zM238.2,436.0h1.1v1.1h-1.1zM224.9,437.9h1.7v1.7h-1.7zM247.3,454.3h1.7v1.7h-1.7zM270.6,435.2h1.7v1.7h-1.7zM260.7,434.2h1.7v1.7h-1.7zM269.9,433.0h1.7v1.7h-1.7zM276.1,439.1h1.4v1.4h-1.4zM255.2,454.9h1.1v1.1h-1.1zM276.2,437.5h1.4v1.4h-1.4zM256.8,459.3h1.4v1.4h-1.4zM279.4,441.7h1.7v1.7h-1.7zM274.9,435.5h1.4v1.4h-1.4zM282.0,446.6h1.4v1.4h-1.4zM275.3,459.8h1.1v1.1h-1.1zM280.8,453.0h1.7v1.7h-1.7zM278.8,438.1h1.4v1.4h-1.4zM277.6,457.3h1.7v1.7h-1.7zM256.6,457.5h1.4v1.4h-1.4zM253.2,453.4h1.4v1.4h-1.4zM280.4,442.4h1.1v1.1h-1.1zM278.6,456.8h1.4v1.4h-1.4zM264.9,461.4h1.4v1.4h-1.4zM257.3,457.9h1.1v1.1h-1.1zM258.2,438.2h1.7v1.7h-1.7zM280.7,450.7h1.1v1.1h-1.1zM268.3,464.4h1.4v1.4h-1.4zM254.1,440.9h1.7v1.7h-1.7zM282.4,444.5h1.4v1.4h-1.4zM252.7,450.9h1.1v1.1h-1.1zM266.3,462.6h1.4v1.4h-1.4zM255.0,455.7h1.1v1.1h-1.1zM260.5,436.1h1.1v1.1h-1.1zM266.6,464.6h1.1v1.1h-1.1zM253.9,453.6h1.7v1.7h-1.7zM261.5,462.0h1.4v1.4h-1.4zM265.5,432.7h1.7v1.7h-1.7zM273.1,460.3h1.7v1.7h-1.7zM281.0,443.8h1.1v1.1h-1.1zM267.4,434.5h1.1v1.1h-1.1zM253.2,454.7h1.4v1.4h-1.4zM256.0,459.1h1.1v1.1h-1.1zM281.8,438.4h1.7v1.7h-1.7zM251.2,436.9h1.7v1.7h-1.7zM267.5,464.0h1.4v1.4h-1.4zM283.7,453.1h1.4v1.4h-1.4zM258.8,461.0h1.4v1.4h-1.4zM266.4,434.7h1.1v1.1h-1.1zM279.7,450.6h1.7v1.7h-1.7zM275.0,437.7h1.7v1.7h-1.7zM278.4,455.4h1.4v1.4h-1.4zM279.7,452.5h1.7v1.7h-1.7zM278.1,441.6h1.1v1.1h-1.1zM270.4,464.0h1.4v1.4h-1.4zM274.0,467.3h1.4v1.4h-1.4zM274.4,459.4h1.1v1.1h-1.1zM256.5,440.5h1.1v1.1h-1.1zM269.0,461.3h1.7v1.7h-1.7zM265.0,462.2h1.7v1.7h-1.7zM271.6,461.3h1.7v1.7h-1.7zM252.5,449.9h1.4v1.4h-1.4zM257.9,460.5h1.1v1.1h-1.1zM266.2,434.1h1.1v1.1h-1.1zM270.9,462.3h1.4v1.4h-1.4zM279.5,441.4h1.1v1.1h-1.1zM279.7,461.2h1.7v1.7h-1.7zM253.6,445.7h1.7v1.7h-1.7zM277.4,439.9h1.7v1.7h-1.7zM281.3,446.8h1.1v1.1h-1.1zM264.9,462.4h1.4v1.4h-1.4zM257.6,467.3h1.7v1.7h-1.7zM182.5,465.0h1.1v1.1h-1.1zM184.8,485.4h1.4v1.4h-1.4zM176.2,494.7h1.1v1.1h-1.1zM174.5,492.5h1.4v1.4h-1.4zM179.3,490.7h1.4v1.4h-1.4zM180.3,457.8h1.7v1.7h-1.7zM169.9,465.5h1.4v1.4h-1.4zM161.1,488.6h1.4v1.4h-1.4zM163.6,493.2h1.1v1.1h-1.1zM189.2,479.0h1.4v1.4h-1.4zM169.1,491.5h1.4v1.4h-1.4zM164.8,468.4h1.1v1.1h-1.1zM171.9,463.6h1.1v1.1h-1.1zM162.0,486.0h1.7v1.7h-1.7zM179.9,491.1h1.7v1.7h-1.7zM176.2,491.3h1.4v1.4h-1.4zM180.2,464.9h1.1v1.1h-1.1zM158.1,469.4h1.7v1.7h-1.7zM178.0,462.1h1.1v1.1h-1.1zM166.2,467.1h1.1v1.1h-1.1zM176.3,464.3h1.7v1.7h-1.7zM177.9,493.1h1.7v1.7h-1.7zM158.8,478.0h1.7v1.7h-1.7zM182.5,466.8h1.4v1.4h-1.4zM167.4,490.0h1.4v1.4h-1.4zM192.6,484.4h1.1v1.1h-1.1zM170.1,494.2h1.4v1.4h-1.4zM167.1,466.1h1.7v1.7h-1.7zM189.4,480.3h1.1v1.1h-1.1zM160.7,486.3h1.4v1.4h-1.4zM157.4,477.2h1.7v1.7h-1.7zM186.6,480.1h1.1v1.1h-1.1zM174.8,465.1h1.4v1.4h-1.4zM163.6,469.3h1.4v1.4h-1.4zM167.2,492.1h1.4v1.4h-1.4zM160.8,487.6h1.1v1.1h-1.1zM179.3,491.9h1.7v1.7h-1.7zM183.6,469.6h1.7v1.7h-1.7zM180.1,489.0h1.7v1.7h-1.7zM180.5,491.5h1.4v1.4h-1.4zM177.2,462.7h1.7v1.7h-1.7zM167.8,490.8h1.4v1.4h-1.4zM161.4,473.3h1.1v1.1h-1.1zM168.4,465.9h1.4v1.4h-1.4zM188.1,473.4h1.7v1.7h-1.7zM176.5,465.6h1.4v1.4h-1.4zM180.7,490.4h1.7v1.7h-1.7zM173.1,464.3h1.7v1.7h-1.7zM189.1,479.4h1.4v1.4h-1.4zM159.6,473.9h1.1v1.1h-1.1zM158.5,479.6h1.1v1.1h-1.1zM173.3,463.6h1.4v1.4h-1.4zM184.6,490.2h1.1v1.1h-1.1zM166.5,467.0h1.4v1.4h-1.4zM165.7,466.7h1.7v1.7h-1.7zM190.4,481.9h1.7v1.7h-1.7zM174.9,492.2h1.4v1.4h-1.4zM159.4,484.5h1.1v1.1h-1.1zM171.0,460.4h1.7v1.7h-1.7zM159.9,480.2h1.1v1.1h-1.1zM187.9,475.5h1.4v1.4h-1.4zM162.3,487.4h1.7v1.7h-1.7zM179.1,495.8h1.1v1.1h-1.1zM186.8,476.2h1.7v1.7h-1.7zM156.9,476.8h1.7v1.7h-1.7zM159.2,475.1h1.1v1.1h-1.1zM181.3,489.6h1.1v1.1h-1.1zM178.0,493.5h1.7v1.7h-1.7zM166.8,466.0h1.4v1.4h-1.4zM179.1,463.8h1.4v1.4h-1.4zM187.6,473.4h1.1v1.1h-1.1zM182.0,489.9h1.4v1.4h-1.4zM163.2,493.6h1.4v1.4h-1.4zM173.1,463.2h1.7v1.7h-1.7zM181.4,489.5h1.1v1.1h-1.1zM175.5,464.2h1.7v1.7h-1.7zM161.8,484.8h1.7v1.7h-1.7zM208.9,466.9h1.7v1.7h-1.7zM216.5,476.2h1.7v1.7h-1.7zM190.0,481.0h1.4v1.4h-1.4zM222.1,483.5h1.4v1.4h-1.4zM187.8,482.1h1.4v1.4h-1.4zM214.5,469.1h1.7v1.7h-1.7zM192.1,468.2h1.1v1.1h-1.1zM185.7,482.7h1.1v1.1h-1.1zM190.3,482.8h1.4v1.4h-1.4zM191.7,471.5h1.1v1.1h-1.1zM217.3,477.8h1.4v1.4h-1.4zM203.5,491.8h1.7v1.7h-1.7zM199.3,494.1h1.4v1.4h-1.4zM189.6,476.9h1.1v1.1h-1.1zM193.9,492.1h1.7v1.7h-1.7zM211.3,491.6h1.4v1.4h-1.4zM196.9,464.9h1.1v1.1h-1.1zM212.6,496.8h1.7v1.7h-1.7zM200.2,465.4h1.7v1.7h-1.7zM191.8,472.1h1.4v1.4h-1.4zM190.8,482.8h1.1v1.1h-1.1zM215.8,474.2h1.7v1.7h-1.7zM216.1,471.4h1.1v1.1h-1.1zM216.7,475.8h1.1v1.1h-1.1zM218.3,481.1h1.7v1.7h-1.7zM188.3,481.8h1.7v1.7h-1.7zM191.2,483.7h1.1v1.1h-1.1zM213.9,487.0h1.4v1.4h-1.4zM189.0,470.4h1.4v1.4h-1.4zM201.0,465.0h1.4v1.4h-1.4zM191.1,489.5h1.4v1.4h-1.4zM212.2,463.8h1.7v1.7h-1.7zM189.9,477.7h1.4v1.4h-1.4zM208.7,492.7h1.7v1.7h-1.7zM202.9,491.8h1.7v1.7h-1.7zM200.9,464.3h1.1v1.1h-1.1zM206.7,464.2h1.1v1.1h-1.1zM208.9,491.1h1.1v1.1h-1.1zM207.7,491.3h1.1v1.1h-1.1zM218.9,480.0h1.7v1.7h-1.7zM188.6,470.0h1.7v1.7h-1.7zM212.6,490.8h1.4v1.4h-1.4zM192.0,465.4h1.4v1.4h-1.4zM208.8,492.6h1.4v1.4h-1.4zM221.2,484.8h1.4v1.4h-1.4zM198.0,490.9h1.1v1.1h-1.1zM193.6,468.2h1.1v1.1h-1.1zM189.3,474.4h1.7v1.7h-1.7zM190.3,487.2h1.4v1.4h-1.4zM219.0,475.6h1.7v1.7h-1.7zM189.4,480.5h1.7v1.7h-1.7zM196.2,464.2h1.7v1.7h-1.7zM194.7,490.0h1.7v1.7h-1.7zM209.8,495.7h1.4v1.4h-1.4zM193.2,488.8h1.1v1.1h-1.1zM189.8,480.9h1.7v1.7h-1.7zM207.1,465.5h1.7v1.7h-1.7zM198.5,464.7h1.4v1.4h-1.4zM198.1,463.0h1.1v1.1h-1.1zM217.9,473.9h1.7v1.7h-1.7zM212.4,488.4h1.4v1.4h-1.4zM213.2,468.7h1.1v1.1h-1.1zM208.3,491.0h1.4v1.4h-1.4zM190.4,490.5h1.1v1.1h-1.1zM214.6,472.0h1.7v1.7h-1.7zM216.3,476.2h1.4v1.4h-1.4zM213.9,490.7h1.4v1.4h-1.4zM208.3,466.6h1.4v1.4h-1.4zM194.3,489.9h1.7v1.7h-1.7zM211.0,490.1h1.1v1.1h-1.1zM198.8,490.9h1.7v1.7h-1.7zM209.2,463.8h1.7v1.7h-1.7zM216.6,473.9h1.7v1.7h-1.7zM215.7,468.9h1.4v1.4h-1.4zM216.3,481.4h1.7v1.7h-1.7zM230.9,464.7h1.4v1.4h-1.4zM219.5,480.9h1.4v1.4h-1.4zM223.7,469.5h1.1v1.1h-1.1zM229.8,462.0h1.1v1.1h-1.1zM232.1,462.2h1.4v1.4h-1.4zM246.3,468.3h1.4v1.4h-1.4zM247.2,472.1h1.1v1.1h-1.1zM241.0,464.9h1.7v1.7h-1.7zM242.4,489.2h1.7v1.7h-1.7zM243.5,489.4h1.7v1.7h-1.7zM232.2,491.0h1.4v1.4h-1.4zM224.0,485.4h1.4v1.4h-1.4zM221.1,480.1h1.4v1.4h-1.4zM248.1,467.0h1.1v1.1h-1.1zM253.4,478.1h1.4v1.4h-1.4zM222.4,485.0h1.4v1.4h-1.4zM224.8,467.7h1.7v1.7h-1.7zM222.0,482.8h1.1v1.1h-1.1zM224.4,486.5h1.7v1.7h-1.7zM220.9,481.4h1.7v1.7h-1.7zM220.7,478.5h1.1v1.1h-1.1zM246.9,472.6h1.1v1.1h-1.1zM233.0,464.2h1.7v1.7h-1.7zM218.4,477.6h1.4v1.4h-1.4zM239.3,491.7h1.4v1.4h-1.4zM232.9,464.7h1.4v1.4h-1.4zM220.1,475.0h1.7v1.7h-1.7zM232.5,463.8h1.1v1.1h-1.1zM232.1,495.3h1.1v1.1h-1.1zM235.8,491.9h1.4v1.4h-1.4zM219.1,479.3h1.4v1.4h-1.4zM254.2,474.3h1.1v1.1h-1.1zM248.5,485.2h1.4v1.4h-1.4zM220.8,494.4h1.4v1.4h-1.4zM220.5,476.4h1.7v1.7h-1.7zM246.3,466.6h1.7v1.7h-1.7zM229.5,495.6h1.1v1.1h-1.1zM251.9,482.0h1.4v1.4h-1.4zM247.1,482.5h1.7v1.7h-1.7zM231.9,491.2h1.7v1.7h-1.7zM233.0,464.5h1.4v1.4h-1.4zM222.9,473.1h1.1v1.1h-1.1zM238.8,464.1h1.1v1.1h-1.1zM222.2,484.2h1.4v1.4h-1.4zM248.3,476.5h1.7v1.7h-1.7zM232.5,464.4h1.1v1.1h-1.1zM218.7,473.6h1.7v1.7h-1.7zM225.9,467.8h1.1v1.1h-1.1zM235.4,492.0h1.4v1.4h-1.4zM221.2,481.6h1.1v1.1h-1.1zM224.5,488.0h1.7v1.7h-1.7zM224.3,469.7h1.4v1.4h-1.4zM254.5,476.2h1.1v1.1h-1.1zM244.7,487.3h1.1v1.1h-1.1zM221.9,477.1h1.1v1.1h-1.1zM236.9,464.5h1.7v1.7h-1.7zM244.1,490.1h1.1v1.1h-1.1zM223.4,468.7h1.4v1.4h-1.4zM232.5,491.4h1.1v1.1h-1.1zM226.5,467.2h1.7v1.7h-1.7zM222.6,469.3h1.7v1.7h-1.7zM249.6,486.6h1.7v1.7h-1.7zM225.6,467.5h1.4v1.4h-1.4zM235.4,493.1h1.1v1.1h-1.1zM248.9,479.6h1.1v1.1h-1.1zM251.5,471.1h1.4v1.4h-1.4zM232.2,464.8h1.1v1.1h-1.1zM234.5,464.7h1.4v1.4h-1.4zM223.9,467.5h1.4v1.4h-1.4zM221.7,479.3h1.7v1.7h-1.7zM225.9,487.8h1.1v1.1h-1.1zM222.3,481.9h1.1v1.1h-1.1zM246.1,487.1h1.4v1.4h-1.4zM224.3,469.4h1.1v1.1h-1.1zM235.6,464.6h1.4v1.4h-1.4zM247.9,472.5h1.1v1.1h-1.1zM254.2,471.6h1.4v1.4h-1.4zM281.1,482.0h1.4v1.4h-1.4zM254.1,472.6h1.1v1.1h-1.1zM259.4,490.4h1.4v1.4h-1.4zM255.0,487.4h1.1v1.1h-1.1zM251.1,477.6h1.7v1.7h-1.7zM280.7,482.6h1.1v1.1h-1.1zM255.9,463.7h1.7v1.7h-1.7zM253.1,483.7h1.4v1.4h-1.4zM261.4,466.5h1.1v1.1h-1.1zM275.1,489.2h1.1v1.1h-1.1zM274.2,490.1h1.7v1.7h-1.7zM281.5,483.3h1.4v1.4h-1.4zM252.0,473.5h1.7v1.7h-1.7zM251.8,481.7h1.1v1.1h-1.1zM250.6,478.7h1.4v1.4h-1.4zM264.8,493.1h1.4v1.4h-1.4zM257.0,468.2h1.1v1.1h-1.1zM252.8,471.1h1.7v1.7h-1.7zM285.2,493.9h1.4v1.4h-1.4zM281.2,472.8h1.4v1.4h-1.4zM275.2,492.1h1.4v1.4h-1.4zM275.1,468.5h1.7v1.7h-1.7zM280.2,473.9h1.7v1.7h-1.7zM275.2,467.0h1.4v1.4h-1.4zM279.8,477.7h1.4v1.4h-1.4zM272.5,464.7h1.4v1.4h-1.4zM251.2,476.1h1.7v1.7h-1.7zM270.5,466.2h1.7v1.7h-1.7zM273.8,462.5h1.7v1.7h-1.7zM278.6,485.2h1.4v1.4h-1.4zM254.3,469.3h1.1v1.1h-1.1zM256.6,465.3h1.7v1.7h-1.7zM256.7,467.3h1.4v1.4h-1.4zM253.0,472.0h1.4v1.4h-1.4zM278.8,475.0h1.4v1.4h-1.4zM262.3,493.8h1.4v1.4h-1.4zM257.1,488.5h1.7v1.7h-1.7zM280.1,488.4h1.7v1.7h-1.7zM268.5,494.5h1.7v1.7h-1.7zM265.9,492.0h1.4v1.4h-1.4zM273.1,466.3h1.7v1.7h-1.7zM279.3,480.4h1.1v1.1h-1.1zM279.5,482.6h1.4v1.4h-1.4zM268.5,463.4h1.4v1.4h-1.4zM278.9,473.9h1.7v1.7h-1.7zM257.0,491.8h1.4v1.4h-1.4zM278.1,471.7h1.7v1.7h-1.7zM259.0,462.9h1.4v1.4h-1.4zM272.2,492.3h1.1v1.1h-1.1zM245.7,484.3h1.7v1.7h-1.7zM268.5,495.5h1.7v1.7h-1.7zM264.9,464.8h1.4v1.4h-1.4zM273.3,465.9h1.4v1.4h-1.4zM283.2,478.7h1.7v1.7h-1.7zM253.1,477.2h1.1v1.1h-1.1zM275.0,489.0h1.4v1.4h-1.4zM280.2,482.1h1.4v1.4h-1.4zM261.6,465.4h1.4v1.4h-1.4zM265.3,461.1h1.4v1.4h-1.4zM270.5,461.8h1.7v1.7h-1.7zM269.7,491.8h1.4v1.4h-1.4zM276.6,493.0h1.4v1.4h-1.4zM274.7,466.2h1.1v1.1h-1.1zM272.3,491.0h1.1v1.1h-1.1zM279.2,475.4h1.7v1.7h-1.7zM276.4,495.3h1.4v1.4h-1.4zM277.3,467.1h1.7v1.7h-1.7zM273.8,468.4h1.7v1.7h-1.7zM271.9,491.7h1.1v1.1h-1.1zM277.9,486.4h1.1v1.1h-1.1zM277.3,470.2h1.7v1.7h-1.7zM252.8,476.8h1.4v1.4h-1.4z" fill-opacity="0.75"/></g>
<g fill="#ec2328" stroke="#ec2328" stroke-opacity="0.92"><line x1="548.0" y1="169.6" x2="561.0" y2="169.6" stroke-width="2.8"/><line x1="572.4" y1="169.5" x2="586.2" y2="169.5" stroke-width="2.8"/><line x1="564.6" y1="169.8" x2="568.6" y2="169.8" stroke-width="2.4"/><line x1="570.3" y1="169.6" x2="572.4" y2="169.6" stroke-width="2.4"/><line x1="586.2" y1="169.1" x2="600.8" y2="169.1" stroke-width="2.8"/><line x1="614.1" y1="169.1" x2="623.8" y2="169.1" stroke-width="2.8"/><line x1="604.5" y1="169.5" x2="611.1" y2="169.5" stroke-width="2.4"/><line x1="623.8" y1="169.4" x2="639.8" y2="169.4" stroke-width="2.8"/><line x1="647.5" y1="169.2" x2="661.4" y2="169.2" stroke-width="2.8"/><line x1="643.0" y1="169.2" x2="646.2" y2="169.2" stroke-width="1.6"/><line x1="548.0" y1="205.4" x2="562.6" y2="205.4" stroke-width="2.8"/><line x1="573.2" y1="205.3" x2="586.2" y2="205.3" stroke-width="2.8"/><line x1="586.2" y1="205.6" x2="597.3" y2="205.6" stroke-width="2.8"/><line x1="612.2" y1="206.0" x2="623.8" y2="206.0" stroke-width="2.8"/><line x1="598.6" y1="204.8" x2="604.2" y2="204.8" stroke-width="2.0"/><line x1="623.8" y1="205.6" x2="636.2" y2="205.6" stroke-width="2.8"/><line x1="651.5" y1="205.5" x2="661.4" y2="205.5" stroke-width="2.8"/><line x1="639.0" y1="205.5" x2="644.6" y2="205.5" stroke-width="1.6"/><line x1="646.5" y1="205.2" x2="648.1" y2="205.2" stroke-width="1.6"/><line x1="548.0" y1="241.7" x2="562.8" y2="241.7" stroke-width="2.8"/><line x1="575.2" y1="241.4" x2="586.2" y2="241.4" stroke-width="2.8"/><line x1="586.2" y1="241.8" x2="603.0" y2="241.8" stroke-width="2.8"/><line x1="614.4" y1="241.2" x2="623.8" y2="241.2" stroke-width="2.8"/><line x1="606.4" y1="241.9" x2="613.1" y2="241.9" stroke-width="1.6"/><line x1="623.8" y1="241.6" x2="638.0" y2="241.6" stroke-width="2.8"/><line x1="651.2" y1="241.6" x2="661.4" y2="241.6" stroke-width="2.8"/><line x1="641.8" y1="241.4" x2="644.4" y2="241.4" stroke-width="2.4"/><line x1="646.4" y1="241.9" x2="649.4" y2="241.9" stroke-width="1.6"/><line x1="548.0" y1="278.2" x2="558.5" y2="278.2" stroke-width="2.8"/><line x1="572.2" y1="278.4" x2="586.2" y2="278.4" stroke-width="2.8"/><line x1="561.9" y1="278.2" x2="564.1" y2="278.2" stroke-width="2.4"/><line x1="586.2" y1="277.9" x2="602.7" y2="277.9" stroke-width="2.8"/><line x1="607.8" y1="278.0" x2="623.8" y2="278.0" stroke-width="2.8"/><line x1="605.5" y1="278.4" x2="607.8" y2="278.4" stroke-width="1.6"/><line x1="623.8" y1="278.2" x2="636.1" y2="278.2" stroke-width="2.8"/><line x1="648.8" y1="278.2" x2="661.4" y2="278.2" stroke-width="2.8"/><line x1="639.7" y1="277.8" x2="643.7" y2="277.8" stroke-width="2.4"/><line x1="547.7" y1="169.4" x2="547.7" y2="175.7" stroke-width="2.8"/><line x1="547.9" y1="198.2" x2="547.9" y2="205.5" stroke-width="2.8"/><line x1="547.9" y1="179.1" x2="547.9" y2="182.1" stroke-width="2.0"/><line x1="548.0" y1="184.3" x2="548.0" y2="185.5" stroke-width="2.0"/><line x1="548.0" y1="188.0" x2="548.0" y2="191.5" stroke-width="1.6"/><line x1="547.6" y1="205.5" x2="547.6" y2="217.8" stroke-width="2.8"/><line x1="547.9" y1="230.8" x2="547.9" y2="241.6" stroke-width="2.8"/><line x1="548.3" y1="224.8" x2="548.3" y2="227.7" stroke-width="1.6"/><line x1="547.8" y1="241.6" x2="547.8" y2="252.5" stroke-width="2.8"/><line x1="547.7" y1="266.4" x2="547.7" y2="278.0" stroke-width="2.8"/><line x1="547.8" y1="261.3" x2="547.8" y2="264.7" stroke-width="1.6"/><line x1="585.9" y1="169.4" x2="585.9" y2="177.9" stroke-width="2.8"/><line x1="586.1" y1="195.5" x2="586.1" y2="205.5" stroke-width="2.8"/><line x1="586.0" y1="190.8" x2="586.0" y2="193.7" stroke-width="2.0"/><line x1="586.2" y1="205.5" x2="586.2" y2="211.9" stroke-width="2.8"/><line x1="585.8" y1="235.7" x2="585.8" y2="241.6" stroke-width="2.8"/><line x1="586.4" y1="227.7" x2="586.4" y2="230.7" stroke-width="2.0"/><line x1="586.6" y1="233.0" x2="586.6" y2="234.7" stroke-width="2.0"/><line x1="585.9" y1="241.6" x2="585.9" y2="250.2" stroke-width="2.8"/><line x1="586.0" y1="267.9" x2="586.0" y2="278.0" stroke-width="2.8"/><line x1="586.4" y1="252.1" x2="586.4" y2="253.6" stroke-width="1.6"/><line x1="586.0" y1="256.5" x2="586.0" y2="260.0" stroke-width="1.6"/><line x1="623.4" y1="169.4" x2="623.4" y2="181.3" stroke-width="2.8"/><line x1="624.0" y1="195.2" x2="624.0" y2="205.5" stroke-width="2.8"/><line x1="624.2" y1="183.1" x2="624.2" y2="186.3" stroke-width="2.4"/><line x1="623.8" y1="187.5" x2="623.8" y2="190.4" stroke-width="2.0"/><line x1="624.2" y1="205.5" x2="624.2" y2="217.0" stroke-width="2.8"/><line x1="623.6" y1="228.7" x2="623.6" y2="241.6" stroke-width="2.8"/><line x1="623.8" y1="218.4" x2="623.8" y2="219.8" stroke-width="2.4"/><line x1="623.5" y1="241.6" x2="623.5" y2="247.5" stroke-width="2.8"/><line x1="623.9" y1="268.7" x2="623.9" y2="278.0" stroke-width="2.8"/><line x1="624.0" y1="250.4" x2="624.0" y2="252.0" stroke-width="2.0"/><line x1="623.7" y1="254.4" x2="623.7" y2="257.9" stroke-width="1.6"/><line x1="661.5" y1="169.4" x2="661.5" y2="179.3" stroke-width="2.8"/><line x1="661.3" y1="193.4" x2="661.3" y2="205.5" stroke-width="2.8"/><line x1="661.4" y1="182.4" x2="661.4" y2="185.8" stroke-width="2.4"/><line x1="661.6" y1="205.5" x2="661.6" y2="211.9" stroke-width="2.8"/><line x1="661.2" y1="233.6" x2="661.2" y2="241.6" stroke-width="2.8"/><line x1="661.8" y1="215.5" x2="661.8" y2="218.9" stroke-width="2.4"/><line x1="661.5" y1="222.1" x2="661.5" y2="224.1" stroke-width="2.0"/><line x1="661.5" y1="226.1" x2="661.5" y2="228.2" stroke-width="1.6"/><line x1="661.0" y1="229.8" x2="661.0" y2="233.1" stroke-width="1.6"/><line x1="661.4" y1="241.6" x2="661.4" y2="253.5" stroke-width="2.8"/><line x1="661.3" y1="267.2" x2="661.3" y2="278.0" stroke-width="2.8"/><line x1="661.3" y1="260.7" x2="661.3" y2="262.4" stroke-width="2.0"/></g>
<g fill="#ec2328"><circle cx="548.0" cy="169.4" r="2.5"/><circle cx="586.2" cy="169.4" r="2.5"/><circle cx="623.8" cy="169.4" r="2.5"/><circle cx="661.4" cy="169.4" r="2.5"/><circle cx="548.0" cy="205.5" r="2.5"/><circle cx="586.2" cy="205.5" r="2.5"/><circle cx="623.8" cy="205.5" r="2.5"/><circle cx="661.4" cy="205.5" r="2.5"/><circle cx="548.0" cy="241.6" r="2.5"/><circle cx="586.2" cy="241.6" r="2.5"/><circle cx="623.8" cy="241.6" r="2.5"/><circle cx="661.4" cy="241.6" r="2.5"/><circle cx="548.0" cy="278.0" r="2.5"/><circle cx="586.2" cy="278.0" r="2.5"/><circle cx="623.8" cy="278.0" r="2.5"/><circle cx="661.4" cy="278.0" r="2.5"/><path d="M606.3,170.2h1.2v1.2h-1.2zM657.2,168.8h0.9v0.9h-0.9zM582.1,170.4h1.2v1.2h-1.2zM613.1,170.7h0.9v0.9h-0.9zM594.4,169.5h1.2v1.2h-1.2zM550.2,169.5h0.9v0.9h-0.9zM606.5,167.5h0.9v0.9h-0.9zM603.7,170.8h0.9v0.9h-0.9zM554.6,168.1h1.2v1.2h-1.2zM578.1,169.1h1.2v1.2h-1.2zM603.9,167.9h1.2v1.2h-1.2zM607.6,171.8h0.9v0.9h-0.9zM569.1,167.2h0.9v0.9h-0.9zM628.0,167.4h0.9v0.9h-0.9zM551.1,169.5h1.2v1.2h-1.2zM584.2,169.6h1.2v1.2h-1.2zM575.2,167.9h0.9v0.9h-0.9zM645.3,169.4h1.2v1.2h-1.2zM629.8,168.6h0.9v0.9h-0.9zM590.4,166.9h1.2v1.2h-1.2zM642.2,168.2h0.9v0.9h-0.9zM608.1,168.3h0.9v0.9h-0.9zM573.8,169.3h0.9v0.9h-0.9zM583.5,167.0h1.2v1.2h-1.2zM649.8,170.2h0.9v0.9h-0.9zM649.4,171.5h0.9v0.9h-0.9zM649.6,169.8h1.2v1.2h-1.2zM558.2,169.8h1.2v1.2h-1.2zM609.7,169.2h0.9v0.9h-0.9zM558.1,168.6h1.2v1.2h-1.2zM652.2,170.0h1.2v1.2h-1.2zM605.0,169.3h0.9v0.9h-0.9zM639.6,169.1h1.2v1.2h-1.2zM563.9,169.4h0.9v0.9h-0.9zM560.3,169.8h1.2v1.2h-1.2zM654.0,170.1h0.9v0.9h-0.9zM613.9,170.7h0.9v0.9h-0.9zM635.2,170.9h1.2v1.2h-1.2zM592.1,168.3h0.9v0.9h-0.9zM616.3,169.9h0.9v0.9h-0.9zM620.2,170.2h1.2v1.2h-1.2zM599.4,169.6h1.2v1.2h-1.2zM593.8,169.7h0.9v0.9h-0.9zM584.4,170.1h0.9v0.9h-0.9zM639.5,168.7h1.2v1.2h-1.2zM612.7,166.9h0.9v0.9h-0.9zM605.2,171.7h1.2v1.2h-1.2zM579.3,169.1h0.9v0.9h-0.9zM632.9,169.8h1.2v1.2h-1.2zM562.4,167.0h1.2v1.2h-1.2zM648.5,168.6h0.9v0.9h-0.9zM593.8,167.3h0.9v0.9h-0.9zM555.1,168.6h0.9v0.9h-0.9zM649.5,170.6h0.9v0.9h-0.9zM573.8,171.2h1.2v1.2h-1.2zM571.9,168.7h1.2v1.2h-1.2zM612.7,168.1h1.2v1.2h-1.2zM621.1,169.1h0.9v0.9h-0.9zM634.9,169.7h0.9v0.9h-0.9zM632.3,169.4h1.2v1.2h-1.2zM598.2,167.2h1.2v1.2h-1.2zM548.2,169.3h1.2v1.2h-1.2zM576.0,170.8h1.2v1.2h-1.2zM658.6,168.5h0.9v0.9h-0.9zM620.6,169.6h0.9v0.9h-0.9zM591.6,168.9h0.9v0.9h-0.9zM591.5,171.9h0.9v0.9h-0.9zM596.6,168.9h1.2v1.2h-1.2zM595.5,167.7h1.2v1.2h-1.2zM608.2,169.1h1.2v1.2h-1.2zM622.6,204.5h1.2v1.2h-1.2zM550.1,205.1h0.9v0.9h-0.9zM614.6,204.6h1.2v1.2h-1.2zM553.1,204.5h1.2v1.2h-1.2zM633.4,209.2h1.2v1.2h-1.2zM555.5,206.7h0.9v0.9h-0.9zM596.6,202.0h0.9v0.9h-0.9zM552.2,206.0h0.9v0.9h-0.9zM655.2,205.3h0.9v0.9h-0.9zM616.7,204.1h0.9v0.9h-0.9zM552.8,204.9h0.9v0.9h-0.9zM588.2,205.8h0.9v0.9h-0.9zM561.3,203.7h1.2v1.2h-1.2zM616.4,206.2h1.2v1.2h-1.2zM589.0,205.4h0.9v0.9h-0.9zM656.9,203.1h0.9v0.9h-0.9zM574.5,207.6h1.2v1.2h-1.2zM578.7,207.3h0.9v0.9h-0.9zM620.1,205.5h0.9v0.9h-0.9zM604.9,204.7h0.9v0.9h-0.9zM648.4,205.9h1.2v1.2h-1.2zM576.9,205.6h0.9v0.9h-0.9zM618.9,206.8h0.9v0.9h-0.9zM634.2,206.5h0.9v0.9h-0.9zM610.5,204.6h1.2v1.2h-1.2zM587.9,204.6h1.2v1.2h-1.2zM586.7,205.4h0.9v0.9h-0.9zM639.6,203.0h1.2v1.2h-1.2zM640.4,203.9h0.9v0.9h-0.9zM598.3,203.9h1.2v1.2h-1.2zM592.0,205.9h1.2v1.2h-1.2zM580.6,206.1h0.9v0.9h-0.9zM596.4,205.1h1.2v1.2h-1.2zM556.1,205.9h0.9v0.9h-0.9zM596.9,203.3h1.2v1.2h-1.2zM581.5,204.5h0.9v0.9h-0.9zM555.8,205.9h0.9v0.9h-0.9zM627.2,207.4h1.2v1.2h-1.2zM630.7,205.1h0.9v0.9h-0.9zM572.2,204.5h1.2v1.2h-1.2zM589.3,207.0h1.2v1.2h-1.2zM597.5,206.9h1.2v1.2h-1.2zM599.9,206.1h0.9v0.9h-0.9zM556.7,208.9h1.2v1.2h-1.2zM549.8,204.7h0.9v0.9h-0.9zM632.3,204.0h1.2v1.2h-1.2zM639.0,203.1h0.9v0.9h-0.9zM567.4,204.9h1.2v1.2h-1.2zM648.7,205.4h0.9v0.9h-0.9zM609.8,205.8h1.2v1.2h-1.2zM658.5,204.1h0.9v0.9h-0.9zM614.2,203.6h1.2v1.2h-1.2zM637.9,206.0h0.9v0.9h-0.9zM650.8,205.8h0.9v0.9h-0.9zM550.0,205.2h1.2v1.2h-1.2zM575.3,205.0h0.9v0.9h-0.9zM603.4,206.5h1.2v1.2h-1.2zM592.5,204.9h1.2v1.2h-1.2zM640.2,205.1h1.2v1.2h-1.2zM609.0,206.1h0.9v0.9h-0.9zM628.7,206.7h1.2v1.2h-1.2zM645.5,204.8h1.2v1.2h-1.2zM643.2,208.0h0.9v0.9h-0.9zM607.5,203.4h0.9v0.9h-0.9zM639.6,204.3h0.9v0.9h-0.9zM575.4,206.1h0.9v0.9h-0.9zM661.4,204.9h0.9v0.9h-0.9zM591.9,206.1h1.2v1.2h-1.2zM578.6,206.6h0.9v0.9h-0.9zM582.0,204.5h0.9v0.9h-0.9zM636.5,241.8h1.2v1.2h-1.2zM549.0,242.0h1.2v1.2h-1.2zM651.9,242.2h0.9v0.9h-0.9zM588.5,241.7h0.9v0.9h-0.9zM616.2,240.1h1.2v1.2h-1.2zM568.3,241.9h1.2v1.2h-1.2zM593.4,244.2h1.2v1.2h-1.2zM645.5,240.0h1.2v1.2h-1.2zM649.4,242.6h0.9v0.9h-0.9zM602.7,241.0h0.9v0.9h-0.9zM593.1,241.7h1.2v1.2h-1.2zM659.6,242.3h1.2v1.2h-1.2zM637.9,244.4h0.9v0.9h-0.9zM647.9,242.7h1.2v1.2h-1.2zM598.9,241.6h0.9v0.9h-0.9zM595.0,243.0h1.2v1.2h-1.2zM563.7,243.6h0.9v0.9h-0.9zM620.5,240.3h1.2v1.2h-1.2zM606.5,243.2h0.9v0.9h-0.9zM547.2,242.2h0.9v0.9h-0.9zM641.9,242.5h0.9v0.9h-0.9zM649.7,242.1h1.2v1.2h-1.2zM556.6,241.6h1.2v1.2h-1.2zM549.2,240.0h0.9v0.9h-0.9zM595.1,242.1h1.2v1.2h-1.2zM571.1,241.3h1.2v1.2h-1.2zM607.7,242.9h1.2v1.2h-1.2zM583.5,243.7h1.2v1.2h-1.2zM555.8,241.1h0.9v0.9h-0.9zM588.5,243.0h0.9v0.9h-0.9zM559.2,240.5h0.9v0.9h-0.9zM622.5,242.5h0.9v0.9h-0.9zM646.7,241.2h1.2v1.2h-1.2zM612.1,240.2h1.2v1.2h-1.2zM636.1,243.2h0.9v0.9h-0.9zM651.0,239.6h0.9v0.9h-0.9zM580.5,240.4h1.2v1.2h-1.2zM657.1,242.7h1.2v1.2h-1.2zM611.1,242.3h1.2v1.2h-1.2zM631.4,242.0h1.2v1.2h-1.2zM582.7,241.4h1.2v1.2h-1.2zM598.6,243.0h1.2v1.2h-1.2zM557.6,242.0h0.9v0.9h-0.9zM567.8,242.0h1.2v1.2h-1.2zM551.2,239.6h0.9v0.9h-0.9zM573.1,242.1h0.9v0.9h-0.9zM660.9,239.6h1.2v1.2h-1.2zM653.2,242.5h1.2v1.2h-1.2zM654.0,242.2h0.9v0.9h-0.9zM641.8,242.3h1.2v1.2h-1.2zM602.7,243.2h1.2v1.2h-1.2zM617.8,240.7h1.2v1.2h-1.2zM660.3,242.1h0.9v0.9h-0.9zM577.1,239.7h0.9v0.9h-0.9zM586.5,241.2h1.2v1.2h-1.2zM570.6,241.1h1.2v1.2h-1.2zM638.0,242.4h0.9v0.9h-0.9zM576.3,240.0h1.2v1.2h-1.2zM610.3,240.7h0.9v0.9h-0.9zM613.3,242.8h0.9v0.9h-0.9zM660.9,239.5h0.9v0.9h-0.9zM612.5,241.4h0.9v0.9h-0.9zM619.4,241.8h0.9v0.9h-0.9zM602.1,242.1h1.2v1.2h-1.2zM627.4,240.2h1.2v1.2h-1.2zM577.7,244.2h0.9v0.9h-0.9zM599.2,241.5h0.9v0.9h-0.9zM611.7,240.6h1.2v1.2h-1.2zM566.4,241.5h1.2v1.2h-1.2zM616.4,238.8h0.9v0.9h-0.9zM654.8,280.0h1.2v1.2h-1.2zM574.8,278.0h1.2v1.2h-1.2zM642.9,278.6h0.9v0.9h-0.9zM599.4,279.5h1.2v1.2h-1.2zM567.8,281.1h0.9v0.9h-0.9zM582.5,277.7h1.2v1.2h-1.2zM618.0,276.6h0.9v0.9h-0.9zM570.0,276.3h1.2v1.2h-1.2zM550.8,277.4h1.2v1.2h-1.2zM567.0,277.9h0.9v0.9h-0.9zM577.4,276.9h0.9v0.9h-0.9zM630.3,277.5h0.9v0.9h-0.9zM593.5,277.4h1.2v1.2h-1.2zM594.5,278.0h1.2v1.2h-1.2zM633.7,273.8h1.2v1.2h-1.2zM642.2,278.4h0.9v0.9h-0.9zM612.3,279.3h1.2v1.2h-1.2zM595.5,277.1h0.9v0.9h-0.9zM584.0,280.0h1.2v1.2h-1.2zM631.5,278.7h1.2v1.2h-1.2zM633.8,277.4h0.9v0.9h-0.9zM575.2,279.6h1.2v1.2h-1.2zM575.0,280.4h1.2v1.2h-1.2zM627.2,275.5h0.9v0.9h-0.9zM609.9,276.3h0.9v0.9h-0.9zM662.3,275.4h1.2v1.2h-1.2zM647.0,275.9h0.9v0.9h-0.9zM622.0,279.1h1.2v1.2h-1.2zM612.4,278.5h0.9v0.9h-0.9zM561.3,277.7h1.2v1.2h-1.2zM547.1,278.0h1.2v1.2h-1.2zM566.9,279.1h1.2v1.2h-1.2zM650.3,278.5h1.2v1.2h-1.2zM626.9,276.8h0.9v0.9h-0.9zM552.3,280.7h1.2v1.2h-1.2zM584.4,278.5h0.9v0.9h-0.9zM654.8,279.5h0.9v0.9h-0.9zM570.4,277.8h0.9v0.9h-0.9zM569.6,278.6h1.2v1.2h-1.2zM548.9,277.0h0.9v0.9h-0.9zM608.5,278.3h0.9v0.9h-0.9zM622.0,281.2h1.2v1.2h-1.2zM630.8,276.9h1.2v1.2h-1.2zM629.3,280.6h0.9v0.9h-0.9zM585.7,280.2h1.2v1.2h-1.2zM556.1,277.4h0.9v0.9h-0.9zM646.4,279.4h1.2v1.2h-1.2zM567.9,279.4h0.9v0.9h-0.9zM604.9,277.7h0.9v0.9h-0.9zM615.1,279.0h0.9v0.9h-0.9zM659.8,278.6h0.9v0.9h-0.9zM578.9,277.5h0.9v0.9h-0.9zM600.4,280.6h0.9v0.9h-0.9zM608.3,279.3h0.9v0.9h-0.9zM547.8,276.6h1.2v1.2h-1.2zM639.7,277.2h0.9v0.9h-0.9zM566.0,278.8h0.9v0.9h-0.9zM579.2,277.9h0.9v0.9h-0.9zM568.5,281.1h0.9v0.9h-0.9zM618.8,275.7h1.2v1.2h-1.2zM547.3,278.4h0.9v0.9h-0.9zM611.2,277.7h1.2v1.2h-1.2zM584.0,277.7h1.2v1.2h-1.2zM605.3,278.0h0.9v0.9h-0.9zM615.5,278.1h1.2v1.2h-1.2zM574.2,277.4h1.2v1.2h-1.2zM610.2,277.9h0.9v0.9h-0.9zM577.0,280.1h0.9v0.9h-0.9zM645.4,277.2h0.9v0.9h-0.9zM615.9,277.4h0.9v0.9h-0.9zM548.6,231.7h0.9v0.9h-0.9zM547.4,235.7h1.2v1.2h-1.2zM545.9,257.6h0.9v0.9h-0.9zM548.0,176.4h0.9v0.9h-0.9zM545.8,231.3h0.9v0.9h-0.9zM547.4,237.3h0.9v0.9h-0.9zM549.1,202.8h1.2v1.2h-1.2zM548.3,253.0h1.2v1.2h-1.2zM548.3,178.2h1.2v1.2h-1.2zM547.3,195.8h1.2v1.2h-1.2zM549.1,244.8h0.9v0.9h-0.9zM546.0,203.3h1.2v1.2h-1.2zM548.7,208.7h0.9v0.9h-0.9zM551.4,182.6h0.9v0.9h-0.9zM545.9,184.4h0.9v0.9h-0.9zM548.6,168.8h1.2v1.2h-1.2zM548.8,266.8h1.2v1.2h-1.2zM549.0,220.6h0.9v0.9h-0.9zM547.1,275.9h0.9v0.9h-0.9zM546.1,201.1h0.9v0.9h-0.9zM548.1,229.4h0.9v0.9h-0.9zM549.4,208.7h1.2v1.2h-1.2zM548.8,273.1h0.9v0.9h-0.9zM547.6,213.0h0.9v0.9h-0.9zM545.4,250.0h0.9v0.9h-0.9zM546.8,219.6h1.2v1.2h-1.2zM548.3,271.9h0.9v0.9h-0.9zM549.2,192.2h1.2v1.2h-1.2zM548.6,195.7h1.2v1.2h-1.2zM545.7,190.9h0.9v0.9h-0.9zM548.1,234.1h1.2v1.2h-1.2zM546.5,278.3h0.9v0.9h-0.9zM548.4,263.8h0.9v0.9h-0.9zM549.2,173.6h1.2v1.2h-1.2zM548.0,208.5h0.9v0.9h-0.9zM548.2,250.4h1.2v1.2h-1.2zM547.5,231.2h0.9v0.9h-0.9zM547.3,208.3h0.9v0.9h-0.9zM548.1,248.9h0.9v0.9h-0.9zM547.3,248.4h0.9v0.9h-0.9zM547.4,170.7h0.9v0.9h-0.9zM549.2,262.9h1.2v1.2h-1.2zM548.2,204.4h0.9v0.9h-0.9zM546.4,201.8h0.9v0.9h-0.9zM548.6,222.4h0.9v0.9h-0.9zM549.4,171.9h1.2v1.2h-1.2zM546.0,213.8h1.2v1.2h-1.2zM548.3,203.1h1.2v1.2h-1.2zM548.5,242.1h1.2v1.2h-1.2zM548.7,227.6h1.2v1.2h-1.2zM584.2,213.2h0.9v0.9h-0.9zM587.9,179.8h1.2v1.2h-1.2zM586.3,206.6h0.9v0.9h-0.9zM586.6,251.0h1.2v1.2h-1.2zM587.5,231.0h1.2v1.2h-1.2zM582.9,241.4h0.9v0.9h-0.9zM586.6,270.0h0.9v0.9h-0.9zM588.1,274.0h1.2v1.2h-1.2zM585.8,194.3h1.2v1.2h-1.2zM585.8,181.7h1.2v1.2h-1.2zM585.3,175.0h1.2v1.2h-1.2zM587.0,246.2h0.9v0.9h-0.9zM585.0,185.9h0.9v0.9h-0.9zM587.0,207.2h0.9v0.9h-0.9zM586.1,226.0h0.9v0.9h-0.9zM583.4,221.3h1.2v1.2h-1.2zM584.3,246.0h0.9v0.9h-0.9zM585.5,268.2h0.9v0.9h-0.9zM587.4,208.7h0.9v0.9h-0.9zM586.7,210.1h1.2v1.2h-1.2zM585.7,220.3h0.9v0.9h-0.9zM587.1,172.3h1.2v1.2h-1.2zM585.3,267.0h0.9v0.9h-0.9zM585.8,239.4h1.2v1.2h-1.2zM587.4,236.4h0.9v0.9h-0.9zM585.9,253.7h0.9v0.9h-0.9zM585.1,237.1h1.2v1.2h-1.2zM586.9,176.0h1.2v1.2h-1.2zM584.1,265.7h0.9v0.9h-0.9zM588.1,257.3h1.2v1.2h-1.2zM583.9,202.5h0.9v0.9h-0.9zM588.9,235.4h1.2v1.2h-1.2zM585.8,193.7h0.9v0.9h-0.9zM585.3,270.9h1.2v1.2h-1.2zM583.8,168.8h0.9v0.9h-0.9zM585.5,237.5h1.2v1.2h-1.2zM586.4,197.6h0.9v0.9h-0.9zM586.4,245.3h0.9v0.9h-0.9zM586.5,275.0h1.2v1.2h-1.2zM585.5,257.4h1.2v1.2h-1.2zM585.7,209.3h1.2v1.2h-1.2zM588.3,194.6h0.9v0.9h-0.9zM585.4,208.5h0.9v0.9h-0.9zM583.4,265.4h0.9v0.9h-0.9zM587.0,258.9h1.2v1.2h-1.2zM585.5,225.1h1.2v1.2h-1.2zM585.2,172.9h1.2v1.2h-1.2zM585.3,174.3h1.2v1.2h-1.2zM586.1,212.4h1.2v1.2h-1.2zM584.2,247.6h1.2v1.2h-1.2zM623.5,209.1h0.9v0.9h-0.9zM623.0,261.6h0.9v0.9h-0.9zM622.0,231.2h1.2v1.2h-1.2zM624.8,257.0h0.9v0.9h-0.9zM623.0,190.6h0.9v0.9h-0.9zM623.1,276.1h1.2v1.2h-1.2zM627.0,233.2h0.9v0.9h-0.9zM622.6,198.0h1.2v1.2h-1.2zM622.9,214.8h0.9v0.9h-0.9zM622.8,173.8h0.9v0.9h-0.9zM624.2,264.7h0.9v0.9h-0.9zM624.9,213.1h0.9v0.9h-0.9zM624.3,260.5h0.9v0.9h-0.9zM623.2,202.6h1.2v1.2h-1.2zM623.6,193.1h0.9v0.9h-0.9zM622.5,276.9h1.2v1.2h-1.2zM624.0,243.1h0.9v0.9h-0.9zM624.8,217.3h0.9v0.9h-0.9zM625.9,229.9h1.2v1.2h-1.2zM622.2,181.7h1.2v1.2h-1.2zM623.6,266.2h1.2v1.2h-1.2zM625.5,237.6h1.2v1.2h-1.2zM624.6,204.0h1.2v1.2h-1.2zM624.2,230.2h0.9v0.9h-0.9zM624.7,175.5h0.9v0.9h-0.9zM623.1,168.8h1.2v1.2h-1.2zM624.7,221.9h1.2v1.2h-1.2zM623.8,222.0h1.2v1.2h-1.2zM622.3,207.3h0.9v0.9h-0.9zM623.2,229.3h1.2v1.2h-1.2zM626.2,199.0h1.2v1.2h-1.2zM622.8,231.6h0.9v0.9h-0.9zM624.6,187.8h0.9v0.9h-0.9zM623.9,243.0h1.2v1.2h-1.2zM623.8,208.1h1.2v1.2h-1.2zM622.7,169.6h0.9v0.9h-0.9zM622.3,175.4h1.2v1.2h-1.2zM625.5,258.0h1.2v1.2h-1.2zM624.6,212.6h0.9v0.9h-0.9zM621.5,271.9h1.2v1.2h-1.2zM623.5,212.9h0.9v0.9h-0.9zM622.9,169.4h0.9v0.9h-0.9zM622.8,193.5h1.2v1.2h-1.2zM624.6,258.1h1.2v1.2h-1.2zM622.7,237.7h0.9v0.9h-0.9zM624.1,268.5h1.2v1.2h-1.2zM623.7,234.1h0.9v0.9h-0.9zM624.7,191.8h0.9v0.9h-0.9zM623.5,228.8h0.9v0.9h-0.9zM623.1,185.6h1.2v1.2h-1.2zM661.2,207.1h0.9v0.9h-0.9zM661.5,213.0h1.2v1.2h-1.2zM662.6,273.5h0.9v0.9h-0.9zM659.5,265.8h1.2v1.2h-1.2zM660.0,175.8h1.2v1.2h-1.2zM660.5,216.0h0.9v0.9h-0.9zM661.9,223.6h1.2v1.2h-1.2zM658.7,176.1h1.2v1.2h-1.2zM661.0,273.2h1.2v1.2h-1.2zM662.1,226.5h0.9v0.9h-0.9zM660.6,184.8h0.9v0.9h-0.9zM660.5,191.9h1.2v1.2h-1.2zM662.5,266.6h0.9v0.9h-0.9zM660.0,181.8h1.2v1.2h-1.2zM659.0,216.6h0.9v0.9h-0.9zM661.9,209.9h0.9v0.9h-0.9zM663.2,225.4h1.2v1.2h-1.2zM661.8,199.8h0.9v0.9h-0.9zM662.1,234.2h1.2v1.2h-1.2zM661.1,204.7h1.2v1.2h-1.2zM660.6,250.0h1.2v1.2h-1.2zM663.4,174.2h0.9v0.9h-0.9zM661.9,251.7h0.9v0.9h-0.9zM661.0,261.3h0.9v0.9h-0.9zM661.9,260.1h1.2v1.2h-1.2zM659.9,175.6h0.9v0.9h-0.9zM661.4,247.1h1.2v1.2h-1.2zM663.8,191.3h0.9v0.9h-0.9zM661.8,264.1h0.9v0.9h-0.9zM662.4,176.5h1.2v1.2h-1.2zM660.4,255.5h1.2v1.2h-1.2zM661.5,263.0h0.9v0.9h-0.9zM662.1,256.5h0.9v0.9h-0.9zM662.4,205.3h1.2v1.2h-1.2zM661.6,274.1h1.2v1.2h-1.2zM662.5,188.5h1.2v1.2h-1.2zM660.8,171.8h1.2v1.2h-1.2zM660.1,176.4h0.9v0.9h-0.9zM660.1,227.3h0.9v0.9h-0.9zM664.4,230.3h1.2v1.2h-1.2zM662.2,210.2h1.2v1.2h-1.2zM659.6,241.2h0.9v0.9h-0.9zM661.7,245.3h1.2v1.2h-1.2zM662.0,173.0h1.2v1.2h-1.2zM663.1,181.2h1.2v1.2h-1.2zM660.8,202.4h0.9v0.9h-0.9zM660.6,278.4h1.2v1.2h-1.2zM659.4,264.7h1.2v1.2h-1.2zM662.3,190.5h1.2v1.2h-1.2zM661.8,259.1h1.2v1.2h-1.2zM547.8,170.3h1.2v1.2h-1.2zM548.5,169.9h1.2v1.2h-1.2zM546.2,169.2h1.2v1.2h-1.2zM547.2,169.4h1.2v1.2h-1.2zM550.5,171.8h1.2v1.2h-1.2zM548.7,169.2h1.2v1.2h-1.2zM547.3,168.4h1.2v1.2h-1.2zM546.9,169.6h1.2v1.2h-1.2zM547.0,170.0h1.2v1.2h-1.2zM547.0,168.1h1.2v1.2h-1.2zM546.9,171.4h1.2v1.2h-1.2zM547.3,168.3h1.2v1.2h-1.2zM586.1,169.2h1.2v1.2h-1.2zM586.0,169.2h1.2v1.2h-1.2zM584.6,171.0h1.2v1.2h-1.2zM587.3,168.1h1.2v1.2h-1.2zM586.1,170.2h1.2v1.2h-1.2zM588.3,167.4h1.2v1.2h-1.2zM588.2,170.9h1.2v1.2h-1.2zM585.1,169.7h1.2v1.2h-1.2zM586.3,169.1h1.2v1.2h-1.2zM588.4,169.8h1.2v1.2h-1.2zM584.5,164.5h1.2v1.2h-1.2zM587.6,166.2h1.2v1.2h-1.2zM623.3,168.5h1.2v1.2h-1.2zM624.7,169.9h1.2v1.2h-1.2zM621.9,169.3h1.2v1.2h-1.2zM623.5,168.9h1.2v1.2h-1.2zM623.9,169.7h1.2v1.2h-1.2zM624.3,167.6h1.2v1.2h-1.2zM624.1,171.5h1.2v1.2h-1.2zM624.3,169.8h1.2v1.2h-1.2zM626.3,169.4h1.2v1.2h-1.2zM624.8,165.6h1.2v1.2h-1.2zM621.6,169.1h1.2v1.2h-1.2zM620.6,169.5h1.2v1.2h-1.2zM660.6,169.3h1.2v1.2h-1.2zM661.4,169.3h1.2v1.2h-1.2zM663.9,168.7h1.2v1.2h-1.2zM662.2,165.8h1.2v1.2h-1.2zM659.1,165.6h1.2v1.2h-1.2zM657.9,170.0h1.2v1.2h-1.2zM660.5,169.8h1.2v1.2h-1.2zM660.3,170.6h1.2v1.2h-1.2zM663.1,166.3h1.2v1.2h-1.2zM662.8,170.5h1.2v1.2h-1.2zM657.1,167.7h1.2v1.2h-1.2zM661.5,168.7h1.2v1.2h-1.2zM550.2,205.5h1.2v1.2h-1.2zM549.1,206.0h1.2v1.2h-1.2zM546.9,203.8h1.2v1.2h-1.2zM547.4,207.0h1.2v1.2h-1.2zM548.1,207.8h1.2v1.2h-1.2zM543.0,206.6h1.2v1.2h-1.2zM547.1,204.9h1.2v1.2h-1.2zM548.7,206.1h1.2v1.2h-1.2zM550.5,203.7h1.2v1.2h-1.2zM547.1,205.5h1.2v1.2h-1.2zM547.0,205.1h1.2v1.2h-1.2zM544.8,202.5h1.2v1.2h-1.2zM586.0,204.7h1.2v1.2h-1.2zM586.7,204.4h1.2v1.2h-1.2zM586.4,204.7h1.2v1.2h-1.2zM586.1,203.9h1.2v1.2h-1.2zM585.6,207.8h1.2v1.2h-1.2zM584.6,206.6h1.2v1.2h-1.2zM588.0,204.4h1.2v1.2h-1.2zM586.4,202.6h1.2v1.2h-1.2zM585.1,206.4h1.2v1.2h-1.2zM586.7,207.6h1.2v1.2h-1.2zM585.2,204.0h1.2v1.2h-1.2zM587.1,204.8h1.2v1.2h-1.2zM626.0,205.4h1.2v1.2h-1.2zM626.9,209.2h1.2v1.2h-1.2zM624.5,205.2h1.2v1.2h-1.2zM622.9,204.5h1.2v1.2h-1.2zM622.8,204.8h1.2v1.2h-1.2zM626.4,207.0h1.2v1.2h-1.2zM622.0,207.1h1.2v1.2h-1.2zM623.4,206.2h1.2v1.2h-1.2zM623.0,207.4h1.2v1.2h-1.2zM624.7,206.9h1.2v1.2h-1.2zM622.4,208.3h1.2v1.2h-1.2zM622.6,203.1h1.2v1.2h-1.2zM663.0,205.8h1.2v1.2h-1.2zM663.4,204.9h1.2v1.2h-1.2zM658.7,205.0h1.2v1.2h-1.2zM659.8,207.1h1.2v1.2h-1.2zM663.4,207.1h1.2v1.2h-1.2zM660.6,206.5h1.2v1.2h-1.2zM663.9,204.9h1.2v1.2h-1.2zM662.0,204.5h1.2v1.2h-1.2zM661.4,204.9h1.2v1.2h-1.2zM661.7,206.3h1.2v1.2h-1.2zM661.5,203.9h1.2v1.2h-1.2zM662.1,204.6h1.2v1.2h-1.2zM545.4,240.0h1.2v1.2h-1.2zM550.3,240.8h1.2v1.2h-1.2zM547.5,242.1h1.2v1.2h-1.2zM547.3,241.3h1.2v1.2h-1.2zM547.0,242.3h1.2v1.2h-1.2zM548.0,242.0h1.2v1.2h-1.2zM548.6,242.4h1.2v1.2h-1.2zM547.7,243.0h1.2v1.2h-1.2zM550.0,241.6h1.2v1.2h-1.2zM547.4,242.0h1.2v1.2h-1.2zM549.0,242.8h1.2v1.2h-1.2zM547.5,239.3h1.2v1.2h-1.2zM585.7,240.5h1.2v1.2h-1.2zM583.2,240.7h1.2v1.2h-1.2zM584.7,241.8h1.2v1.2h-1.2zM583.5,238.9h1.2v1.2h-1.2zM586.7,240.7h1.2v1.2h-1.2zM588.4,242.9h1.2v1.2h-1.2zM588.0,243.8h1.2v1.2h-1.2zM584.9,238.9h1.2v1.2h-1.2zM582.8,242.8h1.2v1.2h-1.2zM585.7,238.4h1.2v1.2h-1.2zM587.7,241.2h1.2v1.2h-1.2zM587.5,239.3h1.2v1.2h-1.2zM623.3,240.0h1.2v1.2h-1.2zM622.9,239.3h1.2v1.2h-1.2zM626.4,243.8h1.2v1.2h-1.2zM625.0,242.5h1.2v1.2h-1.2zM626.4,244.8h1.2v1.2h-1.2zM624.6,242.7h1.2v1.2h-1.2zM620.8,243.6h1.2v1.2h-1.2zM624.8,241.1h1.2v1.2h-1.2zM623.2,239.7h1.2v1.2h-1.2zM621.0,242.8h1.2v1.2h-1.2zM621.9,241.5h1.2v1.2h-1.2zM620.6,240.6h1.2v1.2h-1.2zM661.6,240.1h1.2v1.2h-1.2zM664.6,241.9h1.2v1.2h-1.2zM660.4,240.3h1.2v1.2h-1.2zM662.2,239.2h1.2v1.2h-1.2zM659.2,242.3h1.2v1.2h-1.2zM658.6,242.3h1.2v1.2h-1.2zM663.0,243.7h1.2v1.2h-1.2zM660.8,242.0h1.2v1.2h-1.2zM659.0,241.8h1.2v1.2h-1.2zM660.4,243.0h1.2v1.2h-1.2zM665.1,242.7h1.2v1.2h-1.2zM661.8,240.4h1.2v1.2h-1.2zM548.1,279.2h1.2v1.2h-1.2zM548.5,277.7h1.2v1.2h-1.2zM548.8,279.6h1.2v1.2h-1.2zM546.4,277.7h1.2v1.2h-1.2zM548.8,278.7h1.2v1.2h-1.2zM546.1,276.2h1.2v1.2h-1.2zM547.0,278.0h1.2v1.2h-1.2zM549.6,277.9h1.2v1.2h-1.2zM549.1,279.7h1.2v1.2h-1.2zM546.2,278.1h1.2v1.2h-1.2zM549.6,277.7h1.2v1.2h-1.2zM547.6,279.2h1.2v1.2h-1.2zM589.0,282.1h1.2v1.2h-1.2zM588.0,275.9h1.2v1.2h-1.2zM585.6,278.8h1.2v1.2h-1.2zM586.6,279.0h1.2v1.2h-1.2zM587.8,278.0h1.2v1.2h-1.2zM585.8,278.7h1.2v1.2h-1.2zM586.9,275.0h1.2v1.2h-1.2zM583.7,276.0h1.2v1.2h-1.2zM587.0,277.9h1.2v1.2h-1.2zM585.5,278.8h1.2v1.2h-1.2zM588.1,276.4h1.2v1.2h-1.2zM585.7,280.1h1.2v1.2h-1.2zM623.7,278.7h1.2v1.2h-1.2zM626.8,278.5h1.2v1.2h-1.2zM624.7,277.7h1.2v1.2h-1.2zM621.4,280.0h1.2v1.2h-1.2zM622.9,277.8h1.2v1.2h-1.2zM626.4,279.6h1.2v1.2h-1.2zM625.3,280.4h1.2v1.2h-1.2zM623.1,275.8h1.2v1.2h-1.2zM622.9,276.9h1.2v1.2h-1.2zM621.1,279.3h1.2v1.2h-1.2zM622.6,276.3h1.2v1.2h-1.2zM621.2,278.3h1.2v1.2h-1.2zM660.7,279.0h1.2v1.2h-1.2zM660.5,277.0h1.2v1.2h-1.2zM660.9,274.5h1.2v1.2h-1.2zM663.3,279.0h1.2v1.2h-1.2zM657.9,276.2h1.2v1.2h-1.2zM661.3,276.6h1.2v1.2h-1.2zM665.4,278.1h1.2v1.2h-1.2zM662.5,277.7h1.2v1.2h-1.2zM660.3,279.2h1.2v1.2h-1.2zM664.0,281.2h1.2v1.2h-1.2zM660.9,277.2h1.2v1.2h-1.2zM660.6,278.5h1.2v1.2h-1.2zM650.3,275.2h1.2v1.2h-1.2zM658.5,269.3h1.2v1.2h-1.2zM609.5,216.8h1.2v1.2h-1.2zM625.0,178.7h1.2v1.2h-1.2zM626.8,235.9h1.2v1.2h-1.2zM652.9,264.9h1.2v1.2h-1.2zM559.5,184.6h1.2v1.2h-1.2zM569.9,244.7h1.2v1.2h-1.2zM551.4,271.5h1.2v1.2h-1.2zM649.9,179.1h1.2v1.2h-1.2zM650.0,197.2h1.2v1.2h-1.2zM572.9,199.0h1.2v1.2h-1.2zM565.1,228.2h1.2v1.2h-1.2zM646.9,186.2h1.2v1.2h-1.2zM596.5,255.6h1.2v1.2h-1.2zM617.1,255.8h1.2v1.2h-1.2zM661.0,231.5h1.2v1.2h-1.2zM649.9,203.7h1.2v1.2h-1.2zM567.2,252.9h1.2v1.2h-1.2zM565.8,268.6h1.2v1.2h-1.2zM560.4,201.8h1.2v1.2h-1.2zM582.1,276.6h1.2v1.2h-1.2z" fill-opacity="0.85"/></g>
<polyline points="95.80,128.00 137.07,170.20 178.34,200.90 219.61,227.70 260.88,253.20 302.15,275.20 343.42,301.50 384.69,326.50 425.96,362.60 467.23,393.50 508.50,422.50 549.77,434.30 591.04,449.40 632.31,464.00 673.58,478.70" fill="none" stroke="#ec2328" stroke-width="2.5" stroke-linejoin="round" stroke-linecap="round"/>
<rect x="90.00" y="122.20" width="11.6" height="11.6" fill="#fff" stroke="#ec2328" stroke-width="2.85" stroke-linejoin="round"/>
<rect x="131.27" y="164.40" width="11.6" height="11.6" fill="#fff" stroke="#ec2328" stroke-width="2.85" stroke-linejoin="round"/>
<rect x="172.54" y="195.10" width="11.6" height="11.6" fill="#fff" stroke="#ec2328" stroke-width="2.85" stroke-linejoin="round"/>
<rect x="213.81" y="221.90" width="11.6" height="11.6" fill="#fff" stroke="#ec2328" stroke-width="2.85" stroke-linejoin="round"/>
<rect x="255.08" y="247.40" width="11.6" height="11.6" fill="#fff" stroke="#ec2328" stroke-width="2.85" stroke-linejoin="round"/>
<rect x="296.35" y="269.40" width="11.6" height="11.6" fill="#fff" stroke="#ec2328" stroke-width="2.85" stroke-linejoin="round"/>
<rect x="337.62" y="295.70" width="11.6" height="11.6" fill="#fff" stroke="#ec2328" stroke-width="2.85" stroke-linejoin="round"/>
<rect x="378.89" y="320.70" width="11.6" height="11.6" fill="#fff" stroke="#ec2328" stroke-width="2.85" stroke-linejoin="round"/>
<rect x="420.16" y="356.80" width="11.6" height="11.6" fill="#fff" stroke="#ec2328" stroke-width="2.85" stroke-linejoin="round"/>
<rect x="461.43" y="387.70" width="11.6" height="11.6" fill="#fff" stroke="#ec2328" stroke-width="2.85" stroke-linejoin="round"/>
<rect x="502.70" y="416.70" width="11.6" height="11.6" fill="#fff" stroke="#ec2328" stroke-width="2.85" stroke-linejoin="round"/>
<rect x="543.97" y="428.50" width="11.6" height="11.6" fill="#fff" stroke="#ec2328" stroke-width="2.85" stroke-linejoin="round"/>
<rect x="585.24" y="443.60" width="11.6" height="11.6" fill="#fff" stroke="#ec2328" stroke-width="2.85" stroke-linejoin="round"/>
<rect x="626.51" y="458.20" width="11.6" height="11.6" fill="#fff" stroke="#ec2328" stroke-width="2.85" stroke-linejoin="round"/>
<rect x="667.78" y="472.90" width="11.6" height="11.6" fill="#fff" stroke="#ec2328" stroke-width="2.85" stroke-linejoin="round"/>
<polyline points="95.80,109.10 137.07,154.30 178.34,190.60 219.61,217.00 260.88,240.40 302.15,259.80 343.42,285.50 384.69,306.80 425.96,342.30 467.23,368.90 508.50,403.40 549.77,416.40 591.04,435.70 632.31,451.70 673.58,472.20" fill="none" stroke="#0aa64b" stroke-width="2.5" stroke-linejoin="round" stroke-linecap="round"/>
<polygon points="95.80,116.50 88.95,105.40 102.65,105.40" fill="#fff" stroke="#0aa64b" stroke-width="2.85" stroke-linejoin="round"/>
<polygon points="137.07,161.70 130.22,150.60 143.92,150.60" fill="#fff" stroke="#0aa64b" stroke-width="2.85" stroke-linejoin="round"/>
<polygon points="178.34,198.00 171.49,186.90 185.19,186.90" fill="#fff" stroke="#0aa64b" stroke-width="2.85" stroke-linejoin="round"/>
<polygon points="219.61,224.40 212.76,213.30 226.46,213.30" fill="#fff" stroke="#0aa64b" stroke-width="2.85" stroke-linejoin="round"/>
<polygon points="260.88,247.80 254.03,236.70 267.73,236.70" fill="#fff" stroke="#0aa64b" stroke-width="2.85" stroke-linejoin="round"/>
<polygon points="302.15,267.20 295.30,256.10 309.00,256.10" fill="#fff" stroke="#0aa64b" stroke-width="2.85" stroke-linejoin="round"/>
<polygon points="343.42,292.90 336.57,281.80 350.27,281.80" fill="#fff" stroke="#0aa64b" stroke-width="2.85" stroke-linejoin="round"/>
<polygon points="384.69,314.20 377.84,303.10 391.54,303.10" fill="#fff" stroke="#0aa64b" stroke-width="2.85" stroke-linejoin="round"/>
<polygon points="425.96,349.70 419.11,338.60 432.81,338.60" fill="#fff" stroke="#0aa64b" stroke-width="2.85" stroke-linejoin="round"/>
<polygon points="467.23,376.30 460.38,365.20 474.08,365.20" fill="#fff" stroke="#0aa64b" stroke-width="2.85" stroke-linejoin="round"/>
<polygon points="508.50,410.80 501.65,399.70 515.35,399.70" fill="#fff" stroke="#0aa64b" stroke-width="2.85" stroke-linejoin="round"/>
<polygon points="549.77,423.80 542.92,412.70 556.62,412.70" fill="#fff" stroke="#0aa64b" stroke-width="2.85" stroke-linejoin="round"/>
<polygon points="591.04,443.10 584.19,432.00 597.89,432.00" fill="#fff" stroke="#0aa64b" stroke-width="2.85" stroke-linejoin="round"/>
<polygon points="632.31,459.10 625.46,448.00 639.16,448.00" fill="#fff" stroke="#0aa64b" stroke-width="2.85" stroke-linejoin="round"/>
<polygon points="673.58,479.60 666.73,468.50 680.43,468.50" fill="#fff" stroke="#0aa64b" stroke-width="2.85" stroke-linejoin="round"/>
<polyline points="95.80,36.80 137.07,77.50 178.34,119.10 219.61,139.90 260.88,160.20 302.15,178.20 343.42,210.40 384.69,236.60 425.96,262.10 467.23,278.30 508.50,295.30 549.77,304.20 591.04,316.30 632.31,329.30 673.58,346.30" fill="none" stroke="#2e4aa5" stroke-width="2.55" stroke-linejoin="round" stroke-linecap="round"/>
<polygon points="95.80,29.40 88.95,40.50 102.65,40.50" fill="#fff" stroke="#2e4aa5" stroke-width="2.85" stroke-linejoin="round"/>
<polygon points="137.07,70.10 130.22,81.20 143.92,81.20" fill="#fff" stroke="#2e4aa5" stroke-width="2.85" stroke-linejoin="round"/>
<polygon points="178.34,111.70 171.49,122.80 185.19,122.80" fill="#fff" stroke="#2e4aa5" stroke-width="2.85" stroke-linejoin="round"/>
<polygon points="219.61,132.50 212.76,143.60 226.46,143.60" fill="#fff" stroke="#2e4aa5" stroke-width="2.85" stroke-linejoin="round"/>
<polygon points="260.88,152.80 254.03,163.90 267.73,163.90" fill="#fff" stroke="#2e4aa5" stroke-width="2.85" stroke-linejoin="round"/>
<polygon points="302.15,170.80 295.30,181.90 309.00,181.90" fill="#fff" stroke="#2e4aa5" stroke-width="2.85" stroke-linejoin="round"/>
<polygon points="343.42,203.00 336.57,214.10 350.27,214.10" fill="#fff" stroke="#2e4aa5" stroke-width="2.85" stroke-linejoin="round"/>
<polygon points="384.69,229.20 377.84,240.30 391.54,240.30" fill="#fff" stroke="#2e4aa5" stroke-width="2.85" stroke-linejoin="round"/>
<polygon points="425.96,254.70 419.11,265.80 432.81,265.80" fill="#fff" stroke="#2e4aa5" stroke-width="2.85" stroke-linejoin="round"/>
<polygon points="467.23,270.90 460.38,282.00 474.08,282.00" fill="#fff" stroke="#2e4aa5" stroke-width="2.85" stroke-linejoin="round"/>
<polygon points="508.50,287.90 501.65,299.00 515.35,299.00" fill="#fff" stroke="#2e4aa5" stroke-width="2.85" stroke-linejoin="round"/>
<polygon points="549.77,296.80 542.92,307.90 556.62,307.90" fill="#fff" stroke="#2e4aa5" stroke-width="2.85" stroke-linejoin="round"/>
<polygon points="591.04,308.90 584.19,320.00 597.89,320.00" fill="#fff" stroke="#2e4aa5" stroke-width="2.85" stroke-linejoin="round"/>
<polygon points="632.31,321.90 625.46,333.00 639.16,333.00" fill="#fff" stroke="#2e4aa5" stroke-width="2.85" stroke-linejoin="round"/>
<polygon points="673.58,338.90 666.73,350.00 680.43,350.00" fill="#fff" stroke="#2e4aa5" stroke-width="2.85" stroke-linejoin="round"/>
<polyline points="95.80,48.00 137.07,94.50 178.34,133.90 219.61,164.50 260.88,189.30 302.15,215.70 343.42,238.30 384.69,260.40 425.96,280.80 467.23,303.10 508.50,324.70 549.77,347.50 591.04,365.40 632.31,380.70 673.58,394.50" fill="none" stroke="#f7941e" stroke-width="2.5" stroke-linejoin="round" stroke-linecap="round"/>
<polygon points="100.00,40.15 103.65,43.80 103.65,52.20 100.00,55.85 91.60,55.85 87.95,52.20 87.95,43.80 91.60,40.15" fill="#fff" stroke="#f7941e" stroke-width="2.85" stroke-linejoin="round"/>
<polygon points="141.27,86.65 144.92,90.30 144.92,98.70 141.27,102.35 132.87,102.35 129.22,98.70 129.22,90.30 132.87,86.65" fill="#fff" stroke="#f7941e" stroke-width="2.85" stroke-linejoin="round"/>
<polygon points="182.54,126.05 186.19,129.70 186.19,138.10 182.54,141.75 174.14,141.75 170.49,138.10 170.49,129.70 174.14,126.05" fill="#fff" stroke="#f7941e" stroke-width="2.85" stroke-linejoin="round"/>
<polygon points="223.81,156.65 227.46,160.30 227.46,168.70 223.81,172.35 215.41,172.35 211.76,168.70 211.76,160.30 215.41,156.65" fill="#fff" stroke="#f7941e" stroke-width="2.85" stroke-linejoin="round"/>
<polygon points="265.08,181.45 268.73,185.10 268.73,193.50 265.08,197.15 256.68,197.15 253.03,193.50 253.03,185.10 256.68,181.45" fill="#fff" stroke="#f7941e" stroke-width="2.85" stroke-linejoin="round"/>
<polygon points="306.35,207.85 310.00,211.50 310.00,219.90 306.35,223.55 297.95,223.55 294.30,219.90 294.30,211.50 297.95,207.85" fill="#fff" stroke="#f7941e" stroke-width="2.85" stroke-linejoin="round"/>
<polygon points="347.62,230.45 351.27,234.10 351.27,242.50 347.62,246.15 339.22,246.15 335.57,242.50 335.57,234.10 339.22,230.45" fill="#fff" stroke="#f7941e" stroke-width="2.85" stroke-linejoin="round"/>
<polygon points="388.89,252.55 392.54,256.20 392.54,264.60 388.89,268.25 380.49,268.25 376.84,264.60 376.84,256.20 380.49,252.55" fill="#fff" stroke="#f7941e" stroke-width="2.85" stroke-linejoin="round"/>
<polygon points="430.16,272.95 433.81,276.60 433.81,285.00 430.16,288.65 421.76,288.65 418.11,285.00 418.11,276.60 421.76,272.95" fill="#fff" stroke="#f7941e" stroke-width="2.85" stroke-linejoin="round"/>
<polygon points="471.43,295.25 475.08,298.90 475.08,307.30 471.43,310.95 463.03,310.95 459.38,307.30 459.38,298.90 463.03,295.25" fill="#fff" stroke="#f7941e" stroke-width="2.85" stroke-linejoin="round"/>
<polygon points="512.70,316.85 516.35,320.50 516.35,328.90 512.70,332.55 504.30,332.55 500.65,328.90 500.65,320.50 504.30,316.85" fill="#fff" stroke="#f7941e" stroke-width="2.85" stroke-linejoin="round"/>
<polygon points="553.97,339.65 557.62,343.30 557.62,351.70 553.97,355.35 545.57,355.35 541.92,351.70 541.92,343.30 545.57,339.65" fill="#fff" stroke="#f7941e" stroke-width="2.85" stroke-linejoin="round"/>
<polygon points="595.24,357.55 598.89,361.20 598.89,369.60 595.24,373.25 586.84,373.25 583.19,369.60 583.19,361.20 586.84,357.55" fill="#fff" stroke="#f7941e" stroke-width="2.85" stroke-linejoin="round"/>
<polygon points="636.51,372.85 640.16,376.50 640.16,384.90 636.51,388.55 628.11,388.55 624.46,384.90 624.46,376.50 628.11,372.85" fill="#fff" stroke="#f7941e" stroke-width="2.85" stroke-linejoin="round"/>
<polygon points="677.78,386.65 681.43,390.30 681.43,398.70 677.78,402.35 669.38,402.35 665.73,398.70 665.73,390.30 669.38,386.65" fill="#fff" stroke="#f7941e" stroke-width="2.85" stroke-linejoin="round"/>
<path d="M108.2,17.00 H95.80 V539.8 H673.7" fill="none" stroke="#000" stroke-width="1.8" stroke-linejoin="miter"/>
<path d="M95.80,493.00 H108.2 M95.80,397.80 H108.2 M95.80,302.60 H108.2 M95.80,207.40 H108.2 M95.80,112.20 H108.2 M178.34,539.8 V527.2 M384.69,539.8 V527.2 M591.04,539.8 V527.2" fill="none" stroke="#000" stroke-width="1.8"/>
<line x1="372.3" y1="30.4" x2="464.2" y2="30.4" stroke="#ec2328" stroke-width="2.5" stroke-linecap="round"/>
<rect x="412.70" y="24.60" width="11.6" height="11.6" fill="#fff" stroke="#ec2328" stroke-width="2.85" stroke-linejoin="round"/>
<line x1="372.3" y1="55.5" x2="464.2" y2="55.5" stroke="#0aa64b" stroke-width="2.5" stroke-linecap="round"/>
<polygon points="418.50,62.60 411.92,51.95 425.08,51.95" fill="#fff" stroke="#0aa64b" stroke-width="2.85" stroke-linejoin="round"/>
<line x1="372.3" y1="80.7" x2="464.2" y2="80.7" stroke="#2e4aa5" stroke-width="3.2" stroke-linecap="round"/>
<polygon points="418.50,73.52 411.86,84.29 425.14,84.29" fill="#fff" stroke="#2e4aa5" stroke-width="2.85" stroke-linejoin="round"/>
<line x1="372.3" y1="105.6" x2="464.2" y2="105.6" stroke="#f7941e" stroke-width="2.3" stroke-linecap="round"/>
<circle cx="418.5" cy="105.6" r="7.9" fill="#fff" stroke="#f7941e" stroke-width="2.4"/>
<line x1="536.4" y1="189.7" x2="402.31" y2="226.04" stroke="#000" stroke-width="2.7" stroke-linecap="round"/><polygon points="388.80,229.70 405.49,218.65 402.31,226.04 408.79,230.81" fill="#000" stroke="#000" stroke-width="0.6" stroke-linejoin="round"/>
<line x1="285.3" y1="370.4" x2="361.84" y2="335.86" stroke="#000" stroke-width="2.7" stroke-linecap="round"/><polygon points="374.60,330.10 359.87,343.66 361.84,335.86 354.69,332.17" fill="#000" stroke="#000" stroke-width="0.6" stroke-linejoin="round"/>
<g fill="#231f20" stroke="#231f20" stroke-width="0.25" opacity="0.995" style="font-family:&quot;Liberation Serif&quot;,serif"><text transform="matrix(0.9152 0 0 1.0208 52.826 31.845)" font-size="36">19</text><text transform="matrix(0.8768 0 0 1.0062 52.950 123.548)" font-size="36">18</text><text transform="matrix(0.8094 0 0 1.0232 55.069 220.100)" font-size="36">17</text><text transform="matrix(0.8945 0 0 1.0542 52.893 315.036)" font-size="36">16</text><text transform="matrix(0.8672 0 0 1.0208 52.982 410.045)" font-size="36">15</text><text transform="matrix(0.8806 0 0 1.0063 52.938 503.900)" font-size="36">14</text><text transform="matrix(0.8672 0 0 1.0042 162.982 577.649)" font-size="36">15</text><text transform="matrix(0.9879 0 0 1.0103 369.318 577.647)" font-size="36">20</text><text transform="matrix(0.9576 0 0 1.0042 575.164 577.649)" font-size="36">25</text><text transform="matrix(1.0148 0 0 0.9584 253.885 616.000)" font-size="36" letter-spacing="0.45">Number<tspan dx="-2.5"> </tspan>of<tspan dx="-3.5"> </tspan>spans</text><text transform="matrix(0 -1.0456 0.9884 0 42.900 332.968)" font-size="36">Q<tspan font-size="23" dy="-15">2</tspan><tspan dy="15">-factor</tspan></text><text transform="matrix(1.1019 0 0 1.0141 470.574 36.800)" font-size="27">Lin. Comp.</text><text transform="matrix(1.1086 0 0 1.0310 469.660 61.600)" font-size="27">Static NN</text><text transform="matrix(1.1065 0 0 1.0366 470.970 87.700)" font-size="27">Dynamic NN</text><text transform="matrix(1.1008 0 0 1.0310 470.974 112.800)" font-size="27">DBP-2 steps/span</text><text transform="matrix(1.1588 0 0 0.9973 574.841 156.100)" font-size="27">dNN</text><text transform="matrix(1.0953 0 0 1.0366 158.279 359.800)" font-size="27">Lin. Comp.</text></g>
</svg>
</body></html>
